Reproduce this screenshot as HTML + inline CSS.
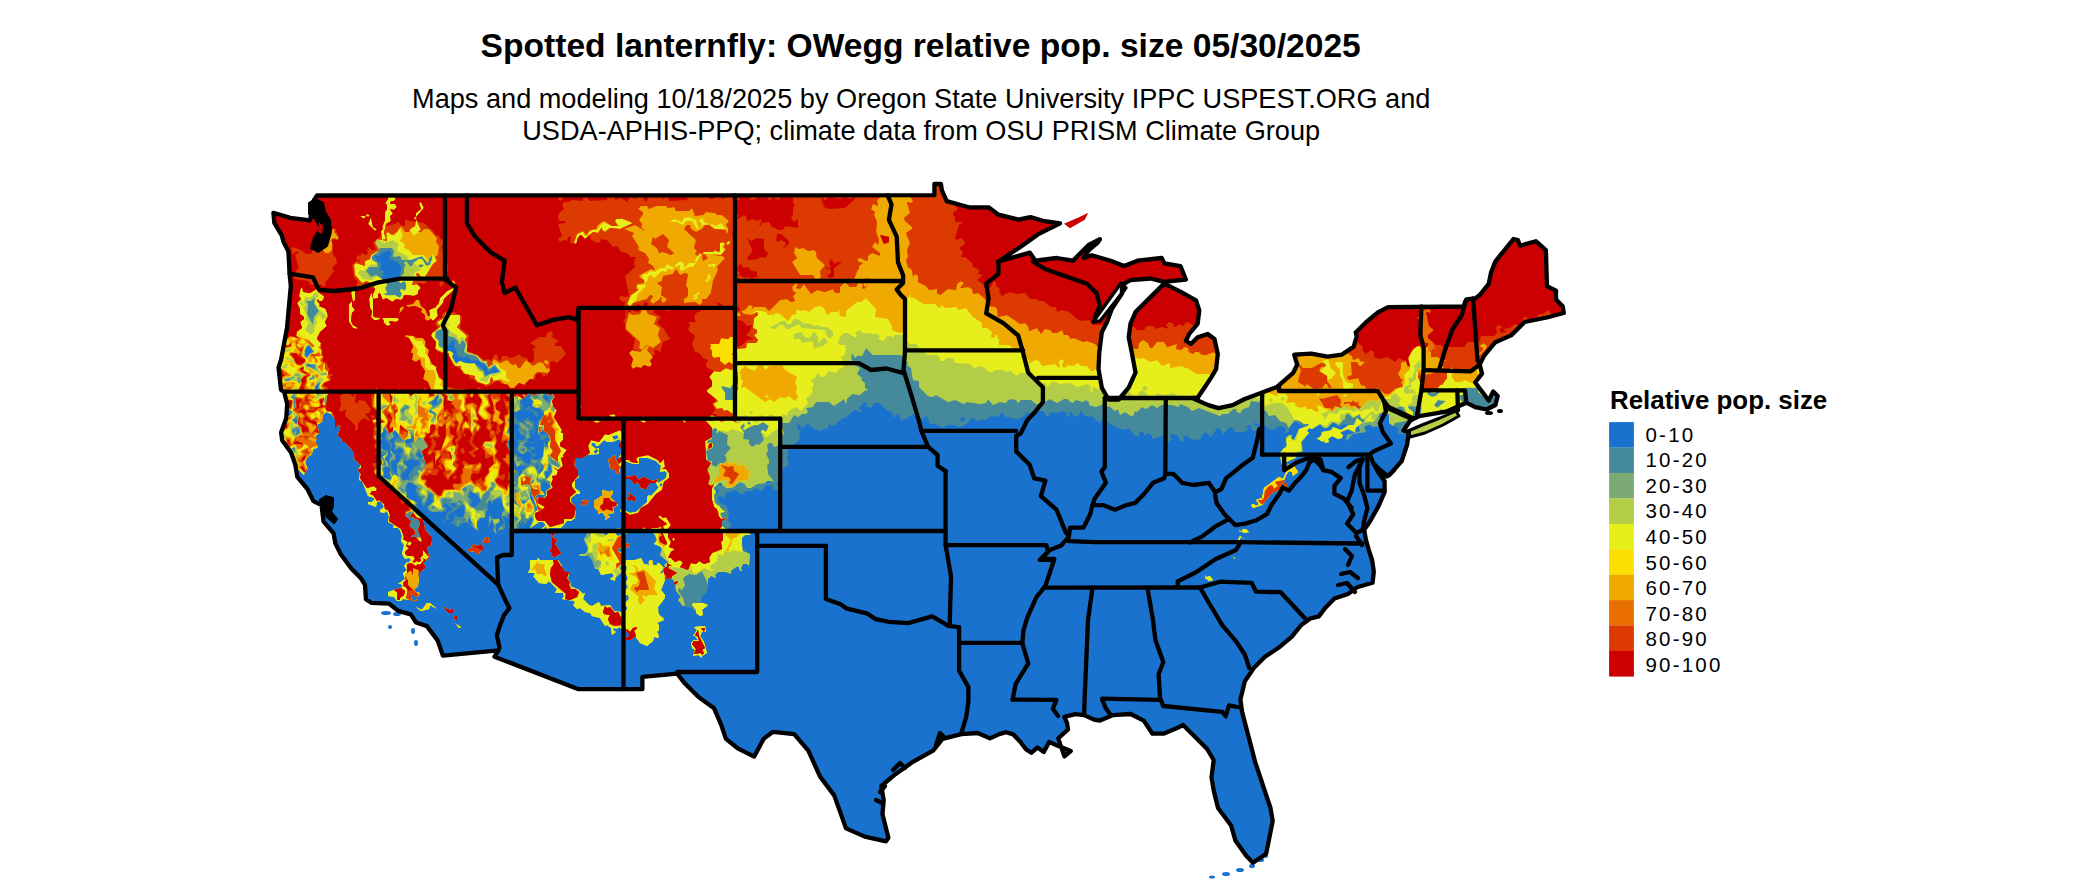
<!DOCTYPE html><html><head><meta charset="utf-8"><style>html,body{margin:0;padding:0;background:#fff;width:2100px;height:892px;overflow:hidden}svg{display:block}text{font-family:"Liberation Sans",sans-serif}</style></head><body>
<svg width="2100" height="892" viewBox="0 0 2100 892">
<rect width="2100" height="892" fill="#fff"/>
<text x="920.7" y="56.6" font-size="33.6" font-weight="bold" text-anchor="middle" fill="#000">Spotted lanternfly: OWegg relative pop. size 05/30/2025</text>
<text x="921.2" y="107.8" font-size="27.15" text-anchor="middle" fill="#000">Maps and modeling 10/18/2025 by Oregon State University IPPC USPEST.ORG and</text>
<text x="921.2" y="139.8" font-size="27.15" text-anchor="middle" fill="#000">USDA-APHIS-PPQ; climate data from OSU PRISM Climate Group</text>
<text x="1610" y="408.6" font-size="25.9" font-weight="bold" fill="#000">Relative pop. size</text>
<rect x="1609.1" y="422.10" width="24.8" height="25.6" fill="#1A72CF"/>
<text x="1645.5" y="441.80" font-size="20.5" letter-spacing="2.2" fill="#000">0-10</text>
<rect x="1609.1" y="447.53" width="24.8" height="25.6" fill="#458A9A"/>
<text x="1645.5" y="467.36" font-size="20.5" letter-spacing="2.2" fill="#000">10-20</text>
<rect x="1609.1" y="472.96" width="24.8" height="25.6" fill="#7BAA74"/>
<text x="1645.5" y="492.92" font-size="20.5" letter-spacing="2.2" fill="#000">20-30</text>
<rect x="1609.1" y="498.39" width="24.8" height="25.6" fill="#B3CD47"/>
<text x="1645.5" y="518.48" font-size="20.5" letter-spacing="2.2" fill="#000">30-40</text>
<rect x="1609.1" y="523.82" width="24.8" height="25.6" fill="#E6EE1C"/>
<text x="1645.5" y="544.04" font-size="20.5" letter-spacing="2.2" fill="#000">40-50</text>
<rect x="1609.1" y="549.25" width="24.8" height="25.6" fill="#FADF00"/>
<text x="1645.5" y="569.60" font-size="20.5" letter-spacing="2.2" fill="#000">50-60</text>
<rect x="1609.1" y="574.68" width="24.8" height="25.6" fill="#F0A900"/>
<text x="1645.5" y="595.16" font-size="20.5" letter-spacing="2.2" fill="#000">60-70</text>
<rect x="1609.1" y="600.11" width="24.8" height="25.6" fill="#E86F00"/>
<text x="1645.5" y="620.72" font-size="20.5" letter-spacing="2.2" fill="#000">70-80</text>
<rect x="1609.1" y="625.54" width="24.8" height="25.6" fill="#DC3A00"/>
<text x="1645.5" y="646.28" font-size="20.5" letter-spacing="2.2" fill="#000">80-90</text>
<rect x="1609.1" y="650.97" width="24.8" height="25.6" fill="#CC0000"/>
<text x="1645.5" y="671.84" font-size="20.5" letter-spacing="2.2" fill="#000">90-100</text>
<defs><clipPath id="land"><path d="M273.4,212.8 L290.2,217.8 L310.0,220.3 L312.0,210.0 L314.0,200.0 L317.1,195.5 L934.4,195.2 L934.4,184.0 L941.0,184.0 L941.8,190.0 L946.7,201.1 L968.9,207.3 L988.6,207.3 L998.5,214.7 L1018.2,219.6 L1030.5,217.1 L1042.9,220.8 L1060.1,223.3 L1037.9,234.4 L1020.7,246.7 L1005.9,256.6 L998.5,261.5 L1029.9,252.6 L1035.3,260.7 L1056.8,258.0 L1073.0,260.7 L1078.3,255.3 L1089.1,244.6 L1099.9,239.2 L1097.2,243.2 L1089.1,249.9 L1083.7,258.0 L1091.8,255.3 L1110.6,260.7 L1124.1,266.1 L1137.5,260.7 L1161.7,258.0 L1164.4,263.4 L1180.5,266.1 L1185.9,279.5 L1164.0,281.8 L1150.6,278.5 L1130.4,280.2 L1122.0,285.0 L1122.0,293.6 L1111.9,308.7 L1106.9,322.2 L1101.8,332.3 L1099.3,352.4 L1098.5,369.2 L1101.8,387.7 L1108.6,399.5 L1118.7,399.5 L1128.7,387.7 L1135.5,372.6 L1132.1,354.1 L1128.7,337.3 L1130.4,323.9 L1135.5,312.1 L1145.5,302.0 L1154.0,293.6 L1162.4,285.2 L1167.4,285.2 L1180.8,291.9 L1196.0,300.3 L1199.3,310.4 L1197.6,323.9 L1189.2,334.0 L1185.9,340.7 L1190.9,344.0 L1197.6,337.3 L1207.7,334.0 L1214.5,339.0 L1217.8,354.1 L1216.1,369.2 L1211.1,377.6 L1204.4,387.7 L1197.6,397.8 L1194.3,399.0 L1208.4,405.1 L1218.5,408.1 L1232.6,405.1 L1244.7,399.0 L1260.9,393.0 L1277.0,386.9 L1293.2,372.8 L1297.2,364.7 L1294.2,354.7 L1311.3,353.6 L1327.5,356.7 L1341.6,354.7 L1353.7,346.6 L1356.7,336.5 L1355.7,332.5 L1365.8,322.4 L1377.9,312.3 L1388.0,307.2 L1464.0,306.5 L1466.3,299.5 L1475.2,298.4 L1479.7,295.0 L1488.7,283.8 L1491.0,272.6 L1495.4,261.4 L1513.4,239.0 L1517.9,240.1 L1520.1,245.7 L1535.8,241.2 L1545.9,250.2 L1547.0,286.1 L1556.0,290.6 L1556.0,299.5 L1562.7,306.3 L1563.8,313.0 L1547.0,317.5 L1524.6,322.0 L1511.1,335.4 L1495.4,342.2 L1484.2,355.6 L1479.7,364.6 L1482.0,373.6 L1475.2,382.5 L1482.0,391.5 L1488.7,400.5 L1493.2,391.5 L1497.7,396.0 L1495.4,405.0 L1486.5,409.5 L1475.2,407.2 L1466.3,402.7 L1446.1,411.7 L1419.2,416.2 L1410.2,420.7 L1403.5,430.5 L1408.9,432.3 L1407.1,444.8 L1401.7,461.0 L1389.1,475.3 L1394.0,470.2 L1388.0,476.0 L1380.0,470.0 L1374.0,464.0 L1378.0,472.0 L1384.6,481.2 L1384.6,492.2 L1378.4,506.3 L1370.5,520.5 L1364.2,529.9 L1365.8,539.3 L1368.9,550.3 L1372.1,560.0 L1373.8,571.6 L1372.6,582.8 L1357.0,587.3 L1348.0,594.0 L1334.5,598.5 L1325.6,607.4 L1318.8,616.4 L1309.9,618.7 L1300.9,625.4 L1291.9,636.6 L1278.5,647.8 L1265.0,656.8 L1253.8,668.0 L1244.8,681.4 L1240.4,699.4 L1242.1,711.9 L1255.2,762.1 L1270.5,808.0 L1272.7,821.1 L1266.1,853.9 L1253.0,862.7 L1246.4,856.1 L1235.5,840.8 L1231.1,825.5 L1218.0,808.0 L1213.7,790.5 L1211.5,777.4 L1213.7,760.0 L1207.1,749.0 L1196.2,738.1 L1183.1,725.0 L1176.5,728.3 L1163.4,733.7 L1152.5,733.7 L1143.7,720.6 L1130.6,714.0 L1113.1,715.1 L1100.0,720.6 L1094.0,719.6 L1084.2,715.1 L1075.2,714.2 L1064.4,716.9 L1067.1,723.2 L1068.0,729.5 L1058.2,738.4 L1064.4,756.4 L1070.7,751.0 L1057.3,745.6 L1049.2,742.0 L1043.8,751.9 L1037.5,747.4 L1031.3,752.8 L1025.9,749.2 L1020.5,742.0 L1013.3,734.4 L1006.1,732.2 L999.9,733.9 L990.0,738.4 L977.8,733.0 L961.4,734.2 L942.5,738.9 L933.1,750.7 L911.9,762.4 L895.4,774.2 L881.3,786.0 L883.7,800.1 L882.5,814.2 L888.4,837.8 L886.0,841.3 L864.8,836.6 L846.0,828.4 L834.2,795.4 L820.1,776.6 L808.3,750.7 L794.2,734.2 L773.0,731.8 L763.6,738.9 L754.2,756.6 L737.7,748.3 L725.9,738.9 L721.2,724.8 L714.1,708.3 L698.5,697.1 L685.0,683.6 L677.2,673.6 L642.4,676.9 L642.4,689.2 L578.5,689.2 L494.5,656.7 L498.6,650.3 L443.0,655.7 L437.6,640.4 L426.9,626.1 L416.1,622.5 L410.7,614.4 L398.2,610.9 L389.2,603.7 L371.3,602.8 L365.9,599.2 L365.0,584.8 L360.5,577.7 L351.5,568.7 L340.8,554.3 L335.4,543.6 L333.6,533.4 L323.5,521.3 L321.5,505.1 L313.4,501.1 L307.4,489.0 L297.3,476.9 L295.3,464.8 L291.2,452.7 L282.2,440.5 L281.1,432.5 L286.2,418.3 L287.2,404.2 L284.2,392.1 L281.0,389.7 L278.5,367.5 L281.0,360.0 L287.0,328.0 L290.8,286.0 L289.6,273.7 L288.4,251.5 L283.4,241.7 L281.8,235.5 L274.3,222.8 Z"/></clipPath></defs>
<g clip-path="url(#land)">
<rect x="250" y="170" width="1350" height="720" fill="#1A72CF"/>
<path fill="#458A9A" fill-rule="evenodd" d="M705,626L694,627L697,630L693,636L695,636L698,640L694,640L691,643L692,648L695,650L693,656L698,655L702,658L702,656L707,653L704,642L700,636L702,632L706,632ZM449,620L456,624L459,628L461,627ZM455,616L454,618L457,620L457,616ZM444,607L448,613L453,613L453,609L450,610ZM437,609L430,603L427,603L422,610L416,607L421,611L429,609L430,605ZM1205,575L1205,578L1209,581L1213,580L1210,576L1206,577ZM1230,555L1235,559L1235,557L1234,558ZM467,549L470,552L472,551L475,552L475,554L478,554L483,548L482,545L475,546L474,544L470,549ZM488,537L486,537L482,543L490,543ZM1246,540L1240,536L1237,541L1234,541L1239,541L1241,537ZM549,532L549,534L552,534L552,549L549,550L552,553L552,556L555,557L561,553L555,544L557,540L552,537L555,533ZM1239,531L1245,533L1249,532L1246,529L1243,529L1241,532L1240,530ZM490,514L488,528L492,520L495,525L493,530L496,535L496,525L500,522L499,518L493,519ZM589,500L581,501L581,504L585,506ZM627,492L630,496L626,499L635,501L636,498ZM612,490L610,492L602,490L603,495L594,501L594,507L598,511L598,514L602,512L606,517L605,520L610,517L607,514L614,513L613,508L618,505L610,497L613,493ZM1294,461L1292,464L1287,465L1287,470L1283,479L1279,477L1264,488L1262,498L1256,500L1259,504L1257,506L1253,504L1251,505L1253,508L1262,505L1271,494L1280,489L1281,483L1284,484L1286,490L1287,483L1283,483L1286,475L1289,471L1292,472L1293,476L1298,472L1294,466ZM536,427L533,431L533,437ZM524,411L529,409L530,410L528,412L532,411L536,417L538,416L537,412L530,409L529,406ZM248,152L250,169L248,172L251,174L251,177L246,184L247,189L244,191L246,195L244,200L250,202L247,207L253,217L251,220L253,231L250,233L252,236L252,242L248,249L249,271L247,274L247,278L250,281L248,284L252,287L249,306L252,306L253,308L247,313L245,318L248,320L247,316L249,313L251,314L251,321L254,326L249,335L249,358L252,361L251,366L253,372L250,375L247,375L244,372L246,378L245,382L249,385L251,397L246,399L253,409L251,410L251,415L248,417L244,414L244,418L249,418L253,422L260,419L277,420L277,426L281,430L279,431L283,434L284,438L282,444L286,444L288,446L285,453L289,453L292,456L287,465L292,467L294,470L299,470L304,475L305,471L308,469L305,463L307,457L311,455L314,448L315,449L318,447L316,444L316,436L319,433L317,425L322,422L323,415L326,412L333,415L335,419L335,428L338,425L341,426L338,435L343,440L342,442L345,442L353,451L355,460L361,465L358,470L360,473L359,480L362,481L368,496L374,498L374,500L372,502L368,502L368,504L376,507L377,502L379,501L382,503L384,507L380,510L380,512L384,513L387,511L389,517L388,522L394,525L393,528L398,528L400,530L402,536L401,541L404,545L402,554L405,559L409,558L411,560L408,563L406,561L407,562L404,566L407,570L403,573L405,579L398,584L401,584L403,587L388,592L388,596L394,597L397,601L401,601L403,599L418,601L417,599L415,601L412,600L410,595L413,594L417,597L420,594L417,591L418,592L416,593L414,589L418,586L419,573L426,567L423,563L429,558L427,547L431,545L432,538L425,530L423,519L417,513L417,503L407,497L406,487L409,482L417,487L415,490L418,497L422,499L421,503L424,508L430,493L432,495L431,500L432,499L433,501L427,507L430,512L446,512L446,507L443,507L445,503L453,509L446,514L446,520L443,522L445,523L446,520L449,520L448,515L463,505L465,507L463,517L457,517L455,514L454,519L449,525L453,523L455,526L459,527L462,522L466,522L474,527L481,535L478,531L477,523L480,519L485,518L485,514L488,510L488,502L490,501L493,505L493,501L499,498L501,499L504,508L502,512L502,519L504,523L498,528L498,531L505,529L505,521L502,518L503,515L506,518L511,519L508,526L512,533L517,528L519,531L519,522L524,528L523,525L526,524L531,517L534,521L530,528L539,522L543,522L545,524L545,526L541,529L542,531L546,526L547,530L549,528L561,528L567,521L571,521L575,518L576,507L571,502L571,498L576,494L580,494L580,492L575,488L575,480L579,477L577,473L578,470L574,466L575,458L582,458L585,455L599,454L599,448L596,449L591,445L592,443L595,443L596,446L598,446L604,440L607,442L612,442L620,439L621,441L619,447L621,447L623,451L618,459L618,465L614,455L609,460L608,459L611,469L615,470L616,473L619,474L620,466L624,465L623,463L625,461L633,464L639,464L639,458L648,458L656,461L661,466L660,472L665,471L667,473L666,478L658,483L657,482L659,479L653,481L643,477L639,480L635,475L630,477L623,476L622,478L630,479L635,484L638,482L641,488L646,489L650,483L656,482L659,488L651,496L649,495L647,497L647,502L636,512L630,513L622,509L620,510L624,519L622,524L625,527L624,534L619,536L615,534L621,530L619,528L613,532L609,532L607,536L601,532L594,533L589,530L584,539L588,548L587,552L585,554L580,554L579,556L586,556L587,554L592,560L595,569L598,569L601,575L612,573L614,576L610,579L615,581L615,578L622,572L626,573L628,578L626,584L628,587L624,592L624,595L628,595L629,599L626,602L623,598L622,601L627,607L627,610L623,610L621,612L614,611L610,605L601,606L599,602L592,606L589,605L583,599L585,593L583,594L579,590L570,586L571,584L568,579L569,572L565,572L562,569L562,566L558,560L540,560L538,558L537,560L530,560L530,569L528,573L534,573L535,575L533,576L539,583L546,584L549,581L557,589L555,593L563,593L564,596L562,599L574,601L575,603L573,605L577,609L580,608L585,612L590,613L592,616L600,618L605,626L607,625L611,628L612,635L616,632L613,630L614,628L617,629L619,627L623,630L626,627L626,631L629,634L629,636L625,638L627,640L630,640L635,636L640,643L647,646L653,641L654,637L658,638L659,636L657,632L659,630L659,625L657,623L664,620L663,617L659,616L658,607L665,598L665,595L661,590L665,580L665,575L667,579L671,578L675,582L676,591L681,597L678,600L683,606L692,608L698,615L701,616L703,615L702,610L708,606L707,604L701,603L702,596L706,593L708,587L708,579L711,576L716,578L715,575L718,572L726,572L731,574L731,571L736,567L739,567L740,571L742,571L741,568L743,564L747,564L749,566L750,554L743,551L741,539L745,535L751,535L743,530L740,534L737,530L730,529L731,525L728,520L729,512L726,505L723,505L718,500L718,497L722,496L725,499L725,493L736,490L740,494L744,494L746,496L744,493L745,491L753,491L755,488L762,491L766,485L772,485L773,490L778,490L781,488L776,485L779,481L778,473L789,464L787,459L788,450L800,439L799,435L801,430L798,430L797,426L799,424L802,428L804,428L805,425L808,424L814,429L821,431L823,429L827,429L830,423L831,426L834,426L841,419L845,418L855,410L861,412L862,411L859,408L865,402L867,404L866,406L871,408L875,403L880,403L886,410L892,412L893,417L895,417L898,413L901,420L906,419L913,414L916,415L916,418L924,419L924,417L927,416L930,424L935,424L943,428L946,425L956,425L957,427L960,427L968,423L972,417L976,421L987,419L991,416L998,417L1002,412L1006,417L1018,419L1023,417L1028,412L1034,416L1037,410L1044,412L1047,417L1051,412L1056,413L1062,411L1067,413L1066,417L1069,416L1070,411L1075,417L1078,416L1081,411L1085,416L1094,417L1095,420L1100,423L1103,417L1110,423L1110,425L1112,424L1113,426L1124,430L1129,428L1135,436L1139,436L1140,431L1144,433L1144,436L1149,433L1152,436L1152,439L1167,435L1168,442L1172,439L1170,436L1171,434L1177,435L1181,441L1184,441L1183,438L1186,435L1190,439L1197,440L1200,439L1205,432L1209,435L1209,437L1212,436L1217,428L1219,428L1223,434L1230,427L1233,428L1235,432L1244,432L1248,430L1247,426L1250,425L1252,427L1251,430L1255,431L1258,428L1257,426L1262,422L1268,429L1275,430L1275,428L1280,426L1284,427L1286,430L1285,434L1289,431L1289,426L1296,422L1304,427L1299,429L1294,440L1291,438L1292,435L1289,435L1286,438L1287,445L1279,454L1282,464L1286,461L1302,456L1298,456L1297,454L1299,452L1304,452L1302,444L1303,440L1309,433L1307,430L1320,424L1324,428L1329,427L1329,425L1333,422L1339,427L1344,424L1349,425L1346,428L1341,430L1333,427L1332,430L1322,432L1321,436L1317,439L1316,438L1323,442L1324,440L1325,443L1329,442L1328,439L1332,436L1338,439L1342,438L1343,435L1340,433L1349,429L1355,433L1347,435L1346,441L1353,434L1366,432L1364,427L1367,425L1371,425L1372,427L1380,426L1383,420L1378,416L1381,413L1387,413L1389,415L1389,423L1393,426L1392,427L1394,426L1399,429L1397,432L1398,434L1407,434L1406,426L1409,422L1413,425L1410,429L1413,429L1412,426L1418,423L1435,423L1438,418L1447,418L1449,415L1456,420L1465,416L1466,413L1471,410L1478,413L1477,411L1479,409L1481,409L1483,413L1498,412L1505,408L1506,412L1514,411L1516,414L1520,414L1522,412L1538,413L1541,410L1547,411L1552,409L1553,413L1557,414L1561,409L1566,408L1570,412L1585,410L1592,414L1594,413L1595,409L1600,410L1601,404L1598,402L1598,399L1604,394L1601,390L1601,377L1599,375L1602,369L1602,352L1600,350L1600,346L1603,344L1602,340L1604,336L1602,334L1598,334L1598,313L1602,310L1600,305L1603,302L1603,299L1596,292L1599,289L1603,292L1605,289L1603,287L1602,278L1599,274L1600,267L1598,263L1598,259L1602,257L1601,247L1596,251L1595,248L1596,243L1602,237L1601,229L1597,224L1599,218L1603,217L1604,215L1601,211L1601,207L1604,203L1602,196L1599,195L1601,192L1604,194L1601,190L1602,183L1597,183L1596,181L1601,179L1605,172L1599,164L1604,157L1601,155L1597,159L1595,158L1599,148L1595,147L1587,148L1585,153L1580,153L1577,149L1570,152L1565,146L1558,149L1553,148L1549,152L1544,152L1537,149L1531,153L1529,152L1529,148L1522,152L1516,151L1512,147L1513,150L1507,154L1506,149L1509,146L1507,145L1506,148L1496,148L1491,153L1488,153L1481,147L1474,150L1466,148L1464,150L1465,153L1462,155L1456,148L1450,149L1449,152L1442,148L1438,148L1438,153L1435,154L1433,149L1418,148L1416,151L1403,148L1400,151L1395,146L1393,148L1388,148L1387,151L1380,156L1376,154L1375,148L1371,150L1366,149L1363,153L1360,153L1352,147L1344,150L1337,150L1337,146L1334,146L1331,150L1323,147L1321,151L1310,150L1307,153L1302,153L1295,147L1288,147L1288,150L1285,153L1279,148L1277,151L1270,151L1267,148L1263,148L1260,152L1252,152L1248,150L1241,152L1239,148L1235,147L1230,151L1222,149L1218,153L1215,150L1210,151L1199,145L1200,151L1198,153L1188,152L1186,149L1190,145L1183,149L1170,146L1163,147L1160,150L1145,150L1142,152L1139,152L1131,147L1126,151L1118,149L1115,152L1113,148L1109,147L1105,153L1102,151L1091,151L1087,148L1084,150L1079,149L1075,152L1067,153L1065,149L1068,145L1060,149L1054,148L1051,152L1041,151L1038,153L1034,153L1031,149L1024,149L1022,147L1019,153L1016,153L1013,149L1005,149L1000,151L997,148L991,151L975,152L972,150L967,153L962,150L948,152L939,149L935,153L927,148L924,151L918,151L911,148L905,153L901,150L896,151L894,146L891,145L888,147L891,151L890,154L888,154L884,148L879,152L876,149L871,148L867,153L863,148L857,150L856,147L854,147L851,152L846,152L843,146L835,150L833,148L827,148L827,150L822,154L817,150L813,151L813,147L810,149L804,148L800,153L796,153L792,150L790,152L781,153L774,151L772,148L762,148L752,151L757,155L756,157L752,157L745,148L738,147L737,153L733,153L728,150L723,152L718,149L719,152L717,154L709,146L707,146L704,149L705,153L702,154L702,148L699,147L695,149L692,148L689,152L682,151L679,148L668,151L663,144L660,144L653,151L649,150L648,148L634,149L630,146L627,152L618,152L617,147L614,147L612,149L600,150L593,154L586,153L584,155L578,151L584,148L588,150L590,147L586,144L578,147L571,145L570,147L566,148L567,150L565,153L562,152L561,147L551,151L535,153L534,151L537,148L533,144L530,150L524,148L521,153L518,152L518,149L513,153L508,150L500,152L499,149L495,149L488,155L485,152L486,147L478,150L472,146L463,148L462,153L459,151L457,152L454,148L442,151L433,151L430,149L420,151L415,148L406,152L401,148L396,148L393,150L384,150L375,154L372,152L371,147L367,147L361,150L361,155L346,149L341,149L338,154L327,155L325,150L320,148L310,148L308,152L299,152L297,150L292,152L283,147L276,146L273,148L268,147L266,150L261,150L259,153L252,147L253,151ZM663,567L665,571L661,574L660,572L662,571ZM623,563L627,567L626,573L625,570L619,569ZM626,534L635,531L639,532L644,528L647,533L649,533L650,530L655,535L657,540L654,544L660,546L662,549L660,555L668,562L664,565L666,567L664,568L659,563L657,563L657,565L653,565L652,560L649,561L649,565L644,564L641,558L635,560L625,560L625,555L617,550L619,548L624,549L630,546L630,543L626,544L623,541L626,538ZM521,522L523,521L524,524L523,525ZM468,520L470,519L472,523L470,524ZM408,518L410,517L412,519L410,520ZM508,516L510,515L513,519L512,520ZM535,508L537,507L538,510L536,511ZM450,504L454,503L457,506L454,507ZM522,502L524,500L526,501L524,503ZM514,501L515,500L518,504L516,505ZM546,495L545,497L538,497L538,499L536,499L537,495ZM530,492L536,501L535,504L531,500L529,494ZM470,491L476,494L481,501L474,508L470,505L473,501L469,497ZM718,489L719,491L717,494L715,491ZM392,491L395,489L396,490L395,492ZM390,486L391,485L393,488L391,489ZM717,485L719,483L723,484L722,486ZM659,485L661,483L663,484L661,487ZM765,483L767,481L771,482L767,484ZM544,481L550,486L546,491L546,495L541,491L540,486L542,484L543,485L542,483ZM546,471L550,473L547,479L545,475ZM384,467L390,468L390,479L384,478ZM549,464L552,471L550,473L548,468ZM542,464L543,471L540,474L538,471L541,469ZM536,464L539,466L537,470L535,467ZM511,466L514,462L517,468L518,466L529,466L522,470L522,474L520,476L518,475L519,472ZM419,460L419,465L414,467L408,476L410,479L403,480L401,475L408,468L404,462L412,459L416,461ZM380,457L381,454L384,455L381,458ZM419,452L422,456L421,459L416,455ZM593,452L596,449L599,450L596,454ZM548,437L549,440L546,446L544,439ZM413,436L414,441L406,444L405,441L407,439L411,439ZM612,436L617,435L619,438L614,440ZM539,432L542,432L542,430L546,431L548,436L547,437L546,434L541,435ZM395,430L399,436L394,441L395,447L393,450L397,450L399,448L403,450L400,455L401,457L399,462L396,464L398,469L396,475L392,469L391,462L396,460L396,455L400,450L397,454L393,453L391,451L392,444L390,442L390,440L395,436L393,432ZM386,429L387,433L385,434L385,439L390,444L390,453L392,455L389,458L389,465L385,459L388,456L388,450L383,450L381,448L382,445L379,444L379,441L383,438L378,438L378,436L381,435ZM298,428L300,430L298,435ZM1359,426L1360,431L1356,433L1355,428ZM511,423L513,426L517,423L520,427L518,429L520,434L525,437L524,440L517,440L519,445L516,449L520,454L524,454L528,451L533,456L530,461L530,465L524,462L521,457L518,457L514,449L517,453L515,455L510,450L513,445L510,446L507,443L513,437L516,438L515,439L515,434L511,434L510,430L508,429ZM1254,424L1256,422L1258,425L1256,426ZM294,420L296,419L297,422L296,423ZM960,419L962,417L966,419L962,422ZM289,410L291,414L287,416L286,413ZM543,396L546,395L549,398L548,402L544,399ZM437,395L439,396L436,403L439,404L434,405L431,402ZM529,394L532,395L529,397L533,401L531,407L540,409L544,415L542,416L541,420L538,420L538,433L541,436L539,440L542,439L544,441L543,457L537,460L532,459L537,453L532,454L530,451L536,448L531,446L529,450L524,445L527,442L534,443L537,441L530,443L527,440L531,437L530,432L534,428L534,422L528,420L530,416L524,420L524,424L515,418L517,414L514,417L512,415L514,412L522,410L523,406L520,402ZM318,384L319,386L316,390L315,387ZM306,366L308,364L312,366ZM309,345L313,352L307,358L305,351ZM445,349L453,340L455,342L454,345L458,357L464,358L467,356L472,361L477,360L486,366L488,372L491,371L494,366L500,372L486,375L484,370L475,363L469,364L459,361L456,364L452,357L453,353ZM374,256L375,255L378,257L382,253L389,250L392,254L389,258L397,262L402,267L399,278L383,280L382,278L384,271L380,270L381,263L377,261ZM1595,216L1597,214L1599,217L1596,218ZM1150,155L1155,153L1157,156L1152,157ZM606,153L609,150L612,151L610,154Z"/>
<path fill="#7BAA74" fill-rule="evenodd" d="M705,626L694,627L697,630L693,636L695,636L698,640L694,640L691,643L692,648L695,650L693,656L698,655L702,658L702,656L707,653L704,642L700,636L702,632L706,632ZM449,620L456,624L459,628L461,627ZM455,616L454,618L457,620L457,616ZM444,607L448,613L453,613L453,609L450,610ZM693,603L692,605L696,610L696,613L700,616L703,615L702,610L708,605L703,603ZM437,609L430,603L427,603L422,610L416,607L421,611L429,609L430,605ZM1205,575L1205,578L1209,581L1213,580L1210,576L1206,577ZM1230,555L1235,559L1235,557L1234,558ZM467,549L470,552L472,551L475,552L475,554L478,554L483,548L482,545L475,546L474,544L470,549ZM488,537L486,537L482,543L490,543ZM1246,540L1240,536L1237,541L1234,541L1239,541L1241,537ZM549,532L549,534L552,534L552,549L549,550L552,553L552,556L555,557L561,553L555,544L557,540L552,537L555,533ZM1239,531L1245,533L1249,532L1246,529L1243,529L1241,532L1240,530ZM504,524L498,530L503,529L502,526ZM489,515L489,525L491,520L494,521L493,523L495,527L493,530L497,534L495,528L496,524L500,522L499,519L491,519ZM589,500L581,501L581,504L585,506ZM627,492L630,496L626,499L635,501L636,498ZM612,490L610,492L602,490L603,495L594,501L594,507L598,511L598,514L602,512L606,517L605,520L610,517L607,514L614,513L613,508L618,505L610,497L613,493ZM1294,461L1292,464L1287,465L1287,470L1283,479L1279,477L1264,488L1262,498L1256,500L1259,504L1257,506L1253,504L1251,505L1253,508L1262,505L1271,494L1280,489L1281,483L1284,484L1286,490L1287,483L1283,483L1286,475L1289,471L1292,472L1293,476L1298,472L1294,466ZM531,460L534,463L538,461ZM391,450L390,452L393,456L390,459L390,463L392,459L394,460L395,456ZM526,441L520,443L518,448L520,453L523,454L527,451L527,448L522,445ZM520,450L522,447L526,449L524,452ZM521,422L519,424L522,429L521,434L523,433L522,430L524,429L527,431L526,438L529,438L528,430L533,426L530,422L525,421L527,424L532,426L529,429ZM1498,402L1505,402L1504,400L1502,401L1499,396ZM248,152L250,169L248,172L251,174L251,177L246,184L247,189L244,191L246,195L244,200L250,202L247,207L253,217L251,220L253,231L250,233L252,236L252,242L248,249L249,271L247,274L247,278L250,281L248,284L252,287L249,306L252,306L253,308L247,313L245,318L248,320L247,316L249,313L251,314L251,321L254,326L249,335L249,358L252,361L251,366L253,372L250,375L247,375L244,372L246,378L245,382L249,385L251,397L246,399L253,409L251,410L251,415L248,417L244,414L244,418L249,418L253,422L260,419L277,420L277,426L281,429L279,431L283,434L284,438L282,443L288,446L286,453L289,453L292,456L287,465L292,467L294,470L299,470L304,475L305,471L308,469L305,463L307,457L311,455L314,448L315,449L318,447L316,444L316,436L319,433L317,425L322,422L323,415L326,412L333,415L335,419L335,428L338,425L341,426L338,435L343,440L342,442L345,442L353,451L355,460L361,465L358,470L360,473L359,480L362,481L368,496L374,498L374,500L372,502L368,502L368,504L376,507L377,502L379,501L382,503L384,507L380,510L380,512L384,513L387,511L389,517L388,522L394,525L393,528L398,528L400,530L402,536L401,541L404,545L402,554L405,559L409,558L411,560L408,563L406,561L407,562L404,566L407,570L403,573L405,579L398,584L401,584L403,587L388,592L388,596L394,597L397,601L401,601L403,599L418,601L417,599L415,601L412,600L410,595L413,594L417,597L420,594L417,591L418,592L416,593L414,589L418,586L419,573L426,567L423,563L429,558L427,547L431,545L432,538L425,530L423,519L417,514L417,508L415,506L417,503L406,497L407,493L405,490L407,482L411,482L421,489L418,490L420,496L425,496L422,500L423,503L426,501L429,491L434,495L434,502L428,507L428,509L433,512L442,511L444,509L446,510L442,507L442,498L452,500L450,503L457,502L458,505L461,504L457,502L460,500L465,506L466,510L464,517L467,520L464,523L459,520L457,522L458,527L459,521L463,523L467,522L469,517L474,524L472,526L469,524L478,531L476,526L477,521L480,518L485,518L486,504L490,499L493,503L492,501L501,496L505,511L502,513L502,518L504,520L502,516L505,516L508,513L514,520L512,524L514,526L512,533L516,530L517,523L520,520L521,521L521,514L524,515L526,519L530,518L531,516L534,521L530,528L539,522L543,522L545,524L545,526L541,529L542,531L546,526L547,530L549,528L561,528L567,521L571,521L575,518L576,507L571,502L571,498L576,494L580,494L580,492L575,488L575,480L579,477L577,473L578,470L574,466L575,458L582,458L585,455L599,454L599,448L596,449L591,445L592,443L595,443L596,446L598,446L604,440L607,442L612,442L620,439L621,441L619,447L621,447L623,451L618,459L618,465L614,455L609,460L608,459L611,469L615,470L616,473L619,474L620,466L624,465L623,463L625,461L633,464L639,464L639,458L648,458L656,461L661,466L660,472L665,471L667,473L666,478L658,483L657,482L659,479L653,481L643,477L639,480L635,475L630,477L623,476L622,478L630,479L635,484L638,482L641,488L646,489L650,483L656,482L659,488L651,496L649,495L647,497L647,502L636,512L630,513L622,509L620,510L624,519L622,524L625,527L624,534L619,536L615,534L621,530L619,528L613,532L609,532L607,536L601,532L594,533L589,530L584,539L588,548L587,552L585,554L580,554L579,556L586,556L587,554L592,560L595,569L598,569L601,575L612,573L614,576L610,579L615,581L615,578L622,572L626,573L628,578L626,584L628,587L624,592L624,595L628,595L629,599L626,602L623,598L622,601L627,607L627,610L623,610L621,612L614,611L610,605L601,606L599,602L592,606L589,605L583,599L585,593L583,594L579,590L570,586L571,584L568,579L569,572L565,572L562,569L562,566L558,560L540,560L538,558L537,560L530,560L530,569L528,573L534,573L535,575L533,576L539,583L546,584L549,581L557,589L555,593L563,593L564,596L562,599L574,601L575,603L573,605L577,609L580,608L585,612L590,613L592,616L600,618L605,626L607,625L611,628L612,635L616,632L613,630L614,628L617,629L619,627L623,630L626,627L626,631L629,634L629,636L625,638L627,640L630,640L635,636L640,643L647,646L653,641L654,637L658,638L659,636L657,632L659,630L659,625L657,623L664,620L663,617L659,616L658,607L665,598L665,595L661,590L665,580L665,575L667,579L671,578L675,582L676,591L681,597L678,600L683,606L685,606L683,598L678,591L679,588L682,590L681,591L685,585L683,579L684,577L689,574L696,575L702,571L708,584L708,579L711,576L716,578L715,575L718,572L726,572L731,574L731,571L736,567L739,567L740,571L742,571L741,568L743,564L747,564L749,566L750,554L743,551L741,539L745,535L751,535L743,530L740,534L737,530L727,530L722,526L722,521L727,517L723,519L720,515L721,512L725,512L720,508L720,506L715,504L714,495L716,492L713,488L719,483L722,483L722,486L723,485L726,488L732,488L740,482L745,484L747,488L751,488L757,484L765,483L767,481L773,481L775,483L768,474L767,465L769,464L769,460L766,454L768,451L767,445L769,443L772,443L774,447L779,445L780,437L784,434L781,423L789,423L794,415L798,417L802,414L806,414L808,412L806,408L813,407L816,402L829,402L834,406L844,399L846,404L847,399L852,394L860,395L864,391L868,390L865,388L865,383L861,380L862,378L857,374L860,368L854,365L851,358L852,353L855,358L857,356L862,356L866,348L873,355L901,355L908,363L907,365L911,368L913,380L919,381L919,387L928,396L932,397L936,395L948,402L955,400L964,404L967,402L981,404L986,403L988,399L993,405L1000,402L1006,403L1008,400L1012,399L1016,400L1018,403L1021,400L1031,400L1036,404L1041,404L1050,399L1057,403L1064,399L1067,399L1072,403L1076,400L1083,402L1086,400L1089,402L1089,405L1096,407L1103,404L1105,407L1104,408L1109,406L1115,411L1118,409L1120,415L1125,412L1131,416L1133,416L1135,411L1137,412L1142,407L1146,409L1152,405L1157,408L1161,405L1172,405L1179,407L1180,404L1188,407L1192,411L1199,408L1220,416L1222,414L1228,414L1233,409L1236,409L1237,412L1240,413L1243,409L1249,407L1251,401L1259,402L1263,407L1263,410L1266,411L1269,416L1275,415L1280,421L1286,423L1289,428L1294,420L1301,421L1304,424L1309,424L1308,426L1299,429L1294,440L1291,438L1292,435L1289,435L1286,438L1287,445L1279,454L1282,464L1296,458L1296,455L1302,451L1301,442L1309,433L1307,431L1309,428L1312,429L1320,424L1324,428L1327,428L1333,422L1339,425L1344,419L1345,420L1345,416L1348,413L1353,418L1360,414L1361,418L1366,421L1363,423L1357,418L1354,425L1349,425L1341,430L1333,427L1330,431L1322,432L1321,436L1317,439L1316,438L1323,442L1324,440L1325,443L1329,442L1328,439L1332,436L1338,439L1342,438L1343,435L1340,433L1347,429L1355,433L1347,435L1346,441L1353,434L1366,432L1364,427L1367,425L1371,425L1372,427L1380,426L1383,420L1378,416L1381,413L1387,413L1389,415L1389,423L1393,426L1395,423L1406,421L1413,417L1413,412L1408,408L1409,406L1420,407L1422,409L1420,417L1432,413L1436,415L1446,415L1450,413L1459,417L1462,416L1470,404L1469,401L1466,404L1466,406L1469,407L1465,409L1462,407L1462,402L1459,396L1463,394L1465,396L1467,395L1463,394L1461,390L1462,388L1475,388L1479,385L1480,389L1478,392L1483,395L1485,399L1488,399L1492,394L1500,393L1504,397L1514,395L1523,398L1534,394L1543,399L1548,397L1555,399L1559,391L1562,396L1566,398L1573,396L1576,399L1579,395L1587,394L1591,391L1594,392L1596,396L1599,394L1604,394L1601,390L1601,377L1599,375L1602,369L1602,352L1600,350L1600,346L1603,344L1602,340L1604,336L1602,334L1598,334L1598,313L1602,310L1600,305L1603,302L1603,299L1596,292L1599,289L1603,292L1605,289L1603,287L1602,278L1599,274L1600,267L1598,263L1598,259L1602,257L1601,247L1596,251L1595,248L1596,243L1602,237L1601,229L1597,224L1599,218L1603,217L1604,215L1601,211L1601,207L1604,203L1602,196L1599,195L1601,192L1604,194L1601,190L1602,183L1597,183L1596,181L1601,179L1605,172L1599,164L1604,157L1601,155L1597,159L1595,158L1599,148L1595,147L1587,148L1585,153L1580,153L1577,149L1570,152L1565,146L1558,149L1553,148L1549,152L1544,152L1537,149L1531,153L1529,152L1529,148L1522,152L1516,151L1512,147L1513,150L1507,154L1506,149L1509,146L1507,145L1506,148L1496,148L1491,153L1488,153L1481,147L1474,150L1466,148L1464,150L1465,153L1462,155L1456,148L1450,149L1449,152L1442,148L1438,148L1438,153L1435,154L1433,149L1418,148L1416,151L1403,148L1400,151L1395,146L1393,148L1388,148L1387,151L1380,156L1376,154L1375,148L1371,150L1366,149L1363,153L1360,153L1352,147L1344,150L1337,150L1337,146L1334,146L1331,150L1323,147L1321,151L1310,150L1307,153L1302,153L1295,147L1288,147L1288,150L1285,153L1279,148L1277,151L1270,151L1267,148L1263,148L1260,152L1252,152L1248,150L1241,152L1239,148L1235,147L1230,151L1222,149L1218,153L1215,150L1210,151L1199,145L1200,151L1198,153L1188,152L1186,149L1190,145L1183,149L1170,146L1163,147L1160,150L1145,150L1142,152L1139,152L1131,147L1126,151L1118,149L1115,152L1113,148L1109,147L1105,153L1102,151L1091,151L1087,148L1084,150L1079,149L1075,152L1067,153L1065,149L1068,145L1060,149L1054,148L1051,152L1041,151L1038,153L1034,153L1031,149L1024,149L1022,147L1019,153L1016,153L1013,149L1005,149L1000,151L997,148L991,151L975,152L972,150L967,153L962,150L948,152L939,149L935,153L927,148L924,151L918,151L911,148L905,153L901,150L896,151L894,146L891,145L888,147L891,151L890,154L888,154L884,148L879,152L876,149L871,148L867,153L863,148L857,150L856,147L854,147L851,152L846,152L843,146L835,150L833,148L827,148L827,150L822,154L817,150L813,151L813,147L810,149L804,148L800,153L796,153L792,150L790,152L781,153L774,151L772,148L762,148L752,151L757,155L756,157L752,157L745,148L738,147L737,153L733,153L728,150L723,152L718,149L719,152L717,154L709,146L707,146L704,149L705,153L702,154L702,148L699,147L695,149L692,148L689,152L682,151L679,148L668,151L663,144L660,144L653,151L649,150L648,148L634,149L630,146L627,152L618,152L617,147L614,147L612,149L600,150L593,154L586,153L584,155L578,151L584,148L588,150L590,147L586,144L578,147L571,145L570,147L566,148L567,150L565,153L562,152L561,147L551,151L535,153L534,151L537,148L533,144L530,150L524,148L521,153L518,152L518,149L513,153L508,150L500,152L499,149L495,149L488,155L485,152L486,147L478,150L472,146L463,148L462,153L459,151L457,152L454,148L442,151L433,151L430,149L420,151L415,148L406,152L401,148L396,148L393,150L384,150L375,154L372,152L371,147L367,147L361,150L361,155L346,149L341,149L338,154L327,155L325,150L320,148L310,148L308,152L299,152L297,150L292,152L283,147L276,146L273,148L268,147L266,150L261,150L259,153L252,147L253,151ZM663,567L665,571L661,574L660,572L662,571ZM623,563L627,567L626,573L625,570L619,569ZM626,534L635,531L639,532L644,528L647,533L649,533L650,530L655,535L657,540L654,544L660,546L662,549L660,555L668,562L664,565L666,567L664,568L659,563L657,563L657,565L653,565L652,560L649,561L649,565L644,564L641,558L635,560L625,560L625,555L617,550L619,548L624,549L630,546L630,543L626,544L623,541L626,538ZM513,517L517,517L519,520L515,521ZM409,511L414,512L410,515L411,517L419,520L420,524L418,530L421,535L420,539L417,537L411,537L412,535L417,534L415,534L414,530L409,526L411,521L405,516L405,514ZM431,507L433,506L435,508L432,509ZM520,501L527,501L523,504ZM514,501L515,500L518,504L516,505ZM535,497L539,494L546,495L545,497L538,497L537,500ZM530,490L538,508L535,512L534,505L530,499ZM470,489L473,493L478,494L481,501L483,495L488,490L490,491L489,497L486,501L486,507L483,510L477,510L468,504L469,500L467,495ZM392,491L395,489L396,490L395,492ZM462,490L464,487L468,489L465,492ZM399,488L400,487L406,491L403,492ZM493,486L493,489L490,491L489,489ZM390,486L391,485L393,488L391,489ZM659,485L661,483L663,484L661,487ZM492,483L493,482L495,485L493,486ZM533,480L534,481L532,484L531,481ZM537,475L539,480L544,479L550,481L551,488L546,491L546,495L541,491L541,483L536,480ZM423,467L424,470L422,471L421,470ZM550,462L552,472L546,480L544,471L548,471L547,467ZM384,460L387,463L385,466L383,465ZM549,457L550,456L555,460L559,466L558,467L551,463ZM412,453L416,459L419,459L422,462L420,467L422,469L417,471L419,475L414,476L412,481L406,480L403,482L400,476L401,471L398,466L400,465L404,468L404,470L407,467L403,464L403,458L405,455L407,457L405,460L411,458L410,454ZM381,450L387,452L385,456L382,456L384,459L383,461L380,458ZM593,452L596,449L599,450L596,454ZM419,448L423,454L423,459L426,462L426,466L424,468L424,464L415,455ZM291,448L294,447L296,449L294,451ZM377,445L379,444L382,447L381,448ZM416,438L419,437L420,440L418,441ZM612,436L617,435L619,438L614,440ZM411,432L414,436L414,442L411,444L413,447L412,448L405,445L405,441L407,439L411,439ZM715,428L717,429L717,433L719,431L728,435L727,444L731,448L725,455L727,460L725,463L720,463L716,467L712,465L712,461L708,461L706,451L713,447L713,443L708,443L707,441L712,439L711,431ZM298,427L300,433L296,436L296,430L293,435L292,430ZM1359,426L1360,431L1356,433L1355,428ZM384,426L391,434L387,436L389,442L389,440L394,437L392,432L395,430L404,440L403,442L394,442L396,447L395,449L399,447L404,449L404,456L397,464L397,473L400,476L392,476L390,471L389,472L392,478L389,480L383,477L384,473L382,470L383,467L388,466L388,463L384,459L388,453L381,448L382,445L380,445L378,441L379,439L380,440L383,438L381,437L379,439L378,436L383,431ZM744,423L745,426L742,430L740,427ZM763,422L769,426L766,432L763,430L761,431L764,440L759,445L757,444L752,447L749,444L749,440L743,439L744,433L742,430ZM747,423L749,421L751,424L749,425ZM507,419L509,418L512,420L509,421ZM297,416L298,423L296,424L292,420ZM1439,410L1442,409L1443,411L1441,412ZM430,409L436,414L435,418L434,415L429,412ZM288,409L292,412L289,416L285,414ZM1397,407L1403,407L1406,413L1401,417L1399,413L1402,413L1403,411L1400,411L1399,413ZM407,405L409,407L404,410L403,414L401,410ZM1434,405L1438,400L1446,401L1437,408ZM293,395L296,399L295,408L293,406L294,400L291,397ZM532,397L536,394L539,397L536,399ZM437,394L439,396L437,402L440,398L442,399L442,402L433,408L429,402L434,400ZM531,393L533,395L530,397L533,401L532,406L540,408L544,411L544,416L542,416L543,418L539,422L538,433L541,436L539,432L542,432L542,430L546,431L549,434L548,436L550,440L548,442L548,447L544,447L544,454L540,463L544,465L543,471L539,475L535,466L532,466L532,464L530,465L532,466L527,467L519,476L519,483L513,489L517,490L518,492L516,493L512,491L514,492L512,497L509,486L511,484L515,484L516,481L515,482L510,479L510,474L512,472L516,472L510,466L514,459L517,467L522,463L525,465L521,461L517,462L517,455L515,457L514,454L508,449L507,443L511,435L515,435L511,434L509,431L507,434L506,430L510,422L513,420L513,417L512,420L510,415L513,409L514,412L520,410L520,400ZM546,391L549,395L553,395L555,397L552,398L549,404L542,397ZM535,391L538,390L540,392L537,395ZM1441,391L1436,396L1432,397L1427,394L1429,391L1432,393L1435,393L1439,389ZM734,383L738,387L735,390L737,393L735,400L725,400L725,393L721,387L723,386L730,388ZM319,382L320,384L318,388L320,389L320,392L317,395L314,388ZM286,380L289,378L290,379L289,381ZM309,379L310,377L313,378L311,380ZM299,377L300,383L298,382ZM313,374L315,376L314,379L312,377ZM306,365L308,363L312,365L315,364L316,366L313,370ZM309,345L314,352L307,358L305,356L305,349ZM436,331L445,328L449,331L448,336L454,337L458,341L459,345L463,340L466,344L464,351L465,353L476,356L481,362L485,363L489,369L495,365L500,372L490,374L485,377L483,371L480,370L474,363L469,364L459,361L456,364L452,357L453,353L446,350L446,346L444,345L443,348L439,346L439,341L435,337ZM315,297L314,303L319,311L314,317L313,325L307,314L308,304L306,301L311,301ZM418,265L422,264L424,266L420,268ZM380,248L392,248L394,251L393,257L400,256L402,259L401,260L411,260L422,256L428,263L429,258L432,255L432,262L430,265L426,266L423,260L419,259L413,263L412,266L410,266L406,261L404,263L406,265L404,268L404,273L398,279L395,279L401,283L404,281L406,283L406,289L404,291L402,289L400,290L402,294L401,297L398,298L395,295L384,295L384,293L387,293L385,288L387,285L386,283L393,278L384,281L376,275L371,277L366,271L369,267L378,267L377,263L372,260L372,256L377,253ZM1595,216L1597,214L1599,217L1596,218ZM1150,155L1155,153L1157,156L1152,157ZM606,153L609,150L612,151L610,154Z"/>
<path fill="#B3CD47" fill-rule="evenodd" d="M705,626L694,627L697,630L693,636L695,636L698,640L694,640L691,643L692,648L695,650L693,656L698,655L702,658L702,656L707,653L704,642L700,636L702,632L706,632ZM449,620L456,624L459,628L461,627ZM455,616L454,618L457,620L457,616ZM444,607L448,613L453,613L453,609L450,610ZM693,603L692,605L696,610L696,613L700,616L703,615L702,610L708,605L703,603ZM437,609L430,603L427,603L422,610L416,607L421,611L429,609L430,605ZM1205,575L1205,578L1209,581L1213,580L1210,576L1206,577ZM1230,555L1235,559L1235,557L1234,558ZM467,549L470,552L472,551L475,552L475,554L478,554L483,548L482,545L475,546L474,544L470,549ZM488,537L486,537L482,543L490,543ZM1246,540L1240,536L1237,541L1234,541L1239,541L1241,537ZM549,532L549,534L552,534L552,549L549,550L552,553L552,556L555,557L561,553L555,544L557,540L552,537L555,533ZM1239,531L1245,533L1249,532L1246,529L1243,529L1241,532L1240,530ZM499,519L494,520L493,522L495,524L499,521ZM464,516L467,519L466,522L468,519ZM589,500L581,501L581,504L585,506ZM627,492L630,496L626,499L635,501L636,498ZM612,490L610,492L602,490L603,495L594,501L594,507L598,511L598,514L602,512L606,517L605,520L610,517L607,514L614,513L613,508L618,505L610,497L613,493ZM1294,461L1292,464L1287,465L1287,470L1283,479L1279,477L1264,488L1262,498L1256,500L1259,504L1257,506L1253,504L1251,505L1253,508L1262,505L1271,494L1280,489L1281,483L1284,484L1286,490L1287,483L1283,483L1286,475L1289,471L1292,472L1293,476L1298,472L1294,466ZM402,460L402,462L398,464L404,465L406,468L407,467L403,464ZM517,457L517,466L520,465L518,464L520,461L524,464L521,461L517,462ZM412,443L412,446L415,449L414,454L417,449L412,445ZM397,443L396,445L402,446L405,453L409,456L411,448L406,448L405,442L403,444ZM530,397L534,402L533,406L536,408L543,405L541,400L535,400ZM1498,402L1505,402L1504,400L1502,401L1499,396ZM248,152L250,169L248,172L251,174L251,177L246,184L247,189L244,191L246,195L244,200L250,202L247,207L253,217L251,220L253,231L250,233L252,236L252,242L248,249L249,271L247,274L247,278L250,281L248,284L252,287L249,306L252,306L253,308L247,313L245,318L248,320L247,316L249,313L251,314L251,321L254,326L249,335L249,358L252,361L251,366L253,372L250,375L247,375L244,372L246,378L245,382L249,385L251,397L246,399L253,409L251,410L251,415L248,417L244,414L244,418L249,418L253,422L260,419L277,420L277,425L282,429L279,431L283,434L283,437L285,437L282,443L288,446L286,452L292,456L287,465L292,467L294,470L299,470L304,475L305,471L308,469L305,463L307,457L311,455L314,448L315,449L318,447L316,444L316,436L319,433L317,425L322,422L323,415L326,412L333,415L335,419L335,428L338,425L341,426L338,435L343,440L342,442L345,442L353,451L355,460L361,465L358,470L360,473L359,480L362,481L368,496L374,498L374,500L372,502L368,502L368,504L376,507L377,502L379,501L382,503L384,507L380,510L380,512L384,513L387,511L389,517L388,522L394,525L393,528L398,528L400,530L402,536L401,541L404,545L402,554L405,559L409,558L411,560L408,563L406,561L407,562L404,566L407,570L403,573L405,579L398,584L401,584L403,587L388,592L388,596L394,597L397,601L401,601L403,599L418,601L417,599L415,601L412,600L410,595L413,594L417,597L420,594L417,591L418,592L416,593L414,589L418,586L419,573L426,567L423,563L429,558L427,547L431,545L432,538L425,530L423,519L416,514L417,509L412,505L416,503L413,500L409,500L406,497L406,493L403,494L398,489L401,484L399,475L399,478L396,475L392,476L390,471L391,476L393,477L391,481L382,477L382,468L388,465L384,459L388,453L382,449L387,452L387,454L383,457L387,465L384,467L382,466L383,461L379,456L379,450L376,446L377,439L375,436L380,435L384,426L389,433L395,430L404,440L411,438L409,435L410,431L407,430L407,428L414,431L414,442L418,439L416,438L417,437L424,438L428,447L421,451L423,453L426,466L422,472L418,470L420,475L414,482L415,484L419,484L423,487L420,493L426,496L426,499L423,501L427,497L427,489L434,494L434,502L429,507L434,505L439,510L445,509L442,508L440,499L446,497L454,498L454,492L460,493L463,496L466,512L470,512L469,514L471,516L471,521L478,531L476,526L477,521L480,517L485,517L484,513L482,511L478,511L481,512L477,513L474,508L471,508L468,503L463,500L464,493L462,489L465,486L472,485L474,487L473,492L479,492L481,499L483,494L492,486L491,483L493,481L496,485L493,491L491,491L491,495L495,496L492,500L501,495L503,506L506,511L505,512L508,511L512,517L515,515L519,518L516,525L516,530L513,532L516,530L516,525L521,519L520,512L523,508L525,509L523,511L526,514L526,518L528,519L530,514L534,518L530,528L539,522L543,522L545,524L545,526L541,529L542,531L546,526L547,530L549,528L561,528L567,521L571,521L575,518L576,507L571,502L571,498L576,494L580,494L580,492L575,488L575,480L579,477L577,473L578,470L574,466L575,458L582,458L585,455L599,454L599,448L596,449L591,445L592,443L595,443L596,446L598,446L604,440L607,442L612,442L620,439L621,441L619,447L621,447L623,451L618,459L618,465L614,455L609,460L608,459L611,469L615,470L616,473L619,474L620,466L624,465L623,463L625,461L633,464L639,464L639,458L648,458L656,461L661,466L660,472L665,471L667,473L666,478L658,483L657,482L659,479L653,481L643,477L639,480L635,475L630,477L623,476L622,478L630,479L635,484L638,482L641,488L646,489L650,483L656,482L659,488L651,496L649,495L647,497L647,502L636,512L630,513L622,509L620,510L624,519L622,524L625,527L624,534L619,536L615,534L621,530L619,528L613,532L609,532L607,536L602,533L599,535L599,532L594,533L590,530L592,533L588,538L584,539L588,548L587,552L585,554L580,554L579,556L586,556L587,554L589,557L587,553L592,553L595,561L599,560L601,562L601,564L597,568L595,567L595,569L598,569L601,575L612,573L614,576L610,579L615,581L615,578L622,572L626,573L628,578L626,584L628,587L624,592L624,595L628,595L629,599L626,602L623,598L622,601L627,607L627,610L623,610L621,612L614,611L610,605L601,606L599,602L592,606L589,605L583,599L585,593L583,594L579,590L570,586L571,584L568,579L569,572L565,572L562,569L562,566L558,560L540,560L538,558L537,560L530,560L530,569L528,573L534,573L535,575L533,576L539,583L546,584L549,581L557,589L555,593L563,593L564,596L562,599L574,601L575,603L573,605L577,609L580,608L585,612L590,613L592,616L600,618L605,626L607,625L611,628L612,635L616,632L613,630L614,628L617,629L619,627L623,630L626,627L626,631L629,634L629,636L625,638L627,640L630,640L635,636L640,643L647,646L653,641L654,637L658,638L659,636L657,632L659,630L659,625L657,623L664,620L663,617L659,616L658,607L665,598L665,595L661,590L665,580L665,575L667,579L671,578L675,582L676,591L681,597L678,600L683,606L685,606L683,598L678,591L679,588L682,590L681,591L685,585L683,579L684,577L689,574L696,575L702,571L708,584L708,579L711,576L716,578L715,575L718,572L726,572L731,574L731,571L736,567L739,567L740,571L742,571L741,568L743,564L747,564L749,566L750,554L743,551L741,539L745,535L751,535L743,530L740,534L737,530L727,530L722,526L722,521L727,517L723,519L720,515L721,512L725,512L720,508L720,506L715,504L714,495L716,492L713,488L719,483L722,483L722,486L723,485L726,488L732,488L740,482L745,484L747,488L751,488L757,484L765,483L767,481L773,481L775,483L768,474L767,465L769,464L769,460L766,454L768,451L767,445L769,443L772,443L774,447L779,445L780,437L784,434L781,423L789,423L794,415L798,417L802,414L806,414L808,412L806,408L813,407L816,402L829,402L834,406L844,399L846,404L847,399L852,394L860,395L864,391L868,390L865,388L865,383L861,380L862,378L857,374L860,368L854,365L851,358L852,353L855,358L857,356L862,356L866,348L873,355L901,355L908,363L907,365L911,368L913,380L919,381L919,387L928,396L932,397L936,395L948,402L955,400L964,404L967,402L981,404L986,403L988,399L993,405L1000,402L1006,403L1008,400L1012,399L1016,400L1018,403L1021,400L1031,400L1036,404L1041,404L1050,399L1057,403L1064,399L1067,399L1072,403L1076,400L1083,402L1086,400L1089,402L1089,405L1096,407L1103,404L1105,407L1104,408L1109,406L1115,411L1118,409L1120,415L1125,412L1131,416L1133,416L1135,411L1137,412L1142,407L1146,409L1152,405L1157,408L1161,405L1172,405L1179,407L1180,404L1188,407L1192,411L1199,408L1220,416L1222,414L1228,414L1233,409L1236,409L1237,412L1240,413L1243,409L1249,407L1251,401L1259,402L1263,407L1263,410L1266,411L1269,416L1275,415L1280,421L1286,423L1289,428L1294,420L1301,421L1304,424L1309,424L1308,426L1299,429L1294,440L1291,438L1292,435L1289,435L1286,438L1287,445L1279,454L1282,464L1296,458L1296,455L1302,451L1301,442L1309,433L1307,431L1309,428L1312,429L1320,424L1324,428L1327,428L1333,422L1339,425L1344,419L1345,420L1345,416L1348,413L1353,418L1360,414L1361,418L1366,421L1363,423L1357,418L1354,425L1349,425L1341,430L1333,427L1330,431L1322,432L1321,436L1317,439L1316,438L1323,442L1324,440L1325,443L1329,442L1328,439L1332,436L1338,439L1342,438L1343,435L1340,433L1347,429L1355,432L1356,427L1362,423L1374,421L1381,413L1387,413L1389,415L1389,423L1393,426L1395,423L1406,421L1413,417L1413,412L1408,408L1409,406L1420,407L1422,409L1420,417L1432,413L1436,415L1446,415L1450,413L1459,417L1462,416L1470,404L1469,401L1466,404L1466,406L1469,407L1465,409L1462,407L1462,402L1459,396L1463,394L1465,396L1467,395L1463,394L1461,390L1462,388L1475,388L1479,385L1480,389L1478,392L1483,395L1485,399L1488,399L1492,394L1500,393L1504,397L1514,395L1523,398L1534,394L1543,399L1548,397L1555,399L1559,391L1562,396L1566,398L1573,396L1576,399L1579,395L1587,394L1591,391L1594,392L1596,396L1599,394L1604,394L1601,390L1601,377L1599,375L1602,369L1602,352L1600,350L1600,346L1603,344L1602,340L1604,336L1602,334L1598,334L1598,313L1602,310L1600,305L1603,302L1603,299L1596,292L1599,289L1603,292L1605,289L1603,287L1602,278L1599,274L1600,267L1598,263L1598,259L1602,257L1601,247L1596,251L1595,248L1596,243L1602,237L1601,229L1597,224L1599,218L1603,217L1604,215L1601,211L1601,207L1604,203L1602,196L1599,195L1601,192L1604,194L1601,190L1602,183L1597,183L1596,181L1601,179L1605,172L1599,164L1604,157L1601,155L1597,159L1595,158L1599,148L1595,147L1587,148L1585,153L1580,153L1577,149L1570,152L1565,146L1558,149L1553,148L1549,152L1544,152L1537,149L1531,153L1529,152L1529,148L1522,152L1516,151L1512,147L1513,150L1507,154L1506,149L1509,146L1507,145L1506,148L1496,148L1491,153L1488,153L1481,147L1474,150L1466,148L1464,150L1465,153L1462,155L1456,148L1450,149L1449,152L1442,148L1438,148L1438,153L1435,154L1433,149L1418,148L1416,151L1403,148L1400,151L1395,146L1393,148L1388,148L1387,151L1380,156L1376,154L1375,148L1371,150L1366,149L1363,153L1360,153L1352,147L1344,150L1337,150L1337,146L1334,146L1331,150L1323,147L1321,151L1310,150L1307,153L1302,153L1295,147L1288,147L1288,150L1285,153L1279,148L1277,151L1270,151L1267,148L1263,148L1260,152L1252,152L1248,150L1241,152L1239,148L1235,147L1230,151L1222,149L1218,153L1215,150L1210,151L1199,145L1200,151L1198,153L1188,152L1186,149L1190,145L1183,149L1170,146L1163,147L1160,150L1145,150L1142,152L1139,152L1131,147L1126,151L1118,149L1115,152L1113,148L1109,147L1105,153L1102,151L1091,151L1087,148L1084,150L1079,149L1075,152L1067,153L1065,149L1068,145L1060,149L1054,148L1051,152L1041,151L1038,153L1034,153L1031,149L1024,149L1022,147L1019,153L1016,153L1013,149L1005,149L1000,151L997,148L991,151L975,152L972,150L967,153L962,150L948,152L939,149L935,153L927,148L924,151L918,151L911,148L905,153L901,150L896,151L894,146L891,145L888,147L891,151L890,154L888,154L884,148L879,152L876,149L871,148L867,153L863,148L857,150L856,147L854,147L851,152L846,152L843,146L835,150L833,148L827,148L827,150L822,154L817,150L813,151L813,147L810,149L804,148L800,153L796,153L792,150L790,152L781,153L774,151L772,148L762,148L752,151L757,155L756,157L752,157L745,148L738,147L737,153L733,153L728,150L723,152L718,149L719,152L717,154L709,146L707,146L704,149L705,153L702,154L702,148L699,147L695,149L692,148L689,152L682,151L679,148L668,151L663,144L660,144L653,151L649,150L648,148L634,149L630,146L627,152L618,152L617,147L614,147L612,149L600,150L593,154L586,153L584,155L578,151L584,148L588,150L590,147L586,144L578,147L571,145L570,147L566,148L567,150L565,153L562,152L561,147L551,151L535,153L534,151L537,148L533,144L530,150L524,148L521,153L518,152L518,149L513,153L508,150L500,152L499,149L495,149L488,155L485,152L486,147L478,150L472,146L463,148L462,153L459,151L457,152L454,148L442,151L433,151L430,149L420,151L415,148L406,152L401,148L396,148L393,150L384,150L375,154L372,152L371,147L367,147L361,150L361,155L346,149L341,149L338,154L327,155L325,150L320,148L310,148L308,152L299,152L297,150L292,152L283,147L276,146L273,148L268,147L266,150L261,150L259,153L252,147L253,151ZM663,567L665,571L661,574L660,572L662,571ZM623,563L627,567L626,573L625,570L619,569ZM626,534L635,531L639,532L644,528L647,533L649,533L650,530L655,535L657,540L654,544L660,546L662,549L660,555L668,562L664,565L666,567L664,568L659,563L657,563L657,565L653,565L652,560L649,561L649,565L644,564L641,558L635,560L625,560L625,555L617,550L619,548L624,549L630,546L630,543L626,544L623,541L626,538ZM532,513L533,512L535,515L533,516ZM409,511L414,512L410,515L411,517L419,520L420,524L418,530L421,535L420,539L417,537L411,537L412,535L417,534L415,534L414,530L409,526L411,521L405,516L405,514ZM413,511L414,508L416,510L414,512ZM517,505L519,504L521,507L520,508ZM506,504L508,502L511,503L508,506ZM525,490L530,499L525,504L522,504L520,499L527,499L527,497L524,496L522,498L520,493ZM392,491L395,489L396,490L395,492ZM390,486L391,485L393,488L391,489ZM525,484L529,484L531,486L531,492L536,501L538,510L534,513L534,507L530,500L530,495L528,493L529,491L527,490L529,487L525,486ZM659,485L661,483L663,484L661,487ZM534,479L535,481L532,484L530,482ZM523,473L526,470L527,474L532,475L533,478L528,478ZM549,454L550,455L548,458L547,455ZM593,452L596,449L599,450L596,454ZM291,448L295,447L296,452L294,453ZM612,436L617,435L619,438L614,440ZM715,428L717,429L717,433L719,431L728,435L727,444L731,448L725,455L727,460L725,463L720,463L716,467L712,465L712,461L708,461L706,451L713,447L713,443L708,443L707,441L712,439L711,431ZM298,426L300,428L300,433L297,436L294,436L291,429ZM744,423L745,426L742,430L740,427ZM763,422L769,426L766,432L763,430L761,431L764,440L759,445L757,444L752,447L749,444L749,440L743,439L744,433L742,430ZM747,423L749,421L751,424L749,425ZM409,419L411,420L410,424L408,422ZM297,415L299,417L298,424L296,425L292,420ZM1439,410L1442,409L1443,411L1441,412ZM288,408L293,412L289,417L285,414ZM1397,407L1403,407L1406,413L1401,417L1399,413L1402,413L1403,411L1400,411L1399,413ZM379,408L384,405L388,406L381,410ZM552,404L555,410L554,413L551,410ZM405,404L410,407L408,410L405,410L404,414L409,419L403,421L400,419L402,416L400,410ZM1434,405L1438,400L1446,401L1437,408ZM394,397L396,399L394,403ZM518,396L519,397L517,400L515,398ZM449,397L452,396L453,398L452,399ZM326,395L327,402L325,404L323,402ZM438,394L439,397L437,402L440,398L442,399L442,402L438,407L431,410L437,414L436,419L432,422L431,420L434,415L428,412L432,405L427,403L433,400ZM296,394L296,407L294,409L293,399L290,398L293,394ZM480,392L484,391L486,393L490,393L485,395ZM546,391L549,395L553,395L555,398L551,401L551,407L544,412L544,416L539,423L538,433L540,435L538,432L542,432L540,428L543,424L545,427L544,431L549,434L551,440L548,443L548,448L546,449L544,447L544,454L541,461L544,465L544,469L538,478L545,478L543,473L548,468L548,458L550,456L552,459L558,462L559,461L561,467L558,468L551,464L553,465L552,473L546,480L550,481L551,488L546,491L547,494L545,497L538,497L537,500L535,497L539,494L544,495L544,493L540,490L540,483L536,480L537,472L535,468L532,466L528,467L518,478L518,487L521,490L516,494L516,502L518,504L516,505L514,503L514,497L506,497L509,495L509,486L515,483L510,479L510,474L515,471L510,467L512,464L512,460L510,458L512,453L509,451L506,444L510,437L510,434L506,433L509,426L507,419L511,419L510,413L513,409L510,400L512,399L517,406L514,411L516,412L520,409L516,402L517,400L523,399L529,393L534,396L536,394L536,390L542,392L540,393L542,397L543,392ZM1441,391L1436,396L1432,397L1427,394L1429,391L1432,393L1435,393L1439,389ZM734,383L738,387L735,390L737,393L735,400L725,400L725,393L721,387L723,386L730,388ZM320,382L321,384L319,387L323,393L317,396L317,392L314,388L317,383ZM295,377L288,382L283,380L291,376ZM300,375L301,383L299,384L297,378ZM313,374L315,379L310,380L309,378L312,377ZM294,376L296,373L300,374L299,376ZM327,373L326,375L321,375L322,373ZM306,364L314,363L318,370L314,371L312,368L307,367ZM310,345L314,352L311,353L307,359L303,354L305,353L304,350L306,346ZM436,331L445,328L449,331L448,336L454,337L458,341L459,345L463,340L466,344L464,351L465,353L476,356L481,362L485,363L489,369L495,365L500,372L490,374L485,377L483,371L480,370L474,363L469,364L459,361L456,364L452,357L453,353L446,350L446,346L444,345L443,348L439,346L439,341L435,337ZM315,297L314,303L319,311L314,317L313,325L307,314L308,304L306,301L311,301ZM418,265L422,264L424,266L420,268ZM380,248L392,248L394,251L393,257L400,256L402,259L401,260L411,260L422,256L428,263L429,258L432,255L432,262L430,265L426,266L423,260L419,259L413,263L412,266L410,266L406,261L404,263L406,265L404,268L404,273L398,279L395,279L401,283L404,281L406,283L406,289L404,291L402,289L400,290L402,294L401,297L398,298L395,295L384,295L384,293L387,293L385,288L387,285L386,283L393,278L384,281L376,275L371,277L366,271L369,267L378,267L377,263L372,260L372,256L377,253ZM1595,216L1597,214L1599,217L1596,218ZM1150,155L1155,153L1157,156L1152,157ZM606,153L609,150L612,151L610,154Z"/>
<path fill="#E6EE1C" fill-rule="evenodd" d="M705,626L694,627L697,630L693,636L695,636L698,640L694,640L691,643L692,648L695,650L693,656L698,655L702,658L702,656L707,653L704,642L700,636L702,632L706,632ZM449,620L456,624L459,628L461,627ZM455,616L454,618L457,620L457,616ZM444,607L448,613L453,613L453,609L450,610ZM693,603L692,605L696,610L696,613L700,616L703,615L702,610L708,605L703,603ZM437,609L430,603L427,603L422,610L416,607L421,611L429,609L430,605ZM677,581L674,583L675,585L678,582ZM1205,575L1205,578L1209,581L1213,580L1210,576L1206,577ZM1230,555L1235,559L1235,557L1234,558ZM467,549L470,552L472,551L475,552L475,554L478,554L483,548L482,545L475,546L474,544L470,549ZM488,537L486,537L482,543L490,543ZM1246,540L1240,536L1237,541L1234,541L1239,541L1241,537ZM549,532L549,534L552,534L552,549L549,550L552,553L552,556L555,557L561,553L555,544L557,540L552,537L555,533ZM1239,531L1245,533L1249,532L1246,529L1243,529L1241,532L1240,530ZM465,502L467,509L469,509L472,513L471,519L474,519L475,527L477,529L476,523L478,517L480,516L479,514L477,515L474,509L470,508ZM476,514L478,517L477,519L474,516ZM589,500L581,501L581,504L585,506ZM528,493L530,499L525,504L526,509L524,512L526,513L526,518L528,518L530,514L531,515L534,509ZM627,492L630,496L626,499L635,501L636,498ZM519,492L516,494L516,502L521,506L517,514L520,519L521,518L519,515L524,506L518,498ZM612,490L610,492L602,490L603,495L594,501L594,507L598,511L598,514L602,512L606,517L605,520L610,517L607,514L614,513L613,508L618,505L610,497L613,493ZM424,489L421,493L425,494L427,497ZM1294,461L1292,464L1287,465L1287,470L1283,479L1279,477L1264,488L1262,498L1256,500L1259,504L1257,506L1253,504L1251,505L1253,508L1262,505L1271,494L1280,489L1281,483L1284,484L1286,490L1287,483L1283,483L1286,475L1289,471L1292,472L1293,476L1298,472L1294,466ZM713,481L716,482L726,479L728,482L727,486L733,487L738,481L748,480L749,470L747,470L744,465L738,466L736,462L730,464L726,461L724,464L719,464L719,476ZM384,450L388,453L383,457L388,464L386,466L388,463L384,458L388,453ZM404,445L408,455L411,449L408,447L406,448ZM1375,420L1371,419L1372,415L1370,415L1363,423L1357,418L1354,425L1349,425L1341,430L1333,427L1332,430L1322,432L1321,436L1317,439L1316,438L1323,442L1324,440L1325,443L1329,442L1328,439L1332,436L1338,439L1342,438L1343,435L1340,433L1342,431L1349,429L1355,432L1355,428L1362,423L1368,421L1372,422ZM531,397L534,401L533,405L539,408L536,404L541,404L542,402L537,399L534,400ZM248,152L250,169L248,172L251,174L251,177L246,184L247,189L244,191L246,195L244,200L250,202L247,207L253,217L251,220L253,231L250,233L252,236L252,242L248,249L249,271L247,274L247,278L250,281L248,284L252,287L249,306L252,306L253,308L247,313L245,318L248,320L247,316L249,313L251,314L251,321L254,326L249,335L249,358L252,361L251,366L253,372L250,375L247,375L244,372L246,378L245,382L249,385L251,397L246,399L253,409L251,410L251,415L248,417L244,414L244,418L249,418L253,422L260,419L277,420L277,425L282,429L279,431L286,435L286,439L283,440L282,443L288,446L286,452L292,456L287,465L292,467L294,470L299,470L304,475L305,471L308,469L305,463L307,457L311,455L314,448L315,449L318,447L316,444L316,436L319,433L317,425L322,422L323,415L326,412L333,415L335,419L335,428L338,425L341,426L338,435L343,440L342,442L345,442L353,451L355,460L361,465L358,470L360,473L359,480L362,481L368,496L374,498L374,500L372,502L368,502L368,504L376,507L377,502L379,501L382,503L384,507L380,510L380,512L384,513L387,511L389,517L388,522L394,525L393,528L398,528L400,530L402,536L401,541L404,545L402,554L405,559L409,558L411,560L408,563L406,561L407,562L404,566L407,570L403,573L405,579L398,584L401,584L403,587L388,592L388,596L394,597L397,601L401,601L403,599L418,601L417,599L415,601L412,600L410,595L413,594L417,597L420,594L417,591L418,592L416,593L414,589L418,586L419,573L426,567L423,563L429,558L427,547L431,545L432,538L425,530L423,519L415,514L416,511L410,516L419,520L420,524L418,530L421,538L411,537L412,535L417,534L415,534L414,530L409,526L411,521L405,516L405,514L412,511L412,507L416,509L412,505L415,502L408,500L405,495L399,492L396,486L397,484L395,483L399,482L396,475L393,475L390,483L386,480L386,483L383,481L384,479L382,477L383,472L381,467L383,462L378,455L378,449L376,446L377,440L375,436L377,434L380,435L383,431L383,427L385,426L389,433L395,430L404,440L411,438L409,431L406,430L406,428L414,430L414,442L418,439L416,438L417,437L424,438L428,445L426,449L422,450L426,466L423,472L420,473L418,483L425,486L436,495L434,498L435,502L432,504L438,508L442,508L439,499L441,497L445,497L446,493L449,491L452,493L449,496L452,498L453,491L460,492L462,494L461,489L465,485L472,484L475,487L473,492L475,493L479,491L481,498L482,494L488,490L491,482L493,481L497,486L493,490L501,490L503,495L503,505L512,516L518,507L513,503L514,499L511,505L507,507L505,504L508,500L507,501L504,499L509,492L509,486L514,482L510,479L510,474L515,472L510,467L512,464L512,460L510,458L512,453L509,451L506,444L509,439L509,436L506,433L509,426L507,419L511,419L510,413L513,409L510,398L518,396L518,399L523,399L529,393L534,396L536,394L536,390L542,392L546,391L549,395L553,395L555,398L551,401L551,407L544,412L544,416L539,426L539,431L542,432L540,428L543,424L544,431L549,434L551,440L548,443L549,449L546,451L544,449L543,460L541,462L544,465L544,469L538,476L539,479L540,476L543,477L541,479L545,477L543,472L546,469L548,458L550,456L552,459L558,462L559,461L561,467L558,468L553,465L552,466L553,471L550,477L546,480L550,481L551,488L546,491L547,494L545,497L538,497L537,500L535,496L538,494L544,495L544,493L540,490L540,483L537,483L535,487L533,485L536,481L537,474L535,469L531,467L528,469L529,474L533,473L536,475L536,479L532,485L530,482L531,478L528,478L523,474L519,477L519,487L522,491L528,489L528,487L521,487L521,485L529,484L531,486L531,492L538,510L534,513L534,521L530,528L539,522L543,522L545,524L545,526L541,529L542,531L546,526L547,530L549,528L561,528L567,521L571,521L575,518L576,507L571,502L571,498L576,494L580,494L580,492L575,488L575,480L579,477L577,473L578,470L574,466L575,458L582,458L585,455L599,454L599,448L596,449L591,445L592,443L595,443L596,446L598,446L604,440L607,442L612,442L620,439L621,441L619,447L621,447L623,451L618,459L619,464L618,465L616,463L614,455L609,460L608,459L610,468L615,470L617,474L619,474L620,466L624,465L623,463L625,461L633,464L639,464L639,458L648,458L656,461L661,466L660,472L665,471L667,473L666,478L659,483L657,482L659,479L653,481L643,477L639,480L635,475L630,477L623,476L622,478L630,479L635,484L638,482L641,488L646,489L650,483L656,482L657,486L659,487L651,496L649,495L647,497L647,502L636,512L630,513L622,509L620,510L624,519L622,524L625,527L624,531L625,533L635,531L639,532L644,528L646,532L649,533L650,530L655,535L657,540L654,544L661,547L666,555L666,558L671,563L667,563L667,567L664,568L659,563L657,563L657,565L653,565L652,560L649,561L649,565L644,564L641,558L635,560L625,560L625,555L617,550L619,548L624,549L630,546L630,543L626,544L623,541L626,538L626,535L617,536L615,534L617,532L617,528L615,531L610,532L604,537L599,537L591,531L591,542L589,543L587,540L586,541L588,543L589,552L591,553L593,551L592,546L595,543L599,545L596,550L598,553L597,559L601,561L601,567L599,569L601,575L612,573L614,576L610,579L615,581L616,574L613,571L614,569L620,570L619,567L623,563L627,567L626,573L624,570L625,571L623,573L625,572L628,578L626,582L628,587L624,592L624,595L628,595L629,599L626,602L624,598L622,599L623,604L627,607L627,610L623,610L621,612L614,611L610,605L601,606L599,602L592,606L589,605L583,599L585,593L583,594L579,590L570,586L571,584L568,579L569,572L565,572L562,569L562,566L558,560L540,560L538,558L537,560L530,560L530,569L528,573L534,573L535,575L533,576L539,583L546,584L549,581L557,589L555,593L563,593L564,596L562,599L574,601L575,603L573,605L577,609L580,608L585,612L590,613L592,616L600,618L605,626L607,625L611,628L612,635L616,632L613,630L614,628L617,629L619,627L623,630L626,627L626,631L629,634L629,636L625,638L627,640L630,640L635,636L640,643L647,646L653,641L654,637L658,638L659,636L657,632L659,630L659,625L657,623L664,620L658,613L658,607L665,598L665,595L661,590L665,580L664,576L665,575L667,579L670,579L677,573L668,567L683,568L688,571L692,566L692,571L694,573L697,573L704,568L712,571L714,569L711,569L710,566L717,561L718,554L723,556L725,551L731,552L732,550L742,552L742,537L745,535L751,535L743,530L740,534L737,530L727,530L722,526L722,521L727,517L725,519L722,518L720,513L725,512L714,502L714,495L716,492L713,488L718,484L713,484L711,486L708,484L710,477L707,469L711,463L706,460L705,450L707,448L711,449L713,446L711,442L708,444L706,443L709,438L712,438L712,428L716,428L718,430L716,432L717,433L719,430L728,432L732,429L744,433L742,430L743,429L745,430L752,425L758,425L763,422L769,426L766,432L763,430L761,431L761,433L763,433L766,437L777,429L780,432L783,432L783,430L778,426L780,420L770,418L762,421L760,418L757,423L750,420L743,420L738,424L733,417L736,414L738,417L745,415L756,420L760,415L766,417L772,414L775,417L780,418L783,414L787,416L788,412L796,407L801,411L808,403L806,398L810,396L813,391L812,389L814,384L811,380L815,378L818,373L821,377L824,377L829,371L836,373L839,369L843,368L844,362L841,357L845,355L846,349L845,345L840,345L838,343L840,337L844,333L848,333L856,338L857,336L855,333L860,330L862,333L877,334L880,336L878,339L884,341L887,336L891,336L893,338L895,335L904,335L909,344L916,344L919,347L919,350L924,350L927,355L937,355L940,358L940,361L944,361L946,358L953,358L955,363L970,364L974,368L982,366L989,372L993,372L995,370L1003,370L1006,372L1011,371L1016,376L1021,373L1026,373L1034,378L1038,384L1046,383L1047,387L1053,381L1060,384L1070,383L1077,387L1088,384L1091,387L1090,391L1092,392L1093,387L1102,390L1109,386L1111,392L1114,394L1128,390L1134,397L1138,396L1139,392L1143,390L1150,398L1154,398L1157,393L1164,395L1174,393L1177,396L1181,395L1185,398L1189,398L1192,395L1199,396L1202,393L1214,395L1217,392L1220,392L1233,399L1234,393L1241,392L1248,395L1252,394L1253,397L1260,399L1265,394L1266,395L1263,399L1264,406L1274,403L1282,403L1287,407L1294,419L1292,423L1294,420L1298,420L1304,424L1309,424L1308,426L1299,429L1296,440L1292,441L1290,436L1286,439L1287,448L1284,448L1280,453L1283,457L1281,462L1282,464L1296,457L1297,451L1302,451L1301,442L1309,433L1307,431L1309,428L1312,429L1320,424L1327,426L1330,421L1340,422L1340,416L1342,413L1344,415L1345,413L1349,412L1353,417L1360,414L1361,418L1363,419L1372,411L1376,414L1383,411L1381,410L1382,407L1388,411L1391,409L1387,404L1381,403L1378,412L1375,411L1373,406L1370,409L1363,410L1361,412L1357,410L1353,412L1351,411L1355,406L1360,409L1367,401L1375,400L1377,402L1377,406L1378,400L1381,399L1385,402L1381,399L1391,399L1391,395L1396,393L1401,399L1399,403L1401,406L1405,407L1408,417L1413,415L1413,412L1408,408L1408,405L1412,402L1412,397L1415,394L1419,395L1418,400L1422,406L1420,417L1432,413L1436,415L1446,415L1450,413L1459,417L1463,415L1470,404L1469,401L1466,404L1466,406L1469,407L1465,409L1463,408L1462,402L1459,398L1460,395L1467,395L1464,395L1461,390L1462,388L1464,389L1467,387L1475,388L1479,385L1480,389L1478,392L1485,398L1487,392L1486,391L1485,393L1484,390L1487,387L1491,388L1492,391L1500,391L1505,389L1509,393L1516,392L1518,394L1522,389L1528,389L1531,391L1534,391L1537,387L1541,390L1554,389L1558,385L1564,388L1564,392L1570,391L1572,393L1575,393L1582,387L1586,388L1584,392L1588,388L1592,388L1597,391L1601,390L1601,377L1599,373L1602,369L1602,352L1600,350L1600,346L1603,344L1602,340L1604,336L1602,334L1598,334L1598,313L1602,310L1600,305L1603,302L1603,299L1596,292L1599,289L1603,292L1605,289L1603,287L1602,278L1599,274L1600,267L1598,263L1598,259L1602,257L1601,247L1596,251L1595,248L1596,243L1602,237L1601,229L1597,224L1599,218L1603,217L1604,215L1601,211L1601,207L1604,203L1602,196L1599,195L1601,192L1604,194L1604,192L1601,190L1602,183L1597,183L1596,181L1601,179L1605,172L1599,164L1604,157L1601,155L1597,159L1595,158L1599,148L1595,147L1587,148L1585,153L1580,153L1577,149L1570,152L1565,146L1558,149L1553,148L1549,152L1544,152L1537,149L1531,153L1529,152L1529,148L1522,152L1516,151L1512,147L1513,150L1507,154L1506,149L1509,146L1507,145L1506,148L1496,148L1491,153L1488,153L1481,147L1474,150L1466,148L1464,150L1465,153L1462,155L1456,148L1450,149L1449,152L1442,148L1438,148L1438,153L1435,154L1433,149L1418,148L1416,151L1403,148L1400,151L1395,146L1393,148L1388,148L1387,151L1380,156L1376,154L1375,148L1371,150L1366,149L1363,153L1360,153L1352,147L1344,150L1337,150L1337,146L1334,146L1331,150L1323,147L1321,151L1310,150L1307,153L1302,153L1295,147L1288,147L1288,150L1285,153L1279,148L1277,151L1270,151L1267,148L1263,148L1260,152L1252,152L1248,150L1241,152L1239,148L1235,147L1230,151L1222,149L1218,153L1215,150L1210,151L1199,145L1200,151L1198,153L1188,152L1186,149L1190,145L1183,149L1170,146L1163,147L1160,150L1145,150L1142,152L1139,152L1131,147L1126,151L1118,149L1115,152L1113,148L1109,147L1105,153L1102,151L1091,151L1087,148L1084,150L1079,149L1075,152L1067,153L1065,149L1068,145L1060,149L1054,148L1051,152L1041,151L1038,153L1034,153L1031,149L1024,149L1022,147L1019,153L1016,153L1013,149L1005,149L1000,151L997,148L991,151L975,152L972,150L967,153L962,150L948,152L939,149L935,153L927,148L924,151L918,151L911,148L905,153L901,150L896,151L894,146L891,145L888,147L891,151L890,154L888,154L884,148L879,152L876,149L871,148L867,153L863,148L857,150L856,147L854,147L851,152L846,152L843,146L835,150L833,148L827,148L827,150L822,154L817,150L813,151L813,147L810,149L804,148L800,153L796,153L792,150L790,152L781,153L774,151L772,148L762,148L752,151L757,155L756,157L752,157L745,148L738,147L737,153L733,153L728,150L723,152L718,149L719,152L717,154L709,146L707,146L704,149L705,153L702,154L702,148L699,147L695,149L692,148L689,152L682,151L679,148L668,151L663,144L660,144L653,151L649,150L648,148L634,149L630,146L627,152L618,152L617,147L614,147L612,149L600,150L593,154L586,153L584,155L578,151L584,148L588,150L590,147L586,144L578,147L571,145L570,147L566,148L567,150L565,153L562,152L561,147L551,151L535,153L534,151L537,148L533,144L530,150L524,148L521,153L518,152L518,149L513,153L508,150L500,152L499,149L495,149L488,155L485,152L486,147L478,150L472,146L463,148L462,153L459,151L457,152L454,148L442,151L433,151L430,149L420,151L415,148L406,152L401,148L396,148L393,150L384,150L375,154L372,152L371,147L367,147L361,150L361,155L346,149L341,149L338,154L327,155L325,150L320,148L310,148L308,152L299,152L297,150L292,152L283,147L276,146L273,148L268,147L266,150L261,150L259,153L252,147L253,151ZM663,567L665,571L661,574L660,572L662,571ZM605,562L608,561L609,565L607,566ZM614,539L613,542L607,541L608,539ZM510,510L512,509L514,511L512,513ZM512,507L515,506L517,508L514,510ZM392,491L395,489L396,490L395,492ZM390,486L391,485L393,488L391,489ZM659,485L661,483L663,484L661,487ZM295,455L297,457L296,462L291,465L290,462ZM549,454L550,455L548,458L547,455ZM453,454L455,456L454,460L452,456ZM593,452L596,449L599,450L596,454ZM452,447L454,449L453,452L450,450ZM290,448L295,447L299,454L296,455ZM484,445L486,443L491,443L494,448L492,449ZM612,436L617,435L619,438L614,440ZM381,424L383,428L379,435L377,429ZM744,423L745,426L742,430L740,427ZM471,423L472,422L475,425L473,427ZM292,422L294,426L298,426L301,429L301,433L295,437L291,434L290,424ZM747,423L749,421L751,424L749,425ZM711,421L713,419L715,420L713,422ZM474,413L475,416L471,423L471,414ZM749,413L751,411L753,412L752,414ZM1439,410L1442,409L1443,411L1441,412ZM1352,410L1340,410L1337,414L1329,413L1324,421L1324,417L1321,414L1328,411L1334,411L1337,407L1349,407ZM287,407L299,416L297,426L291,420L295,417L293,414L289,417L285,415L284,411ZM552,404L555,410L554,413L550,410ZM404,404L411,406L408,412L413,416L413,424L411,426L407,422L398,420L400,417L400,409ZM379,409L381,404L389,405L381,411ZM1434,405L1438,400L1446,401L1437,408ZM427,400L428,401L425,402L425,405L423,406L422,402ZM1271,398L1273,400L1271,403L1269,400ZM398,398L399,401L397,404L396,400ZM1281,400L1282,397L1285,398L1283,401ZM408,397L410,396L414,399L412,400ZM395,395L396,401L394,403L393,396ZM522,395L524,394L526,396L524,397ZM439,394L444,398L440,407L432,410L437,413L435,423L432,424L430,421L434,415L428,412L432,406L427,403L432,400L436,394ZM415,394L418,396L418,412L416,415L414,414L416,411L414,406L416,399L414,396ZM327,392L327,402L325,404L323,402ZM452,391L453,393L451,395L454,397L454,400L451,402L447,394ZM295,391L295,394L297,393L298,396L295,397L296,407L293,410L293,399L290,398ZM480,391L490,391L491,393L489,395L485,395ZM1441,391L1436,396L1432,397L1427,394L1429,391L1432,393L1435,393L1439,389ZM1142,389L1144,386L1148,387L1146,391ZM294,387L296,386L298,389L295,390ZM734,383L738,387L735,390L737,393L735,400L725,400L725,393L721,387L723,386L730,388ZM1100,383L1102,382L1104,385L1101,386ZM321,377L324,379L319,386L325,392L322,394L325,394L315,400L314,399L317,396L314,388L316,381L318,380L317,378ZM313,373L315,375L315,379L309,381L308,379L312,377ZM303,374L300,384L295,381L285,382L283,380L285,377L288,378L293,376L295,373ZM288,364L286,369L280,367L284,366L286,363ZM278,364L281,363L282,365L280,366ZM304,364L306,362L310,364L317,364L317,368L321,372L320,373L324,373L325,371L328,375L320,376L316,371L309,367L307,371ZM1420,360L1421,367L1416,373L1416,379L1411,383L1411,387L1408,388L1410,390L1413,389L1416,393L1406,394L1404,392L1404,387L1409,385L1409,380L1407,378L1412,378L1415,370L1414,366ZM285,359L288,356L289,359L292,358L294,360L295,364L293,365L291,361ZM281,349L286,350L290,348L291,350L288,352L283,352ZM307,344L310,345L315,352L310,354L306,359L303,354ZM794,334L801,332L805,337L809,338L812,335L811,334L815,332L818,337L818,343L823,338L825,338L828,342L823,346L817,347L816,349L813,346L813,341L802,343L800,339L794,339ZM435,332L439,329L447,327L451,332L457,335L459,341L461,337L463,337L467,344L466,346L468,353L475,354L481,360L487,361L488,367L494,363L502,372L494,376L490,375L487,382L481,381L480,379L483,377L483,373L478,371L475,364L464,363L461,361L456,364L452,357L453,353L450,351L445,352L438,346L438,341L435,338ZM445,324L448,323L450,325L448,326ZM769,328L782,321L785,321L787,324L791,324L794,319L797,319L805,324L807,323L815,326L818,325L820,327L827,327L833,332L833,335L831,338L828,338L825,330L802,328L799,324L789,329L786,329L783,325L779,325L776,329ZM299,302L302,301L304,305L302,306ZM316,292L319,296L316,298L315,304L319,310L326,315L326,318L322,320L321,316L318,316L316,319L317,322L314,329L315,331L311,335L305,330L309,322L306,320L307,316L303,307L306,306L304,303L305,297L310,298ZM418,265L422,264L424,266L420,268ZM377,239L384,243L393,240L399,244L397,248L398,252L406,255L409,260L422,256L428,263L429,258L432,255L433,256L430,265L426,266L422,259L419,259L414,263L421,270L415,272L412,279L406,279L404,277L400,278L399,280L395,279L401,283L404,281L406,283L406,289L404,291L402,289L400,290L402,294L400,298L395,295L389,296L383,294L387,293L385,288L387,285L386,283L393,278L385,281L377,276L372,280L363,279L358,273L360,270L364,271L371,264L376,265L377,263L372,260L372,256L379,250L375,243ZM1595,216L1597,214L1599,217L1596,218ZM1150,155L1155,153L1157,156L1152,157ZM606,153L609,150L612,151L610,154Z"/>
<path fill="#FADF00" fill-rule="evenodd" d="M698,630L695,635L698,637L699,641L694,641L692,644L696,649L694,654L701,653L702,655L704,653L702,650L705,648L699,636ZM701,628L704,632L705,628ZM637,627L633,628L630,632L627,629L626,631L629,634L629,636L625,638L627,640L630,640L636,636L634,630L636,630ZM449,620L456,624L459,628L461,627ZM455,616L454,618L457,620L457,616ZM444,607L448,613L453,613L453,609L450,610ZM605,606L603,612L604,614L610,615L608,619L610,624L615,626L621,625L623,628L623,621L618,612L615,613L610,607L607,608ZM437,609L430,603L427,603L422,610L416,607L421,611L429,609L430,605ZM624,592L624,595L628,595L629,598L628,594L625,596ZM401,588L394,590L397,592L397,600L400,600L400,598L404,595L405,591ZM677,581L674,583L675,585L678,582ZM630,564L635,567L636,571L634,573L628,573L636,577L638,581L636,584L633,584L630,589L639,597L638,600L640,605L646,599L645,600L642,597L644,595L646,597L649,595L658,595L654,589L656,581L644,569L639,571L636,566ZM657,563L664,568L664,573L667,579L672,578L672,576L677,573L668,568L669,566L672,566L667,563L667,567L664,568ZM536,561L537,562L531,571L535,569L537,574L543,574L544,576L547,575L544,568L545,564L540,564ZM653,561L650,560L648,563L650,564L649,565L644,564L648,566L652,564ZM553,560L554,564L551,568L550,574L552,582L566,594L565,599L570,600L577,597L579,592L575,589L571,589L569,585L570,583L567,578L569,572L565,572L557,560ZM467,549L470,552L472,551L475,552L475,554L478,554L483,548L482,545L475,546L474,544L470,549ZM488,537L486,537L482,543L490,543ZM611,533L608,537L605,537L611,538L613,536L616,538L615,541L610,541L608,544L603,538L607,543L603,546L601,543L596,542L599,545L597,550L600,554L599,558L603,562L602,563L604,560L604,555L611,561L616,559L610,551L612,550L620,562L616,564L617,570L617,568L621,564L622,565L625,557L623,553L620,553L617,550L619,548L624,549L630,546L630,543L626,544L623,541L626,538L626,535L616,537ZM549,532L549,534L552,534L552,549L549,550L552,553L552,556L555,557L561,553L555,544L557,540L552,537L555,533ZM741,531L740,534L738,531L734,532L733,531L735,530L727,530L725,534L731,540L726,551L730,551L728,549L731,545L732,539L737,537ZM474,519L476,528L477,521ZM439,504L438,506L440,508L441,505ZM513,502L509,508L510,512L509,510L513,509L511,508L512,505L517,507L513,504ZM589,500L581,501L581,504L585,506ZM530,500L526,504L527,508L525,512L528,511L531,514L533,507ZM627,492L630,496L626,499L635,501L636,498ZM519,492L516,494L516,502L521,506L518,513L518,517L520,518L519,513L524,506L522,506L518,499ZM612,490L610,492L602,490L603,495L594,501L594,507L598,511L598,514L602,512L606,517L605,520L610,517L607,514L614,513L613,508L618,505L610,497L613,493ZM622,478L630,479L635,484L638,482L641,488L646,489L650,483L655,483L659,479L653,481L643,477L639,480L635,475L630,477L623,476ZM1294,461L1292,464L1287,465L1287,470L1283,479L1279,477L1264,488L1262,498L1256,500L1259,504L1257,506L1253,504L1251,505L1253,508L1262,505L1271,494L1280,489L1281,483L1284,484L1286,490L1287,483L1283,483L1286,475L1289,471L1292,472L1293,476L1298,472L1294,466ZM713,481L716,482L726,479L728,482L727,486L733,487L738,481L748,480L749,470L747,470L744,465L738,466L736,462L730,464L726,461L724,464L719,464L719,476ZM384,456L384,459L388,464L384,459ZM405,448L409,450L408,454L410,449ZM712,443L709,444L708,449L712,447ZM539,427L539,431L542,432L540,429L541,427ZM539,400L533,404L537,408L535,405L540,401ZM401,397L400,399L403,402L412,404L404,397ZM740,371L741,379L743,381L741,388L745,387L765,402L770,399L774,402L780,397L786,398L789,396L795,401L798,397L796,393L797,386L795,384L798,374L797,377L785,370L782,365L769,366L766,370L763,367L763,363L760,362L755,371L747,368L746,365ZM765,396L767,395L769,397L766,398ZM248,152L250,169L248,172L251,174L251,177L246,184L247,189L244,191L246,195L244,200L250,202L247,207L253,217L251,220L253,231L250,233L252,236L252,242L248,249L249,271L247,274L247,278L250,281L248,284L252,287L249,306L252,306L253,308L247,313L245,318L248,320L247,316L249,313L251,314L251,321L254,326L249,335L249,358L252,361L251,366L253,372L250,375L247,375L244,372L246,378L245,382L249,385L251,397L246,399L253,409L251,410L252,413L249,417L245,414L243,416L245,419L249,418L253,422L260,419L275,419L278,421L277,425L282,429L279,431L284,433L284,431L290,428L289,425L292,422L294,426L296,426L293,421L288,422L293,416L291,415L287,417L283,411L287,407L299,416L298,425L301,429L301,433L292,441L290,430L289,437L287,435L286,440L284,442L283,440L282,443L288,446L286,452L292,456L287,465L289,467L296,465L297,470L301,469L304,474L308,469L305,463L307,457L311,455L313,448L318,447L316,444L316,436L319,433L317,424L322,422L325,408L327,412L330,411L332,413L331,414L335,419L335,428L338,425L341,426L338,435L343,440L342,442L345,442L353,451L355,460L361,465L361,468L358,470L361,474L360,478L367,488L374,486L377,489L376,491L372,491L370,494L373,495L377,501L379,500L384,504L385,509L388,510L390,515L389,521L401,529L404,537L403,539L408,542L406,546L409,548L405,552L405,554L408,555L406,556L413,556L415,558L413,562L412,560L414,563L416,561L419,562L421,561L420,558L423,555L423,550L429,557L426,560L423,558L424,560L420,565L418,564L416,566L411,563L406,565L408,572L405,574L406,580L403,583L404,587L405,586L408,589L406,598L412,601L418,601L417,599L415,601L412,600L410,595L413,594L417,597L420,594L417,591L418,592L416,593L414,589L418,586L419,573L426,567L423,563L429,558L427,547L431,545L432,538L425,530L423,519L416,516L415,513L411,514L410,516L419,520L420,524L418,530L422,541L420,542L416,537L411,537L412,535L417,534L415,534L414,530L409,526L411,521L405,516L405,514L412,510L410,503L414,502L408,500L404,495L397,496L392,491L395,489L397,490L394,483L398,481L398,477L393,475L396,477L393,479L391,484L387,484L380,480L383,473L380,467L383,462L377,455L377,440L374,437L377,432L375,429L381,423L386,424L383,425L383,429L385,426L387,431L391,433L394,431L392,430L394,428L404,440L408,437L410,438L408,435L409,431L405,429L406,427L413,429L416,432L414,435L414,442L418,439L416,438L417,437L424,438L428,447L422,451L426,466L420,475L420,482L423,482L424,486L436,495L436,501L434,504L439,498L444,496L443,494L446,491L455,490L462,493L461,489L470,483L472,483L476,488L473,492L476,492L478,488L481,490L481,496L481,494L490,486L490,480L488,477L493,471L497,472L497,475L493,476L493,479L498,487L494,490L501,488L504,495L503,499L509,492L509,485L513,482L510,479L510,474L515,472L510,467L512,464L512,460L510,458L512,453L509,451L506,444L509,439L509,436L506,433L509,426L507,419L511,419L510,413L513,409L510,398L518,396L523,399L529,393L534,396L536,394L536,390L542,392L546,391L549,395L553,394L555,399L552,403L554,408L557,410L553,418L553,413L549,410L551,405L551,407L544,413L545,416L540,422L540,425L543,424L545,427L544,431L549,434L551,440L550,447L553,451L551,454L550,451L546,454L546,461L544,463L543,462L545,465L544,470L548,463L546,454L550,453L551,454L549,457L550,456L558,462L558,456L561,453L557,444L560,437L557,435L559,429L555,426L556,420L562,430L561,433L563,433L563,440L560,443L560,446L567,450L563,455L564,457L561,458L563,466L558,470L553,467L558,471L557,475L552,476L553,479L551,484L553,488L547,491L547,496L545,498L539,497L537,500L535,497L537,494L544,494L540,491L539,483L537,483L535,487L533,483L532,487L530,482L531,478L526,476L521,476L519,478L519,486L523,489L524,488L520,486L525,484L529,484L531,486L531,492L536,501L538,510L540,511L535,513L535,517L538,521L545,521L550,527L564,523L564,519L571,519L574,517L576,507L570,502L570,497L576,492L572,487L572,483L578,476L578,470L574,466L575,458L582,458L590,453L588,446L591,440L599,442L605,434L608,435L620,430L623,433L624,439L619,444L619,447L621,447L623,451L621,453L621,457L618,459L618,465L614,455L609,460L608,459L611,469L615,470L616,473L619,474L619,469L621,467L618,465L622,460L629,460L631,462L638,463L636,459L638,457L648,455L658,460L660,463L664,459L665,467L662,469L666,469L669,473L669,478L664,482L662,490L656,494L648,504L641,508L638,513L630,515L625,512L621,512L624,519L622,524L625,527L625,533L629,531L639,531L644,527L647,531L652,528L659,527L658,541L659,544L663,546L664,551L663,549L667,543L662,532L664,531L663,526L667,524L658,517L660,515L663,518L666,517L671,525L668,529L668,537L671,542L669,547L675,549L671,552L668,558L671,558L675,562L680,560L683,563L680,567L688,570L691,563L696,564L699,561L704,564L710,562L709,558L712,553L722,549L721,542L723,540L723,531L719,530L722,526L722,521L727,517L725,519L721,519L719,517L718,511L714,507L712,500L712,488L714,484L711,486L708,484L710,477L707,469L711,463L706,460L705,441L712,437L712,428L705,420L708,419L711,421L712,419L709,417L712,415L719,417L721,422L729,419L737,423L733,419L736,414L734,409L735,412L733,414L727,410L724,411L722,408L717,409L713,404L718,401L707,392L707,390L712,386L712,381L709,377L714,371L720,372L726,368L731,370L734,368L738,375L736,377L738,387L735,390L737,393L733,407L733,404L736,402L735,396L738,388L738,373L736,371L738,370L737,369L736,371L733,366L738,359L735,352L739,348L746,348L747,343L757,342L758,339L754,335L757,333L757,330L753,328L754,318L758,315L757,312L755,314L753,313L756,310L766,312L768,315L771,315L772,313L773,316L775,313L780,314L788,321L792,315L796,314L797,309L800,311L806,310L809,312L815,307L820,306L824,308L827,315L831,312L838,312L839,309L840,316L844,317L846,316L846,311L857,302L861,302L866,298L876,309L875,317L888,319L892,326L892,330L900,333L907,329L907,313L905,311L905,306L908,304L903,300L909,297L910,294L911,298L914,298L924,304L935,304L939,308L942,305L945,308L956,307L959,310L966,308L973,317L982,323L982,328L987,328L992,332L991,337L994,338L996,334L998,336L997,338L999,339L999,345L1009,345L1015,350L1015,352L1022,347L1024,352L1021,358L1027,358L1029,360L1029,364L1035,360L1039,361L1042,366L1055,364L1059,368L1060,365L1058,362L1062,359L1064,361L1062,365L1064,368L1068,365L1073,366L1078,363L1081,366L1087,366L1091,371L1093,371L1107,360L1109,364L1114,364L1120,361L1124,363L1132,358L1134,363L1133,358L1136,357L1139,359L1143,358L1150,362L1157,360L1162,366L1170,363L1170,368L1183,366L1184,368L1187,368L1197,374L1211,374L1213,381L1218,376L1219,377L1222,372L1226,372L1234,381L1239,380L1241,375L1246,373L1248,375L1246,382L1251,382L1253,378L1267,385L1268,387L1264,389L1269,393L1277,396L1279,392L1285,393L1288,397L1286,403L1293,402L1296,404L1295,406L1301,408L1305,406L1307,409L1312,409L1316,412L1319,411L1317,407L1318,405L1330,411L1334,411L1337,407L1349,407L1352,410L1355,406L1360,409L1367,401L1375,400L1377,402L1377,406L1377,401L1380,399L1381,394L1383,397L1389,396L1398,388L1402,388L1405,382L1404,375L1410,369L1410,363L1408,361L1409,354L1414,348L1420,346L1422,349L1424,348L1426,350L1422,353L1425,356L1422,360L1423,368L1421,370L1419,369L1417,372L1419,372L1418,377L1421,384L1420,388L1425,390L1437,389L1440,385L1442,385L1447,378L1447,372L1452,367L1452,377L1455,382L1462,382L1464,380L1475,384L1478,383L1478,374L1476,369L1480,366L1489,370L1494,370L1500,366L1502,368L1507,366L1515,370L1520,365L1535,365L1542,368L1545,364L1556,366L1561,361L1564,367L1569,367L1571,363L1576,365L1580,363L1582,365L1582,370L1585,370L1589,364L1595,365L1598,362L1601,363L1602,361L1600,346L1603,344L1602,340L1604,336L1602,334L1598,334L1598,313L1602,310L1600,305L1603,302L1603,299L1596,292L1599,289L1603,292L1605,289L1603,287L1602,278L1599,274L1600,267L1598,263L1598,259L1602,257L1601,247L1596,251L1595,248L1596,243L1602,237L1601,229L1597,224L1599,218L1603,217L1604,215L1601,211L1601,207L1604,203L1602,196L1599,195L1601,192L1604,194L1604,192L1601,190L1602,183L1597,183L1596,181L1601,179L1605,172L1599,164L1604,157L1601,155L1597,159L1595,158L1599,148L1595,147L1587,148L1585,153L1580,153L1577,149L1570,152L1565,146L1558,149L1553,148L1549,152L1544,152L1537,149L1531,153L1529,152L1529,148L1522,152L1516,151L1512,147L1513,150L1507,154L1506,149L1509,146L1507,145L1506,148L1496,148L1491,153L1488,153L1481,147L1474,150L1466,148L1464,150L1465,153L1462,155L1456,148L1450,149L1449,152L1442,148L1438,148L1438,153L1435,154L1433,149L1418,148L1416,151L1403,148L1400,151L1395,146L1393,148L1388,148L1387,151L1380,156L1376,154L1375,148L1371,150L1366,149L1363,153L1360,153L1352,147L1344,150L1337,150L1337,146L1334,146L1331,150L1323,147L1321,151L1310,150L1307,153L1302,153L1295,147L1288,147L1288,150L1285,153L1279,148L1277,151L1270,151L1267,148L1263,148L1260,152L1252,152L1248,150L1241,152L1239,148L1235,147L1230,151L1222,149L1218,153L1215,150L1210,151L1199,145L1200,151L1198,153L1188,152L1186,149L1190,145L1183,149L1170,146L1163,147L1160,150L1145,150L1142,152L1139,152L1131,147L1126,151L1118,149L1115,152L1113,148L1109,147L1105,153L1102,151L1091,151L1087,148L1084,150L1079,149L1075,152L1067,153L1065,149L1068,145L1060,149L1054,148L1051,152L1041,151L1038,153L1034,153L1031,149L1024,149L1022,147L1019,153L1016,153L1013,149L1005,149L1000,151L997,148L991,151L975,152L972,150L967,153L962,150L948,152L939,149L935,153L927,148L924,151L918,151L911,148L905,153L901,150L896,151L894,146L891,145L888,147L891,151L890,154L888,154L884,148L879,152L876,149L871,148L867,153L863,148L857,150L856,147L854,147L851,152L846,152L843,146L835,150L833,148L827,148L827,150L822,154L817,150L813,151L813,147L810,149L804,148L800,153L796,153L792,150L790,152L781,153L774,151L772,148L762,148L752,151L757,155L756,157L752,157L745,148L738,147L737,153L733,153L728,150L723,152L718,149L719,152L717,154L709,146L707,146L704,149L705,153L702,154L702,148L699,147L695,149L692,148L689,152L682,151L679,148L668,151L663,144L660,144L653,151L649,150L648,148L634,149L630,146L627,152L618,152L617,147L614,147L612,149L600,150L593,154L586,153L584,155L578,151L584,148L588,150L590,147L586,144L578,147L571,145L570,147L566,148L567,150L565,153L562,152L561,147L551,151L535,153L534,151L537,148L533,144L530,150L524,148L521,153L518,152L518,149L513,153L508,150L500,152L499,149L495,149L488,155L485,152L486,147L478,150L472,146L463,148L462,153L459,151L457,152L454,148L442,151L433,151L430,149L420,151L415,148L406,152L401,148L396,148L393,150L384,150L375,154L372,152L371,147L367,147L361,150L361,155L346,149L341,149L338,154L327,155L325,150L320,148L310,148L308,152L299,152L297,150L292,152L283,147L276,146L273,148L268,147L266,150L261,150L259,153L252,147L253,151ZM409,541L412,543L410,546L407,545ZM674,537L675,540L673,541L672,539ZM537,504L538,503L545,507L543,509L540,508ZM532,487L537,487L538,489L534,490ZM390,486L391,485L393,488L391,489ZM522,481L524,478L526,480L524,482ZM380,469L381,471L379,473L377,471ZM294,454L297,457L297,462L291,466L289,464L293,459ZM450,447L455,448L455,460L452,464L455,468L454,471L448,466L453,459L449,449ZM290,447L294,446L300,451L300,455L295,455L289,450ZM304,445L306,444L308,447L307,448ZM484,444L486,442L493,443L494,449L493,450L490,447L486,447ZM419,421L421,425L420,427L417,426ZM600,421L603,417L606,418L605,420ZM581,418L594,418L601,422L596,423L592,420L583,421ZM683,416L686,422L685,423L681,420ZM638,420L642,417L643,419L642,417L644,416L646,422L644,423ZM311,418L312,415L315,416L313,419ZM610,420L611,417L609,415L614,414L616,416L612,421ZM544,413L546,411L548,412L546,414ZM316,412L318,411L320,414L318,416ZM474,410L476,418L473,418L472,420L475,424L472,431L470,418ZM390,407L392,410L391,412L389,410ZM278,408L280,407L283,409L279,410ZM576,405L578,403L582,407L579,408ZM389,403L389,406L381,412L386,417L385,421L380,418L378,406L382,403ZM484,399L488,401L488,405L485,406L482,411L485,413L486,418L478,412L485,402L483,400ZM463,399L465,401L464,410L461,408ZM427,399L428,401L425,402L425,407L420,404L423,400ZM381,397L383,400L382,402L380,401ZM1343,396L1345,394L1347,395L1346,397ZM522,395L524,394L526,396L524,397ZM461,393L463,396L460,399L459,395ZM436,393L441,394L444,397L444,400L438,409L432,410L438,413L436,418L437,423L433,425L429,423L430,419L433,417L433,414L431,415L428,413L428,410L432,406L425,403L428,402L430,398L434,397L434,394ZM378,393L379,396L376,399L375,395ZM394,394L397,395L401,392L411,401L412,400L407,397L405,393L406,392L411,397L413,397L412,395L415,392L418,394L419,399L417,405L419,411L417,416L415,417L409,411L411,409L416,411L412,409L409,411L409,413L414,416L414,423L412,426L407,425L405,428L404,425L407,423L395,422L395,414L399,411L399,407L402,405L398,408L396,406L396,402L392,405L391,404ZM1315,392L1319,391L1320,393L1318,396ZM1372,393L1376,390L1380,391L1374,394ZM480,391L490,391L491,393L489,395L485,395ZM452,390L453,393L451,395L454,397L454,400L451,402L448,399L447,393ZM292,388L299,396L295,397L296,407L293,410L291,409L293,400L290,398L291,395L287,395L289,392L292,393ZM294,387L297,386L298,389L296,391ZM307,384L308,383L310,386L308,387ZM320,376L325,377L328,380L324,381L321,386L320,385L320,387L328,393L327,402L325,405L323,404L325,394L316,401L313,400L317,396L313,393L313,388L316,385L315,381ZM313,373L315,375L315,379L309,382L308,378ZM279,363L282,362L283,366L284,363L287,363L292,368L296,368L295,372L303,373L304,375L301,379L301,383L299,385L298,383L291,381L283,382L282,381L286,376L289,377L294,375L293,376L290,374L293,372L292,373L291,370L289,373L287,371L288,368L286,370L282,369L278,365ZM1336,362L1343,362L1343,374L1346,382L1353,384L1353,387L1350,389L1352,390L1349,392L1346,392L1343,388L1343,381L1340,376L1340,370L1335,364ZM303,364L306,361L310,364L312,362L316,364L318,363L319,365L317,368L321,371L321,373L325,370L328,375L322,377L319,376L310,368L308,369L309,371L306,372ZM1328,359L1331,368L1336,373L1331,379L1328,380L1327,376L1322,374L1320,371L1326,366L1323,361ZM282,346L284,349L288,349L290,347L293,349L288,354L289,358L294,360L296,364L295,366L291,361L283,360L286,358L286,353L281,352ZM300,342L302,339L305,341L303,343ZM412,336L416,341L422,341L426,350L425,353L430,359L430,365L433,365L436,368L439,378L442,381L440,385L446,390L445,392L435,390L434,387L436,377L434,370L428,370L425,367L425,358L420,357L417,354L418,350L408,337ZM296,333L297,332L301,337L297,337ZM382,318L398,318L399,320L396,322L390,321L389,322L391,325L387,326L383,322L384,321ZM445,313L448,315L455,314L461,316L460,323L457,327L467,336L465,340L467,343L467,352L477,355L483,361L487,361L488,367L494,363L498,364L500,368L506,371L506,378L510,380L509,382L501,379L493,381L492,377L488,385L478,382L475,379L475,376L465,374L461,369L461,366L455,366L449,356L449,353L447,354L441,352L435,348L436,342L431,336L432,333L440,327L440,324L439,326L437,322L444,318ZM352,301L352,306L355,310L352,313L351,321L353,325L358,328L357,329L353,328L349,322L349,304ZM696,294L698,298L694,300L693,299L696,297L693,296ZM371,293L373,295L373,315L374,317L381,318L378,320L374,320L371,317L372,311L370,308L369,299ZM696,294L698,292L700,293L698,295ZM353,288L355,290L355,300L353,302L351,293ZM301,287L303,289L302,291L310,293L318,288L318,292L324,296L324,299L322,301L319,301L318,299L317,301L320,304L319,306L325,308L328,314L325,322L327,326L317,337L318,341L321,343L321,346L319,346L316,353L311,354L307,359L302,354L304,352L304,347L309,344L313,350L315,346L308,339L297,332L302,328L300,322L304,319L304,317L300,314L300,309L297,303L301,299L299,296ZM645,283L646,286L638,294L636,300L630,307L627,302L631,295L639,290L637,285L644,285ZM453,280L456,288L444,299L443,303L437,310L437,318L432,321L429,315L429,310L436,307L436,305L440,302L440,298L447,291L453,288ZM708,278L709,281L706,282L705,281ZM709,273L711,278L710,280L707,277ZM708,265L710,264L713,266L709,267ZM674,268L672,270L668,268L666,272L662,271L654,278L651,275L649,276L646,283L642,277L643,274L647,274L650,271L655,272L660,268L665,268L667,264ZM711,264L716,264L714,268ZM674,266L680,261L684,263L684,268L689,263L696,263L693,267L689,267L682,271L680,270L680,265L676,267ZM703,255L700,256L696,263L695,261L698,254ZM725,244L722,246L725,251L721,255L702,254L704,252L713,252L715,250L718,252L720,251L720,243L723,242ZM726,244L728,241L731,242L728,245ZM588,236L585,239L581,235L577,239L578,242L576,244L574,243L577,234L583,232L585,236ZM400,229L403,235L400,241L405,244L404,248L409,250L413,255L424,255L429,262L428,258L433,254L437,261L433,264L425,277L422,278L418,273L416,274L418,279L414,279L412,285L418,284L421,288L418,291L418,294L414,296L406,295L403,296L404,297L401,300L396,299L392,302L386,298L383,300L379,293L378,298L374,299L372,296L375,290L373,285L367,281L362,283L355,275L354,265L356,263L365,266L365,261L370,259L371,255L379,250L375,243L376,240L379,239L387,241L387,232L394,236ZM726,229L716,229L710,225L712,224L716,226L721,223ZM633,223L620,229L609,228L605,232L601,228L602,227L598,233L593,232L590,235L588,234L592,230L597,230L603,222L612,226L618,226L615,221L616,219L623,219ZM416,219L421,230L414,236L410,230L412,227L415,227ZM698,221L702,218L705,223L711,224L703,225L702,227L701,222ZM701,228L697,229L692,221L686,221L683,225L677,222L670,222L674,219L682,222L684,218L689,217L696,220L698,227ZM371,217L373,227L377,229L375,231L368,224ZM414,219L415,216L417,218L415,220ZM360,216L366,216L364,219ZM1595,216L1597,214L1599,217L1596,218ZM365,215L368,214L370,216L368,217ZM421,202L424,208L416,217L416,213L421,209L419,203ZM388,194L396,198L394,201L391,201L390,204L395,204L397,207L394,210L390,209L393,214L390,216L391,221L386,224L384,233L386,239L382,240L381,231L385,220L385,212L387,209L387,205L385,203L388,199ZM1150,155L1155,153L1157,156L1152,157ZM606,153L609,150L612,151L610,154Z"/>
<path fill="#F0A900" fill-rule="evenodd" d="M698,630L695,635L698,637L699,641L694,641L692,644L696,649L694,654L701,653L702,655L704,653L702,650L705,648L699,636ZM701,628L704,632L705,628ZM637,627L633,628L630,632L627,629L626,631L629,634L629,636L625,638L627,640L630,640L636,636L634,630L636,630ZM455,616L454,618L457,620L457,616ZM444,607L448,613L453,613L453,609L450,610ZM605,606L603,612L604,614L610,615L608,619L610,624L615,626L621,625L623,628L623,621L618,612L615,613L610,607L607,608ZM401,588L394,590L397,592L397,600L400,600L400,598L404,595L405,591ZM677,581L674,583L675,585L678,582ZM630,564L635,567L636,571L634,573L628,573L636,577L638,581L636,584L633,584L630,589L639,597L638,600L640,605L646,599L645,600L642,597L644,595L646,597L649,595L658,595L654,589L656,581L644,569L639,571L636,566ZM657,563L664,568L664,573L667,579L672,578L672,576L677,573L668,568L669,566L672,566L667,563L667,567L664,568ZM536,561L537,562L531,571L535,569L537,574L543,574L544,576L547,575L544,568L545,564L540,564ZM553,560L554,564L551,568L550,574L552,582L566,594L565,599L570,600L577,597L579,592L575,589L571,589L569,585L570,583L567,578L569,572L565,572L557,560ZM467,549L470,552L472,551L475,552L475,554L478,554L483,548L482,545L475,546L474,544L470,549ZM596,542L599,545L597,550L600,554L600,558L600,556L604,553L608,557L612,556L609,546L603,546L601,543ZM488,537L486,537L482,543L490,543ZM626,535L618,537L612,548L620,562L616,564L617,570L617,568L621,564L622,565L625,557L623,553L620,553L617,550L619,548L624,549L630,546L630,543L626,544L623,541L626,538ZM549,532L549,534L552,534L552,549L549,550L552,553L552,556L555,557L561,553L555,544L557,540L552,537L555,533ZM741,531L740,534L738,531L734,532L733,531L735,530L727,530L725,534L731,540L726,551L730,551L728,549L731,545L732,539L737,537ZM530,502L527,504L526,512L531,512L533,509ZM589,500L581,501L581,504L585,506ZM627,492L630,496L626,499L635,501L636,498ZM519,492L516,494L516,502L522,508L518,514L520,517L519,513L524,506L521,506L521,502L518,499ZM612,490L610,492L602,490L603,495L594,501L594,507L598,511L598,514L599,512L603,512L606,517L605,520L610,517L607,514L614,513L613,508L618,505L610,497L613,493ZM1285,480L1275,482L1278,486L1274,489L1272,485L1269,486L1265,491L1264,498L1262,500L1258,500L1260,503L1263,504L1271,494L1280,489L1281,483L1284,484L1286,490L1287,483L1283,483ZM622,478L630,479L635,484L638,482L641,488L646,489L650,483L655,483L659,479L653,481L643,477L639,480L635,475L630,477L623,476ZM288,466L292,467L295,464L293,466L290,466L289,464ZM544,463L544,469L547,464ZM713,481L716,482L726,479L728,482L727,486L733,487L738,481L748,480L749,470L747,470L744,465L738,466L736,462L730,464L726,461L724,464L719,464L719,476ZM712,443L709,444L708,449L712,447ZM539,427L539,431L542,432L540,429L541,427ZM400,424L399,434L402,439L405,440L408,437L410,438L408,435L409,431ZM535,402L534,405L538,408L534,404ZM740,371L741,379L743,381L741,388L745,387L765,402L770,399L774,402L780,397L786,398L789,396L795,401L798,397L796,393L797,386L795,384L798,374L797,377L785,370L782,365L769,366L766,370L763,367L763,363L760,362L755,371L747,368L746,365ZM765,396L767,395L769,397L766,398ZM285,353L286,354L284,353L282,358L286,357L283,357L283,354ZM248,152L250,169L248,172L251,174L251,177L246,184L247,189L244,191L246,195L244,200L250,202L247,207L253,217L251,220L253,231L250,233L252,236L252,242L248,249L249,271L247,274L247,278L250,281L248,284L252,287L249,306L252,306L253,308L247,313L245,318L248,320L247,316L249,313L251,314L251,321L254,326L249,335L249,358L252,361L251,366L253,372L250,375L247,375L244,372L246,378L245,382L249,385L251,397L246,399L253,409L251,410L252,413L249,417L245,414L243,416L245,419L249,418L253,422L260,419L278,420L277,425L282,429L280,431L282,432L289,428L289,425L292,422L294,423L288,422L293,416L291,415L287,418L280,410L277,409L278,407L285,410L286,407L290,410L292,408L291,406L293,401L288,398L290,396L287,397L285,394L288,393L288,390L294,388L295,384L297,384L294,382L283,383L282,381L284,377L289,377L291,375L277,365L280,362L289,362L292,367L295,367L290,361L282,362L278,358L278,354L281,352L281,347L283,345L286,349L290,346L292,347L292,343L294,343L296,348L293,352L290,352L289,355L294,359L294,362L297,365L302,367L297,369L297,372L304,374L297,392L298,394L305,396L303,398L295,397L296,407L293,411L299,416L298,425L301,429L301,433L297,437L296,436L292,442L291,432L291,438L286,436L286,441L282,443L288,446L286,452L292,456L292,459L292,455L294,454L291,451L288,451L291,446L295,445L297,450L302,448L305,444L309,447L301,451L300,453L302,453L302,455L296,455L297,462L299,463L297,464L297,467L305,473L308,468L305,466L304,462L313,452L311,449L313,447L318,447L316,444L316,436L319,433L317,423L321,423L323,420L323,409L325,407L327,412L332,412L331,414L335,419L335,428L338,425L341,426L338,435L343,440L342,442L345,442L353,451L355,460L361,465L361,468L358,470L361,474L360,478L367,488L374,486L377,489L376,491L372,491L370,494L373,495L377,501L379,500L384,504L385,509L388,510L390,515L389,521L401,529L404,537L403,539L408,542L406,546L409,548L405,552L405,554L408,555L406,556L413,556L415,558L413,562L412,560L414,563L416,561L419,562L421,561L420,558L423,555L423,550L429,557L426,560L423,558L424,560L420,565L418,564L416,566L411,563L406,565L408,572L405,574L406,580L403,583L404,587L405,586L408,589L406,598L412,601L418,601L417,599L415,601L412,600L410,595L413,594L417,597L420,594L417,591L418,592L416,593L414,589L418,586L419,573L426,567L423,563L429,558L427,547L431,545L432,538L425,530L423,519L415,516L415,513L411,514L410,516L419,520L420,524L418,530L422,541L420,542L416,537L411,537L412,535L417,534L415,534L414,530L409,526L411,521L405,516L407,512L411,511L409,504L410,501L404,496L397,496L392,491L395,488L394,483L398,480L395,480L392,485L385,484L379,480L382,475L375,471L382,464L382,461L377,455L377,440L374,437L377,432L375,429L382,422L385,422L380,418L379,412L374,406L375,392L377,393L379,390L384,399L390,404L382,411L388,422L385,426L383,426L386,427L389,433L394,431L392,430L395,426L397,430L395,414L398,411L398,408L395,403L393,405L391,404L393,400L391,393L393,391L396,394L399,389L399,392L404,394L406,391L411,397L413,393L423,391L425,389L429,393L428,398L434,397L435,393L441,394L444,397L442,409L439,411L437,416L437,423L435,425L432,424L429,430L427,425L430,418L433,416L428,414L428,410L431,406L427,405L425,403L426,402L425,404L430,406L428,409L420,406L419,403L422,399L420,395L418,402L418,417L415,419L413,426L407,426L407,428L412,428L414,431L417,427L418,428L416,426L417,420L421,417L422,418L420,420L422,425L420,434L418,434L418,430L415,433L414,442L418,439L416,438L423,437L428,445L428,447L422,451L426,466L420,477L421,481L424,482L424,485L437,495L436,502L436,500L441,497L445,491L455,489L461,492L461,488L470,482L472,482L475,487L478,487L481,490L481,493L488,489L488,486L485,483L486,478L491,471L489,469L492,466L494,469L498,469L498,475L494,480L495,483L504,490L503,492L505,495L507,494L508,487L512,483L510,474L515,472L510,467L512,464L512,460L510,458L512,453L509,451L506,444L509,436L505,433L505,427L507,426L508,428L509,426L507,419L511,419L510,413L513,409L510,398L518,396L523,399L529,393L534,396L536,394L536,390L542,392L546,391L549,395L553,394L555,399L552,403L557,411L553,418L552,412L550,411L547,415L545,414L540,422L540,425L544,425L544,431L549,434L551,440L550,447L553,451L549,457L550,456L558,462L558,456L561,451L557,446L555,435L559,429L554,426L556,420L558,422L558,425L562,430L561,433L563,433L563,440L560,443L560,446L567,450L563,455L564,457L561,458L563,466L558,470L553,467L558,471L557,475L552,476L553,479L551,484L553,488L547,491L547,496L545,498L539,497L537,500L535,497L537,494L544,494L540,491L539,484L535,487L533,484L532,487L530,482L531,478L526,476L522,478L520,477L522,482L521,485L529,484L531,486L531,492L536,501L538,510L540,511L535,513L536,519L538,521L545,521L550,527L564,523L564,519L571,519L574,517L576,507L570,502L570,497L576,492L572,487L572,483L578,476L578,470L574,466L575,458L582,458L590,453L588,446L591,440L599,442L605,434L608,435L620,430L623,433L624,439L619,444L619,447L621,447L623,451L621,453L621,457L618,459L618,465L614,455L609,460L608,459L611,469L615,470L616,473L619,474L619,469L621,467L618,465L622,460L629,460L631,462L638,463L636,459L638,457L648,455L658,460L660,463L664,459L665,467L662,469L666,469L669,473L669,478L664,482L662,490L656,494L648,504L641,508L638,513L630,515L625,512L621,512L624,519L622,524L625,527L624,531L625,533L629,531L639,531L644,527L648,531L652,528L659,527L658,541L659,544L663,546L664,551L663,549L667,543L662,532L664,531L663,526L667,524L658,517L660,515L663,518L666,517L671,525L668,529L668,537L671,542L669,547L675,549L671,552L668,558L671,558L675,562L680,560L683,563L680,567L688,570L691,563L696,564L699,561L704,564L710,562L709,558L712,553L722,549L721,542L723,540L723,531L719,530L722,526L722,521L727,518L721,519L719,517L718,511L714,507L712,500L712,488L714,484L711,486L708,484L710,477L707,469L711,463L706,460L705,441L712,437L712,428L705,420L708,419L711,421L712,419L709,417L712,415L719,417L721,422L729,419L737,423L733,419L736,414L734,409L735,412L733,414L727,410L724,411L722,408L717,409L713,404L718,401L707,392L707,390L712,386L712,381L709,377L714,371L720,372L726,368L731,370L734,368L738,375L736,377L738,387L735,390L737,393L733,407L733,404L736,402L735,396L738,388L738,373L736,371L738,370L737,369L736,371L733,365L737,361L736,363L732,364L729,362L725,365L720,361L720,357L714,358L712,356L712,351L710,348L711,345L709,344L719,344L721,338L728,339L730,337L735,337L735,350L732,355L735,355L738,359L735,354L737,349L746,348L747,343L756,343L758,340L754,335L757,333L757,330L753,328L754,318L758,315L757,312L755,314L753,313L756,310L766,312L768,315L771,315L772,313L773,316L775,313L780,314L788,321L792,315L796,314L797,309L800,311L806,310L809,312L815,307L820,306L824,308L827,315L831,312L838,312L839,309L840,316L844,317L846,316L846,311L857,302L861,302L866,298L876,309L875,317L888,319L892,326L892,330L900,333L907,329L907,313L905,311L905,306L908,304L903,300L909,297L910,294L911,298L914,298L924,304L935,304L939,308L942,305L945,308L956,307L959,310L966,308L973,317L982,323L982,328L987,328L992,332L991,337L994,338L996,334L998,336L997,338L999,339L999,345L1009,345L1015,350L1015,352L1022,347L1024,352L1021,358L1027,358L1029,360L1029,364L1035,360L1039,361L1042,366L1055,364L1059,368L1060,365L1058,362L1062,359L1064,361L1062,365L1064,368L1068,365L1073,366L1078,363L1081,366L1087,366L1091,371L1093,371L1107,360L1109,364L1114,364L1120,361L1124,363L1132,358L1134,363L1133,358L1136,357L1139,359L1143,358L1150,362L1157,360L1162,366L1170,363L1170,368L1183,366L1184,368L1187,368L1197,374L1211,374L1213,381L1218,376L1219,377L1222,372L1226,372L1234,381L1239,380L1241,375L1246,373L1248,375L1246,382L1251,382L1253,378L1267,385L1268,387L1264,389L1269,393L1277,396L1279,392L1285,393L1288,397L1286,403L1293,402L1296,404L1295,406L1301,408L1305,406L1307,409L1312,409L1316,412L1319,411L1317,407L1318,405L1330,411L1334,411L1337,407L1349,407L1352,410L1355,406L1360,409L1367,401L1375,400L1377,402L1377,406L1377,401L1380,399L1381,394L1383,397L1389,396L1398,388L1402,388L1405,382L1404,375L1410,369L1410,363L1408,361L1409,354L1414,348L1420,346L1422,349L1424,348L1426,350L1422,353L1425,356L1422,360L1423,368L1421,370L1419,369L1417,372L1419,372L1418,377L1421,384L1420,388L1425,390L1437,389L1440,385L1442,385L1447,378L1447,372L1452,367L1452,377L1455,382L1462,382L1464,380L1475,384L1478,383L1478,374L1476,369L1480,366L1489,370L1494,370L1500,366L1502,368L1507,366L1515,370L1520,365L1535,365L1542,368L1545,364L1556,366L1561,361L1564,367L1569,367L1571,363L1576,365L1580,363L1582,365L1582,370L1585,370L1589,364L1595,365L1598,362L1601,363L1602,361L1600,346L1603,344L1602,340L1604,336L1602,334L1598,334L1598,313L1602,310L1600,305L1603,302L1603,299L1596,292L1599,289L1603,292L1605,289L1603,287L1602,278L1599,274L1600,267L1598,263L1598,259L1602,257L1601,247L1596,251L1595,248L1596,243L1602,237L1601,229L1597,224L1599,218L1603,217L1604,215L1601,211L1601,207L1604,203L1602,196L1599,195L1601,192L1604,194L1604,192L1601,190L1602,183L1597,183L1596,181L1601,179L1605,172L1599,164L1604,157L1601,155L1597,159L1595,158L1599,148L1595,147L1587,148L1585,153L1580,153L1577,149L1570,152L1565,146L1558,149L1553,148L1549,152L1544,152L1537,149L1531,153L1529,152L1529,148L1522,152L1516,151L1512,147L1513,150L1507,154L1506,149L1509,146L1507,145L1506,148L1496,148L1491,153L1488,153L1481,147L1474,150L1466,148L1464,150L1465,153L1462,155L1456,148L1450,149L1449,152L1442,148L1438,148L1438,153L1435,154L1433,149L1418,148L1416,151L1403,148L1400,151L1395,146L1393,148L1388,148L1387,151L1380,156L1376,154L1375,148L1371,150L1366,149L1363,153L1360,153L1352,147L1344,150L1337,150L1337,146L1334,146L1331,150L1323,147L1321,151L1310,150L1307,153L1302,153L1295,147L1288,147L1288,150L1285,153L1279,148L1277,151L1270,151L1267,148L1263,148L1260,152L1252,152L1248,150L1241,152L1239,148L1235,147L1230,151L1222,149L1218,153L1215,150L1210,151L1199,145L1200,151L1198,153L1188,152L1186,149L1190,145L1183,149L1170,146L1163,147L1160,150L1145,150L1142,152L1139,152L1131,147L1126,151L1118,149L1115,152L1113,148L1109,147L1105,153L1102,151L1091,151L1087,148L1084,150L1079,149L1075,152L1067,153L1065,149L1068,145L1060,149L1054,148L1051,152L1041,151L1038,153L1034,153L1031,149L1024,149L1022,147L1019,153L1016,153L1013,149L1005,149L1000,151L997,148L991,151L975,152L972,150L967,153L962,150L948,152L939,149L935,153L927,148L924,151L918,151L911,148L905,153L901,150L896,151L894,146L891,145L888,147L891,151L890,154L888,154L884,148L879,152L876,149L871,148L867,153L863,148L857,150L856,147L854,147L851,152L846,152L843,146L835,150L833,148L827,148L827,150L822,154L817,150L813,151L813,147L810,149L804,148L800,153L796,153L792,150L790,152L781,153L774,151L772,148L762,148L752,151L757,155L756,157L752,157L745,148L738,147L737,153L733,153L728,150L723,152L718,149L719,152L717,154L709,146L707,146L704,149L705,153L702,154L702,148L699,147L695,149L692,148L689,152L682,151L679,148L668,151L663,144L660,144L653,151L649,150L648,148L634,149L630,146L627,152L618,152L617,147L614,147L612,149L600,150L593,154L586,153L584,155L578,151L584,148L588,150L590,147L586,144L578,147L571,145L570,147L566,148L567,150L565,153L562,152L561,147L551,151L535,153L534,151L537,148L533,144L530,150L524,148L521,153L518,152L518,149L513,153L508,150L500,152L499,149L495,149L488,155L485,152L486,147L478,150L472,146L463,148L462,153L459,151L457,152L454,148L442,151L433,151L430,149L420,151L415,148L406,152L401,148L396,148L393,150L384,150L375,154L372,152L371,147L367,147L361,150L361,155L346,149L341,149L338,154L327,155L325,150L320,148L310,148L308,152L299,152L297,150L292,152L283,147L276,146L273,148L268,147L266,150L261,150L259,153L252,147L253,151ZM409,541L412,543L410,546L407,545ZM674,537L675,540L673,541L672,539ZM537,504L538,503L545,507L543,509L540,508ZM532,487L539,488L534,490ZM390,486L391,485L393,488L391,489ZM522,478L525,477L526,480L523,482ZM499,464L496,467L492,466L497,463ZM455,446L455,460L452,465L456,469L453,472L451,469L446,467L445,461L452,460L451,452L446,450L449,447ZM485,442L496,442L494,446L496,452L494,454L490,448L486,448L483,445ZM447,436L449,440L447,445L444,447L443,445ZM419,435L424,434L425,436L421,438ZM421,430L427,428L429,432L428,433L426,431L424,433ZM479,426L480,427L478,430L477,427ZM465,422L469,427L464,428ZM372,420L376,419L377,422L374,423ZM600,421L603,417L606,418L605,420ZM581,418L594,418L601,422L596,423L592,420L583,421ZM683,416L686,422L685,423L681,420ZM638,420L642,417L643,419L642,417L644,416L646,422L644,423ZM610,420L611,417L609,415L614,414L616,416L612,421ZM314,413L316,417L312,420L310,415ZM317,411L320,412L320,419L316,416L317,414L315,413ZM471,407L475,410L476,418L478,419L472,420L476,425L472,432L470,429ZM390,405L392,410L391,412L388,411ZM304,406L307,405L309,408L307,410ZM576,405L578,403L582,407L579,408ZM310,403L318,403L319,404L317,405L319,404L320,406L315,407ZM1343,396L1345,394L1347,395L1346,397ZM522,395L524,394L526,396L524,397ZM471,397L472,394L474,396L472,398ZM481,393L488,400L488,405L484,407L484,410L488,416L486,419L478,413L478,410L483,403L480,396ZM461,393L465,400L465,410L462,412L460,407L462,400L458,398ZM1315,392L1319,391L1320,393L1318,396ZM1372,393L1376,390L1380,391L1374,394ZM479,392L484,390L490,391L491,393L489,395L485,395L483,393L480,394ZM453,389L455,392L452,396L455,398L451,402L448,400L447,393L449,390L450,392ZM279,387L280,384L282,386L280,388ZM325,363L325,369L323,367ZM1336,362L1343,362L1343,374L1346,382L1353,384L1353,387L1350,389L1352,390L1349,392L1346,392L1343,388L1343,381L1340,376L1340,370L1335,364ZM1328,359L1331,368L1336,373L1331,379L1328,380L1327,376L1322,374L1320,371L1326,366L1323,361ZM297,345L299,344L301,346L299,347ZM299,343L302,339L306,341L304,344ZM281,339L283,338L285,340L289,340L290,343L287,345L283,343ZM291,339L293,337L297,339L294,341ZM412,336L416,341L422,341L426,350L425,353L430,359L430,365L433,365L436,368L439,378L442,381L440,385L446,390L445,393L435,390L434,387L436,377L434,370L428,370L425,367L425,358L420,357L417,354L418,350L408,337ZM382,318L398,318L399,320L396,322L390,321L389,322L391,325L387,326L383,322L384,321ZM445,313L448,315L455,314L461,316L460,323L457,327L467,336L465,340L467,343L467,352L477,355L483,361L487,361L488,367L494,363L498,364L500,368L506,371L506,378L510,380L509,382L501,379L493,381L492,377L488,385L478,382L475,379L475,376L465,374L461,369L461,366L455,366L449,356L449,353L447,354L441,352L435,348L436,342L431,336L432,333L440,327L440,324L439,326L437,322L444,318ZM352,301L352,306L355,310L352,313L351,321L353,325L358,328L357,329L353,328L349,322L349,304ZM696,294L698,298L694,300L693,299L696,297L693,296ZM371,293L373,295L373,315L374,317L381,318L378,320L374,320L371,317L372,311L370,308L369,299ZM696,294L698,292L700,293L698,295ZM353,288L355,290L355,300L353,302L351,293ZM301,287L303,289L302,291L310,293L318,288L318,292L324,296L324,299L322,301L319,301L318,299L317,301L320,304L319,306L325,308L328,314L325,322L327,326L317,337L318,341L321,343L319,348L322,350L322,354L320,354L319,350L317,353L311,354L308,358L309,363L312,362L312,358L315,359L314,363L317,363L318,361L315,357L322,356L323,357L320,359L321,364L317,368L320,369L322,373L324,368L328,371L328,375L326,377L321,377L326,377L329,380L324,382L321,386L328,393L327,402L324,406L322,404L324,397L320,398L316,402L312,400L316,397L312,394L312,388L315,385L314,381L311,383L310,382L311,389L306,385L308,383L307,378L311,376L311,373L315,373L316,379L319,376L310,368L308,369L310,372L306,372L304,370L304,366L302,366L302,364L306,361L302,355L305,344L307,343L312,347L315,346L309,340L296,336L297,331L302,328L300,322L304,319L304,317L300,314L300,309L297,303L301,299L299,296ZM645,283L646,286L638,294L636,300L630,307L627,302L631,295L639,290L637,285L644,285ZM453,280L456,288L444,299L443,303L437,310L437,318L432,321L429,315L429,310L436,307L436,305L440,302L440,298L447,291L453,288ZM708,278L709,281L706,282L705,281ZM709,273L711,278L710,280L707,277ZM708,265L710,264L713,266L709,267ZM674,268L672,270L668,268L666,272L662,271L654,278L651,275L649,276L646,283L642,277L643,274L647,274L650,271L655,272L660,268L665,268L667,264ZM711,264L716,264L714,268ZM674,266L680,261L684,263L684,268L689,263L696,263L693,267L689,267L682,271L680,270L680,265L676,267ZM703,255L700,256L696,263L695,261L698,254ZM725,244L722,246L725,251L721,255L702,254L704,252L713,252L715,250L718,252L720,251L720,243L723,242ZM726,244L728,241L731,242L728,245ZM588,236L585,239L581,235L577,239L578,242L576,244L574,243L577,234L583,232L585,236ZM400,229L403,235L400,241L405,244L404,248L409,250L413,255L424,255L429,262L428,258L433,254L437,261L433,264L425,277L422,278L418,273L416,274L418,279L414,279L412,285L418,284L421,288L418,291L418,294L414,296L406,295L403,296L404,297L401,300L396,299L392,302L386,298L383,300L379,293L378,298L374,299L372,296L375,290L373,285L367,281L362,283L355,275L354,265L356,263L365,266L365,261L370,259L371,255L379,250L375,243L376,240L379,239L387,241L387,232L394,236ZM726,229L716,229L710,225L712,224L716,226L721,223ZM633,223L620,229L609,228L605,232L601,228L602,227L598,233L593,232L590,235L588,234L592,230L597,230L603,222L612,226L618,226L615,221L616,219L623,219ZM416,219L421,230L414,236L410,230L412,227L415,227ZM698,221L702,218L705,223L711,224L703,225L702,227L701,222ZM701,228L697,229L692,221L686,221L683,225L677,222L670,222L674,219L682,222L684,218L689,217L696,220L698,227ZM371,217L373,227L377,229L375,231L368,224ZM414,219L415,216L417,218L415,220ZM360,216L366,216L364,219ZM1595,216L1597,214L1599,217L1596,218ZM365,215L368,214L370,216L368,217ZM421,202L424,208L416,217L416,213L421,209L419,203ZM388,194L396,198L394,201L391,201L390,204L395,204L397,207L394,210L390,209L393,214L390,216L391,221L386,224L384,233L386,239L382,240L381,231L385,220L385,212L387,209L387,205L385,203L388,199ZM1150,155L1155,153L1157,156L1152,157ZM606,153L609,150L612,151L610,154Z"/>
<path fill="#E86F00" fill-rule="evenodd" d="M698,630L695,635L698,637L699,641L694,641L692,644L696,649L694,654L701,653L702,655L704,653L702,650L705,648L699,636ZM701,628L704,632L705,628ZM637,627L633,628L630,632L627,629L626,631L629,634L629,636L625,638L627,640L630,640L636,636L634,630L636,630ZM455,616L454,618L457,620L457,616ZM444,607L448,613L453,613L453,609L450,610ZM605,606L603,612L604,614L610,615L608,619L610,624L615,626L621,625L623,628L623,621L618,612L615,613L610,607L607,608ZM401,588L394,590L397,592L397,600L400,600L400,598L404,595L405,591ZM677,581L674,583L675,585L678,582ZM405,576L406,580L403,583L404,587L405,586L408,589L406,598L412,601L418,601L417,599L415,601L411,599L411,594L416,597L419,595L408,585L408,581ZM644,571L636,573L640,581L639,586L634,588L637,592L639,590L649,590ZM657,563L664,568L664,573L667,579L672,578L672,576L677,573L668,568L669,566L672,566L667,563L667,567L664,568ZM553,560L554,564L551,568L550,574L552,582L566,594L565,599L570,600L577,597L579,592L575,589L571,589L569,585L570,583L567,578L569,572L565,572L557,560ZM609,546L607,550L606,548L604,553L600,551L600,554L605,553L608,557L610,556ZM467,549L470,552L472,551L475,552L475,554L478,554L483,548L482,545L475,546L474,544L470,549ZM488,537L486,537L482,543L490,543ZM626,535L618,537L612,548L620,562L616,564L617,570L617,568L621,564L622,565L625,557L623,553L620,553L617,550L619,548L624,549L630,546L630,543L626,544L623,541L626,538ZM549,532L549,534L552,534L552,549L549,550L552,553L552,556L555,557L561,553L555,544L557,540L552,537L555,533ZM527,504L528,509L531,507L533,508L529,503ZM589,500L581,501L581,504L585,506ZM604,498L603,504L600,506L601,509L604,511L606,509L613,511L612,507L616,506L617,503L611,501L609,498ZM627,492L630,496L626,499L635,501L636,498ZM1285,480L1275,482L1278,486L1274,489L1272,485L1269,486L1265,491L1264,498L1262,500L1258,500L1260,503L1263,504L1271,494L1280,489L1281,483L1284,484L1286,490L1287,483L1283,483ZM622,478L630,479L635,484L638,482L641,488L646,489L650,483L655,483L659,479L653,481L643,477L639,480L635,475L630,477L623,476ZM721,465L726,470L723,476L729,477L731,480L729,483L732,484L739,474L734,471L733,466L728,467ZM288,449L286,452L290,453L291,452L289,452ZM712,443L709,444L708,449L712,447ZM418,430L415,434L416,436L419,436L417,434ZM539,427L539,431L542,432L540,429L541,427ZM400,425L399,434L404,440L408,435L408,431ZM416,423L412,428L414,428ZM511,416L507,419L507,421L508,418L511,419ZM550,412L547,416L545,415L543,417L540,425L544,425L544,431L549,434L551,440L550,447L553,451L549,457L550,456L558,462L558,456L561,451L555,440L555,430L552,427L554,421ZM420,401L418,403L418,414L420,417L424,417L420,421L423,424L421,429L422,434L421,429L427,425L424,421L429,420L427,416L429,409L425,414L425,409L418,405ZM1344,402L1344,404L1349,403L1351,406L1355,406L1359,409L1361,407L1358,405L1359,401L1357,403L1353,401L1354,398L1352,402ZM1342,408L1340,405L1341,400L1337,395L1322,399L1319,398L1325,408L1330,408L1332,410L1335,406ZM314,382L312,383L311,387L314,385ZM294,383L289,382L283,384L282,387L285,387L287,390L291,389ZM286,387L286,384L290,382L294,385L289,388ZM316,374L315,376L317,379L316,378L319,376ZM304,366L298,370L307,375L303,376L301,379L302,383L298,390L299,393L301,391L305,393L306,392L304,390L309,389L306,387L306,379L311,375L304,371ZM1325,364L1321,363L1312,368L1303,368L1299,364L1296,366L1299,366L1301,370L1298,382L1305,386L1304,388L1307,384L1314,389L1322,388L1325,384L1327,384L1329,388L1332,388L1327,381L1327,376L1319,371L1321,367L1326,366ZM304,339L312,347L314,346L308,340ZM880,235L884,244L889,242L889,237ZM651,244L657,248L659,253L663,252L671,255L674,253L667,247L669,240L663,234L655,239L653,237ZM243,416L245,419L249,418L253,422L260,419L275,419L279,421L277,425L282,429L282,431L288,428L289,424L286,423L286,420L291,419L292,416L287,418L280,410L276,408L280,406L285,409L288,406L290,410L293,401L288,400L288,398L283,394L284,393L279,391L281,389L279,388L279,384L285,376L291,376L277,365L280,362L278,354L282,345L286,348L291,347L291,344L295,340L296,347L300,350L300,353L298,354L291,352L289,354L294,359L296,364L300,366L306,361L301,355L304,346L299,348L296,345L301,338L297,337L296,333L302,328L300,322L304,319L304,317L300,314L300,309L297,302L301,299L299,296L301,287L303,289L302,291L310,293L318,288L318,292L324,296L322,301L319,301L318,299L317,301L320,304L319,306L325,308L328,316L325,322L327,326L317,337L318,341L321,343L319,348L322,350L321,355L319,352L316,354L311,354L310,358L312,356L316,360L316,363L318,361L314,357L316,355L323,356L320,360L322,364L318,366L318,368L320,368L322,372L323,365L325,363L325,369L329,373L327,377L330,381L327,383L325,382L321,386L328,393L327,402L324,406L322,404L324,398L319,399L320,406L317,408L312,407L309,402L311,400L313,402L311,400L316,396L313,396L312,398L308,391L303,398L295,397L296,407L293,410L299,416L298,425L303,434L296,437L292,444L290,442L291,439L286,437L287,442L282,443L286,444L288,447L296,444L298,449L301,448L304,443L309,447L301,451L301,453L304,454L297,460L302,464L299,468L301,468L305,473L308,468L305,470L303,461L313,451L310,452L307,450L317,445L317,443L308,439L310,437L317,440L317,438L314,437L314,434L319,433L317,422L319,421L318,418L316,417L312,420L307,413L313,413L318,410L323,416L321,423L323,420L322,415L324,414L324,411L323,412L320,410L325,407L327,412L332,412L331,414L335,419L335,428L338,425L341,426L338,435L343,440L342,442L345,442L353,451L355,460L361,465L361,468L358,470L361,474L360,478L367,488L374,486L377,489L376,491L372,491L370,494L373,495L377,501L379,500L384,504L385,509L388,510L390,515L389,521L401,529L404,537L403,539L408,542L406,546L409,548L405,552L405,554L408,555L406,556L413,556L415,558L413,562L412,560L414,563L416,561L419,562L421,561L420,558L423,555L423,550L429,557L426,560L423,558L424,560L420,565L418,564L416,566L411,563L407,564L407,573L411,570L413,575L413,568L419,570L418,580L419,573L426,567L423,563L429,558L427,547L431,545L432,538L425,530L423,519L417,518L413,513L410,516L419,520L420,524L418,530L422,541L420,542L416,537L411,537L412,535L417,534L415,534L414,530L409,526L411,521L405,516L407,512L411,511L409,505L410,501L403,496L397,496L391,490L390,485L386,485L379,480L380,475L374,473L375,470L382,464L382,461L377,455L377,440L374,437L377,432L375,429L382,422L385,422L380,418L379,412L374,406L374,393L377,393L379,390L383,392L383,397L390,403L390,405L382,412L386,416L388,422L385,426L389,433L393,431L392,430L394,427L391,427L390,425L394,418L394,424L396,427L394,421L396,418L395,414L398,411L395,403L393,405L391,404L393,397L390,394L392,390L396,392L399,389L399,392L404,394L406,391L411,397L413,393L426,389L430,395L428,398L435,396L433,390L432,391L428,385L428,382L423,379L425,371L421,365L420,359L416,362L412,360L413,353L411,353L412,347L413,349L413,346L409,338L405,337L406,335L414,336L416,338L421,337L425,340L425,346L429,350L428,355L432,364L437,367L436,369L439,377L443,380L450,391L457,389L460,392L452,394L455,399L451,402L448,400L448,396L445,393L448,392L444,393L442,391L442,393L436,393L441,394L444,397L444,406L437,417L437,421L439,423L436,425L432,424L430,426L430,432L428,434L426,432L424,433L426,435L424,440L428,447L422,451L426,466L424,468L425,471L421,475L421,479L426,481L424,484L438,497L442,496L442,493L445,490L459,490L465,483L466,484L470,481L475,486L478,486L482,491L486,491L487,487L484,485L486,481L485,478L489,474L489,469L495,463L496,464L496,460L499,465L495,467L499,465L500,467L495,482L499,487L508,491L508,486L511,482L509,480L510,474L515,472L510,467L512,464L512,460L510,458L512,453L509,451L506,444L509,438L503,434L506,425L505,418L513,409L510,401L511,397L508,394L512,391L514,393L513,397L518,396L523,399L529,393L534,396L536,394L536,390L542,392L546,391L549,395L553,394L555,397L552,401L554,408L557,410L554,417L562,430L561,433L563,433L563,440L560,443L560,446L567,450L563,455L564,457L561,458L563,466L558,470L553,467L558,471L557,475L552,476L553,479L551,484L553,488L547,491L547,496L545,498L539,497L537,500L535,496L540,493L539,485L532,487L530,482L531,478L526,476L521,478L521,485L529,484L531,486L531,492L536,501L538,510L540,511L535,513L536,519L538,521L545,521L550,527L564,523L564,519L571,519L574,517L576,507L570,502L570,497L576,492L572,487L572,483L578,476L578,470L574,466L575,458L582,458L590,453L588,446L591,440L599,442L605,434L608,435L620,430L623,433L624,439L619,444L619,447L621,447L623,451L621,453L621,457L618,459L618,465L614,455L609,460L608,459L611,469L615,470L616,473L619,474L619,469L621,467L618,465L622,460L629,460L631,462L638,463L636,459L638,457L648,455L658,460L660,463L664,459L665,467L662,469L666,469L669,473L669,478L664,482L662,490L656,494L648,504L641,508L638,513L630,515L625,512L621,512L624,519L622,524L625,527L624,531L625,533L629,531L639,531L644,527L648,531L652,528L658,528L660,526L662,528L660,531L662,536L659,537L660,542L666,545L667,543L662,532L664,531L663,526L667,524L658,517L660,515L663,518L666,517L671,525L668,529L668,537L671,542L669,547L675,549L671,552L668,558L671,558L675,562L680,560L683,563L680,567L688,570L691,563L696,564L699,561L704,564L710,562L709,558L712,553L722,549L721,542L723,540L723,531L719,530L722,526L722,521L727,518L721,519L719,517L718,511L714,507L712,500L712,488L714,484L711,486L708,484L710,477L707,469L711,463L706,460L705,441L712,437L712,428L705,420L708,419L711,421L712,419L709,417L712,415L719,417L721,422L729,419L737,423L733,419L736,414L734,409L735,412L733,414L727,410L724,411L722,408L717,409L713,404L718,401L707,392L707,390L712,386L712,381L709,377L714,371L720,372L726,368L731,370L734,368L738,375L736,377L738,387L735,390L737,393L733,407L733,404L736,402L735,396L738,388L738,373L733,365L737,361L736,363L732,364L729,362L725,365L720,361L720,357L714,358L712,356L712,351L710,348L711,345L709,344L719,344L721,338L728,339L730,337L735,337L735,350L732,355L735,355L738,359L735,354L737,349L746,348L747,343L756,343L758,340L754,335L757,333L757,330L753,328L754,318L758,315L757,312L752,315L744,314L741,311L745,310L749,305L753,306L751,310L754,307L765,307L769,311L780,300L787,299L791,302L795,301L793,296L796,293L793,291L792,287L796,283L798,285L796,288L800,289L804,284L811,294L817,290L825,292L833,289L835,293L840,293L840,287L845,282L850,287L856,287L858,283L861,283L863,285L862,288L864,289L867,286L866,279L870,279L866,278L862,282L855,282L854,279L858,269L859,270L859,266L863,263L859,262L857,259L861,258L866,261L868,260L868,256L872,253L880,256L880,253L872,247L875,242L878,245L879,240L876,232L877,222L874,215L875,212L871,209L873,204L878,206L877,200L882,196L882,193L878,190L884,186L891,188L889,195L894,195L896,191L902,187L909,190L909,195L913,201L911,203L907,202L910,213L904,218L905,221L912,227L912,229L906,233L910,243L907,250L908,257L906,260L908,267L912,270L913,277L915,274L918,276L918,282L926,286L929,290L937,289L937,293L940,295L948,289L956,290L957,284L961,281L964,283L960,288L968,287L972,289L973,294L978,293L985,299L988,306L995,307L997,309L998,317L1007,315L1020,324L1025,323L1028,326L1029,331L1037,328L1041,334L1045,329L1050,330L1053,333L1057,333L1062,330L1064,335L1068,335L1071,339L1074,338L1083,342L1087,341L1095,344L1100,349L1100,354L1103,350L1108,354L1113,350L1118,352L1123,348L1138,349L1139,343L1143,340L1148,343L1150,348L1152,348L1157,342L1164,342L1167,347L1177,344L1176,349L1181,350L1185,347L1188,348L1189,352L1193,354L1195,352L1199,352L1202,355L1206,355L1214,352L1217,356L1222,356L1229,361L1233,360L1238,364L1243,364L1243,360L1248,358L1250,361L1246,365L1247,368L1256,370L1260,369L1262,371L1266,370L1270,372L1275,371L1278,374L1279,372L1284,372L1286,368L1292,364L1289,361L1291,356L1299,357L1301,352L1307,353L1311,356L1315,354L1321,356L1323,353L1327,353L1329,351L1337,351L1340,354L1347,353L1352,356L1353,360L1359,358L1360,361L1365,362L1361,366L1359,366L1357,362L1351,362L1352,375L1347,377L1349,380L1358,378L1361,385L1365,386L1367,390L1378,388L1385,394L1389,394L1395,389L1403,386L1401,383L1403,379L1401,379L1398,374L1401,368L1400,365L1402,362L1406,361L1408,366L1406,368L1409,366L1410,367L1410,363L1408,361L1409,354L1417,346L1420,346L1422,349L1428,346L1428,351L1431,352L1431,357L1438,357L1441,360L1446,360L1441,364L1444,368L1436,370L1434,373L1421,376L1419,371L1418,377L1421,384L1420,388L1426,390L1437,389L1440,385L1442,385L1447,378L1447,372L1452,367L1454,371L1464,371L1466,369L1475,370L1479,367L1478,363L1480,361L1482,363L1486,363L1486,355L1491,356L1498,349L1500,351L1499,350L1502,346L1509,344L1521,334L1531,334L1536,330L1540,332L1548,330L1552,335L1564,333L1566,330L1577,333L1576,330L1578,328L1580,329L1580,332L1598,332L1598,313L1602,310L1600,305L1603,302L1603,299L1596,292L1599,289L1603,292L1605,289L1603,287L1602,278L1599,274L1600,267L1598,263L1598,259L1602,257L1601,247L1596,251L1595,248L1596,243L1602,237L1601,229L1597,224L1599,218L1603,217L1604,215L1601,211L1601,207L1604,203L1602,196L1599,195L1601,192L1604,194L1604,192L1601,190L1602,183L1597,183L1596,181L1601,179L1605,174L1599,164L1604,157L1601,155L1597,159L1595,158L1599,148L1589,147L1585,153L1580,153L1577,149L1570,152L1565,146L1558,149L1553,148L1549,152L1544,152L1537,149L1531,153L1529,152L1529,148L1522,152L1516,151L1512,147L1513,150L1507,154L1506,149L1509,146L1508,145L1506,148L1496,148L1491,153L1488,153L1481,147L1474,150L1466,148L1463,155L1456,148L1450,149L1449,152L1442,148L1438,148L1438,153L1435,154L1433,149L1418,148L1416,151L1403,148L1400,151L1395,146L1393,148L1388,148L1387,151L1380,156L1376,154L1375,148L1371,150L1366,149L1363,153L1360,153L1352,147L1344,150L1337,150L1337,146L1334,146L1331,150L1323,147L1321,151L1310,150L1307,153L1302,153L1295,147L1288,147L1286,153L1279,148L1277,151L1270,151L1267,148L1263,148L1260,152L1252,152L1248,150L1241,152L1237,147L1230,151L1222,149L1218,153L1215,150L1210,151L1199,145L1200,151L1198,153L1188,152L1186,149L1190,145L1183,149L1170,146L1163,147L1160,150L1145,150L1142,152L1139,152L1131,147L1126,151L1118,149L1115,152L1113,148L1109,147L1105,153L1102,151L1091,151L1087,148L1084,150L1079,149L1075,152L1067,153L1065,151L1066,147L1068,146L1067,145L1060,149L1054,148L1051,152L1041,151L1038,153L1034,153L1031,149L1024,149L1022,147L1019,153L1016,153L1013,149L1005,149L1000,151L997,148L991,151L975,152L972,150L967,153L962,150L948,152L939,149L935,153L927,148L924,151L918,151L911,148L905,153L901,150L896,151L894,146L891,145L888,147L891,151L890,154L888,154L884,148L879,152L876,149L871,148L867,153L863,148L857,150L856,147L854,147L851,152L846,152L843,146L841,146L835,150L833,148L827,148L827,150L822,154L817,150L813,151L813,147L810,149L804,148L800,153L796,153L792,150L790,152L781,153L774,151L772,148L762,148L752,151L757,155L756,157L752,157L745,148L738,147L737,153L733,153L728,150L723,152L718,149L719,152L717,154L709,146L707,146L704,149L705,153L702,154L702,148L699,147L695,149L692,148L689,152L682,151L679,148L668,151L663,144L660,144L653,151L649,150L648,148L634,149L630,146L627,152L618,152L617,147L614,147L612,149L600,150L593,154L586,153L584,155L578,151L584,148L588,150L590,147L586,144L578,147L571,145L570,147L566,148L567,150L565,153L562,152L561,147L551,151L535,153L534,151L537,148L533,144L530,150L524,148L521,153L518,152L518,149L513,153L508,150L500,152L499,149L495,149L488,155L485,152L486,147L478,150L472,146L463,148L462,153L459,151L457,152L454,148L442,151L433,151L430,149L420,151L415,148L406,152L401,148L396,148L393,150L384,150L375,154L372,152L371,147L367,147L361,150L361,155L346,149L341,149L338,154L327,155L325,150L320,148L310,148L308,152L299,152L297,150L292,152L283,147L276,146L273,148L268,147L266,150L261,150L258,153L252,147L253,151L248,152L250,169L248,172L251,174L251,177L246,184L247,189L244,191L246,195L244,200L250,202L247,207L253,217L251,220L253,231L250,233L252,236L252,242L248,249L249,271L247,274L247,278L250,281L248,284L252,287L249,306L252,306L253,308L245,316L248,320L249,313L252,315L251,321L254,326L249,335L249,358L252,361L251,366L253,372L250,375L247,375L244,372L246,378L245,382L249,385L251,397L246,399L253,409L251,410L252,413L249,417L245,414ZM409,541L412,543L410,546L407,545ZM674,537L675,540L673,541L672,539ZM537,504L538,503L545,507L543,509L540,508ZM532,487L539,488L534,490ZM522,478L525,477L526,480L523,482ZM480,464L481,466L478,469L476,466ZM473,465L471,469L464,468L465,466ZM439,451L440,456L436,460L435,457ZM455,446L456,450L454,454L456,459L453,465L456,466L456,469L452,474L451,470L447,470L445,468L444,461L446,459L452,459L450,452L446,449L450,446ZM494,439L496,441L494,446L496,453L494,456L492,454L490,455L483,445L485,442L491,442ZM447,435L452,439L443,449L442,447ZM436,429L437,435L435,434ZM479,425L480,428L477,431L476,427ZM438,424L441,423L443,426L440,427ZM306,423L311,423L313,427L315,425L316,428L311,433ZM465,421L469,425L469,429L465,427L463,429L462,428ZM450,421L451,423L447,429L445,425ZM372,420L376,419L377,422L374,423ZM600,421L603,417L606,418L605,420ZM581,418L594,418L601,422L596,423L592,420L583,421ZM683,416L686,422L685,423L681,420ZM638,420L642,417L643,419L642,417L644,416L646,422L644,423ZM439,419L440,416L442,418L440,420ZM610,420L611,417L609,415L614,414L616,416L612,421ZM460,413L463,418L460,424L456,418L456,415ZM298,414L301,413L304,416L301,418ZM445,412L447,415L446,417L444,416ZM495,407L497,411L500,412L498,417L503,421L502,424L500,424L497,420L494,422L493,421ZM303,406L308,405L309,409L306,410ZM472,404L476,411L476,417L478,418L477,420L473,419L473,422L477,424L472,433L470,431L471,412L466,406ZM391,404L391,409L393,411L392,414L388,411ZM576,405L578,403L582,407L579,408ZM282,404L284,401L286,402L284,405ZM492,399L499,401L495,403L494,408ZM308,397L309,396L312,399L310,400ZM522,395L524,394L526,396L524,397ZM472,393L474,396L471,398L470,395ZM461,392L465,394L464,406L466,410L463,412L460,408L462,401L457,399L458,394ZM481,390L495,391L489,395L485,395L483,393L490,405L484,409L490,415L489,419L484,419L478,413L478,410L483,403L479,395ZM543,361L547,360L549,363L547,365ZM648,345L649,347L647,350L653,357L650,361L652,363L651,366L647,367L644,365L641,368L636,367L633,369L631,366L633,359L629,353L632,350L640,352ZM1484,343L1487,346L1486,349L1479,356L1478,354L1483,350L1483,348L1479,346ZM1421,344L1425,343L1426,345L1422,346ZM298,339L291,342L288,346L285,344L280,345L282,338L286,340L291,336ZM382,318L398,318L399,320L396,322L390,321L389,322L391,325L387,326L383,322L384,321ZM431,336L432,333L440,327L440,324L439,326L437,322L444,318L445,313L448,315L460,315L460,323L457,327L467,336L465,340L467,343L467,352L477,355L483,361L487,361L488,367L493,364L492,362L494,359L500,363L507,360L512,365L516,364L518,368L520,368L526,360L533,366L539,362L543,363L547,369L549,368L550,370L548,373L538,372L535,374L533,379L530,379L524,385L519,383L514,388L510,388L507,384L504,384L500,380L493,381L492,377L490,379L490,383L486,385L478,382L475,379L475,376L465,374L461,369L461,366L455,366L449,356L449,353L447,354L437,350L435,348L436,342ZM736,314L739,312L741,316L737,316ZM646,310L648,314L657,317L654,324L660,328L658,335L661,342L653,348L647,345L642,350L639,348L640,342L626,329L626,324L629,313L633,315L640,314L642,310ZM403,306L404,308L399,314L400,308ZM352,301L352,306L355,310L352,313L351,321L353,325L358,328L357,329L353,328L349,322L349,304ZM371,293L373,295L373,315L374,317L381,318L378,320L374,320L371,317L372,311L370,308L369,299ZM353,288L355,290L355,300L353,302L351,293ZM863,283L866,282L867,286L864,287ZM455,282L456,288L444,299L443,303L437,310L438,316L433,321L431,319L427,321L425,319L425,315L421,312L422,309L415,306L408,307L406,305L413,304L416,300L419,300L421,306L425,309L428,316L430,316L429,310L436,307L437,304L438,305L440,298L447,291L453,288L452,281L453,280ZM795,247L799,249L803,248L808,251L814,250L816,252L817,258L825,265L820,271L821,277L818,280L815,279L813,275L800,275L792,262L797,258L794,253ZM725,244L724,247L722,246L726,249L721,255L702,254L704,252L713,252L715,250L718,252L720,251L720,243L723,242ZM726,244L728,241L731,242L728,245ZM334,228L334,232L339,238L337,240L335,238L331,240L333,245L332,250L329,253L325,253L321,247L323,242L317,242L315,239L317,236L320,236L322,231L325,231L326,233ZM633,223L620,229L610,228L605,232L602,230L602,227L598,233L593,232L585,239L581,235L577,239L578,242L576,244L574,243L577,234L583,231L586,235L590,230L596,229L598,225L604,221L612,226L618,226L615,221L616,219L623,219ZM416,219L421,230L418,232L421,232L424,229L429,229L437,238L436,242L439,246L438,255L435,257L437,261L433,264L425,277L422,278L418,273L416,274L418,279L414,279L412,285L418,284L421,288L418,291L418,294L414,296L406,295L403,296L404,297L401,300L396,299L392,302L386,298L383,300L379,293L378,298L374,299L372,296L375,290L373,285L367,281L362,283L355,275L354,265L356,263L365,266L365,261L370,259L371,255L379,250L375,243L377,239L387,241L386,233L388,232L392,235L397,232L400,227L402,227L405,232L409,232L410,229L415,226ZM371,217L373,227L377,229L375,231L368,224ZM414,219L415,216L417,218L415,220ZM360,216L366,216L364,219ZM1595,216L1597,214L1599,217L1596,218ZM365,215L368,214L370,216L368,217ZM641,206L647,206L649,209L656,206L666,206L668,208L674,207L676,211L689,211L692,208L695,216L703,215L706,212L715,213L717,215L722,215L729,221L726,225L728,228L728,232L726,234L726,230L714,229L709,225L705,225L702,229L696,232L691,229L690,225L687,225L684,229L696,240L694,248L697,251L695,254L698,256L699,253L702,254L703,261L708,258L705,255L706,254L722,256L725,258L717,267L718,270L713,281L711,293L706,299L702,299L702,303L700,305L695,302L684,303L684,299L688,296L688,289L686,285L688,274L685,273L680,275L676,269L673,274L663,276L662,281L657,283L662,287L661,295L667,299L664,303L661,301L662,298L660,297L660,299L653,304L650,301L653,296L650,295L647,299L633,303L630,307L627,304L631,295L638,290L636,288L637,284L644,283L644,280L639,277L640,275L651,269L655,270L653,266L648,263L649,259L645,253L638,250L639,247L632,236L634,233L624,229L635,225L645,231L641,227L642,224L639,220L643,214L643,212L638,209ZM421,202L424,208L416,217L416,213L421,209L419,203ZM388,194L396,198L394,201L391,201L390,204L395,204L397,207L394,210L390,209L393,214L390,216L391,221L386,224L384,233L386,239L382,240L381,231L385,220L385,212L387,209L387,205L385,203L388,199ZM1150,155L1155,153L1157,156L1152,157ZM606,153L609,150L612,151L610,154Z"/>
<path fill="#DC3A00" fill-rule="evenodd" d="M698,630L695,635L698,637L699,641L694,641L692,644L696,649L694,654L701,653L702,655L704,653L702,650L705,648L699,636ZM701,628L704,632L705,628ZM637,627L633,628L630,632L627,629L626,631L629,634L629,636L625,638L627,640L630,640L636,636L634,630L636,630ZM455,616L454,618L457,620L457,616ZM444,607L448,613L453,613L453,609L450,610ZM605,606L603,612L604,614L610,615L608,619L610,624L615,626L621,625L623,628L623,621L618,612L615,613L610,607L607,608ZM401,588L394,590L397,592L397,600L400,600L400,598L404,595L405,591ZM677,581L674,583L675,585L678,582ZM405,576L406,580L403,583L404,587L405,586L408,589L406,598L412,601L418,601L417,599L415,601L411,599L411,594L416,597L419,595L408,585L408,581ZM644,571L636,573L640,581L639,586L634,588L637,592L639,590L649,590ZM657,563L664,568L664,573L667,579L672,578L672,576L677,573L668,568L669,566L672,566L667,563L667,567L664,568ZM553,560L554,564L551,568L550,574L552,582L566,594L565,599L570,600L577,597L579,592L575,589L571,589L569,585L570,583L567,578L569,572L565,572L557,560ZM467,549L470,552L472,551L475,552L475,554L478,554L483,548L482,545L475,546L474,544L470,549ZM488,537L486,537L482,543L490,543ZM626,535L618,537L612,548L620,562L616,564L617,570L617,568L621,564L622,565L625,557L623,553L620,553L617,550L619,548L624,549L630,546L630,543L626,544L623,541L626,538ZM549,532L549,534L552,534L552,549L549,550L552,553L552,556L555,557L561,553L555,544L557,540L552,537L555,533ZM589,500L581,501L581,504L585,506ZM604,498L603,504L600,506L601,509L604,511L606,509L613,511L612,507L616,506L617,503L611,501L609,498ZM627,492L630,496L626,499L635,501L636,498ZM1285,480L1275,482L1278,486L1274,489L1272,485L1269,486L1265,491L1264,498L1262,500L1258,500L1260,503L1263,504L1271,494L1280,489L1281,483L1284,484L1286,490L1287,483L1283,483ZM622,478L630,479L635,484L638,482L641,488L646,489L650,483L655,483L659,479L653,481L643,477L639,480L635,475L630,477L623,476ZM721,465L726,470L723,476L729,477L731,480L729,483L732,484L739,474L734,471L733,466L728,467ZM304,464L299,468L301,468L305,473L308,468L305,470ZM308,449L302,451L306,454L300,461L297,461L302,462L305,459L306,454L309,454ZM712,443L709,444L708,449L712,447ZM287,439L286,443L289,447L291,446L290,440ZM296,437L293,445L296,443L301,444L302,446L299,449L303,446L303,443L296,441ZM539,427L539,431L542,432L540,429L541,427ZM400,425L400,433L403,435L405,431L407,435L404,437L406,437L408,431ZM549,413L550,415L547,418L545,415L543,417L540,425L544,425L544,431L549,434L551,440L550,447L553,451L549,457L550,456L558,462L558,456L561,451L555,440L555,430L551,426L554,422L551,417L551,413ZM550,419L551,421L548,423L547,422ZM394,404L391,408L394,411L395,420L395,414L398,410L394,409L396,407ZM1344,402L1344,404L1349,403L1351,406L1355,406L1359,409L1361,407L1358,405L1359,401L1357,403L1353,401L1354,398L1352,402ZM1342,408L1340,405L1341,400L1337,395L1322,399L1319,398L1325,408L1330,408L1332,410L1335,406ZM293,386L287,388L289,389ZM304,367L300,368L300,371L307,375L301,379L302,383L298,391L303,391L305,388L307,389L305,387L307,381L306,378L310,374L303,370ZM1325,364L1321,363L1312,368L1303,368L1299,364L1296,366L1299,366L1301,370L1298,382L1305,386L1304,388L1307,384L1314,389L1322,388L1325,384L1327,384L1329,388L1332,388L1327,381L1327,376L1319,371L1321,367L1326,366ZM318,353L317,355L312,354L310,356L313,356L316,360L315,362L317,360L314,356L320,356ZM291,343L288,346L285,345L287,347L291,346ZM296,342L296,346L301,353L299,355L296,353L291,353L290,355L293,357L296,364L302,365L305,362L305,359L301,356L303,347L300,349L296,345L298,342ZM307,340L313,347L314,346ZM880,235L884,244L889,242L889,237ZM651,244L657,248L659,253L663,252L671,255L674,253L667,247L669,240L663,234L655,239L653,237ZM243,416L245,419L249,418L253,422L260,419L275,419L279,421L277,425L282,430L287,428L288,425L286,425L286,417L276,408L280,405L284,409L287,406L291,409L293,401L288,400L286,401L286,404L283,405L282,402L286,398L283,395L284,393L279,391L279,384L283,376L287,374L284,370L286,373L284,375L282,370L277,366L280,362L278,354L281,347L281,339L283,338L286,340L290,336L300,338L296,336L297,331L302,328L300,322L304,319L304,317L300,314L300,309L297,303L301,299L299,296L301,287L303,289L303,292L310,293L318,288L318,292L324,296L324,299L322,301L319,301L318,299L317,301L320,304L319,306L326,309L328,316L325,322L327,326L320,332L317,339L321,343L321,346L319,347L322,350L322,355L324,357L321,361L325,362L325,369L328,371L328,375L330,376L328,377L331,380L324,383L321,387L330,393L327,396L327,402L324,406L322,404L324,398L320,399L319,401L321,405L319,407L309,407L310,409L307,411L303,408L303,406L305,404L310,405L309,401L312,401L308,398L309,394L305,397L304,402L302,399L295,397L296,407L293,410L298,413L302,413L305,416L303,418L303,425L300,422L301,419L299,416L298,424L302,428L302,432L309,433L309,428L305,423L307,421L314,425L315,424L317,427L310,436L299,436L300,439L302,436L306,440L315,432L319,433L315,420L317,419L318,421L317,418L311,420L306,415L307,412L314,412L319,408L324,407L326,410L332,412L335,419L335,428L338,425L341,426L338,435L343,440L342,442L345,442L353,451L355,460L361,465L361,468L358,470L361,474L360,478L367,488L374,486L377,489L376,491L372,491L370,494L373,495L377,501L379,500L384,504L385,509L388,510L390,515L389,521L401,529L404,537L403,539L408,542L406,546L409,548L405,552L405,554L408,555L406,556L413,556L415,558L413,562L412,560L414,563L416,561L419,562L421,561L420,558L423,555L423,550L429,557L426,560L423,558L424,560L420,565L418,564L416,566L411,563L407,564L407,573L411,570L413,575L413,568L419,570L418,580L419,573L426,567L423,563L429,558L427,547L431,545L432,538L425,530L423,519L417,518L413,513L410,516L419,520L420,524L418,530L422,541L420,542L416,537L411,537L412,535L417,534L415,534L414,530L409,526L411,521L405,516L406,512L411,510L409,501L404,497L397,496L391,490L390,485L386,485L381,482L374,473L375,470L382,464L382,461L377,455L377,448L375,447L377,442L374,437L377,434L375,429L382,422L385,422L380,418L379,412L372,406L375,392L377,393L379,390L381,392L387,390L389,391L391,403L383,412L388,421L386,429L387,427L388,432L391,433L393,431L393,427L390,429L389,426L392,418L391,414L386,410L392,402L392,397L390,395L391,390L395,392L399,389L406,391L411,396L419,390L423,391L427,389L430,395L428,398L430,396L434,396L428,382L423,379L425,371L421,365L420,359L416,362L412,360L413,353L411,353L412,347L413,349L413,346L409,338L405,337L406,335L414,336L416,338L421,337L425,340L425,346L429,350L428,355L432,364L437,367L436,369L439,377L443,380L450,391L453,389L463,389L464,390L461,392L468,394L465,398L465,405L473,403L477,406L475,407L475,410L479,420L473,421L480,426L478,431L476,430L476,427L474,428L473,435L470,432L471,424L470,414L467,412L468,409L462,413L463,419L458,433L457,428L459,423L456,419L452,422L455,425L454,426L449,425L450,435L454,436L451,444L457,446L454,453L456,455L456,459L453,463L453,465L457,468L448,479L446,475L450,473L451,470L447,471L445,469L441,459L447,458L451,460L452,457L450,452L446,451L445,448L442,452L441,449L446,435L446,421L449,416L451,417L450,419L453,418L454,413L459,412L459,410L456,409L452,403L453,401L451,402L447,399L447,395L436,393L439,393L444,397L443,405L445,408L443,412L442,410L444,414L438,415L437,420L440,415L444,415L445,410L449,414L446,414L447,416L444,418L446,422L442,427L439,426L437,430L435,425L432,424L430,426L430,433L425,433L426,436L424,440L428,447L422,451L426,465L432,462L434,464L433,467L430,469L428,468L421,477L422,480L426,480L425,485L428,488L430,488L438,496L441,496L444,490L455,489L453,486L454,484L462,484L462,475L465,463L468,465L474,465L470,480L472,480L475,485L476,483L480,484L483,490L486,490L486,487L483,484L485,477L489,472L489,468L494,464L493,460L495,458L501,464L499,469L499,477L495,479L495,481L499,486L507,490L510,483L509,473L514,471L510,467L512,463L510,465L505,461L506,460L503,460L508,454L512,461L510,458L512,453L509,451L506,444L509,439L502,440L505,416L508,414L509,410L511,412L513,409L510,398L507,395L512,391L514,393L513,397L518,396L523,399L529,393L534,396L536,394L536,390L542,392L546,391L549,395L553,394L555,397L552,401L554,408L557,410L554,417L562,430L561,433L563,433L563,440L560,443L560,446L567,450L563,455L564,457L561,458L563,466L558,470L553,467L558,471L557,475L552,476L553,479L551,484L553,488L547,491L547,496L545,498L539,497L537,500L535,496L539,494L540,491L532,488L530,482L531,478L526,476L521,478L521,485L529,484L531,486L531,492L536,501L538,510L540,511L535,513L536,519L538,521L545,521L550,527L564,523L564,519L571,519L574,517L576,507L570,502L570,497L576,492L572,487L572,483L578,476L578,470L574,466L575,458L582,458L590,453L588,446L591,440L599,442L605,434L608,435L620,430L623,433L624,439L619,444L619,447L621,447L623,451L621,453L621,457L618,459L618,465L614,455L609,460L608,459L611,469L615,470L616,473L619,474L619,469L621,467L618,465L622,460L629,460L631,462L638,463L636,459L638,457L648,455L658,460L660,463L664,459L665,467L662,469L666,469L669,473L669,478L664,482L662,490L656,494L648,504L641,508L638,513L630,515L625,512L621,512L624,519L622,524L625,527L624,531L625,533L629,531L639,531L644,527L648,531L652,528L658,528L660,526L662,528L660,531L662,536L659,537L660,542L666,545L667,543L662,532L664,531L663,526L667,524L658,517L660,515L663,518L666,517L671,525L668,529L668,537L671,542L669,547L675,549L671,552L668,558L671,558L675,562L680,560L683,563L680,567L688,570L691,563L696,564L699,561L704,564L710,562L709,558L712,553L722,549L721,542L723,540L723,531L719,530L722,526L722,521L727,518L721,519L719,517L718,511L714,507L712,500L712,488L714,484L711,486L708,484L710,477L707,469L711,463L706,460L705,441L712,437L712,428L705,420L708,419L711,421L712,419L709,417L712,415L719,417L721,422L729,419L737,423L733,419L736,414L734,409L735,412L733,414L727,410L724,411L722,408L717,409L713,404L718,401L707,392L707,390L712,386L712,381L709,377L714,371L720,372L726,368L731,370L734,368L738,375L736,377L738,387L735,390L737,393L733,407L733,404L736,402L735,396L738,388L738,373L733,365L737,361L736,363L732,364L729,362L725,365L720,361L720,357L714,358L712,356L712,351L710,348L711,345L709,344L719,344L721,338L728,339L730,337L735,337L735,350L732,355L735,355L738,359L735,354L737,349L746,348L747,343L756,343L758,340L754,335L757,333L757,330L753,328L754,318L758,315L757,312L752,315L744,314L741,311L745,310L749,305L753,306L751,310L754,307L765,307L769,311L780,300L787,299L791,302L795,301L793,296L796,293L793,291L792,287L796,283L798,285L796,288L800,289L804,284L811,294L817,290L825,292L833,289L835,293L840,293L840,287L845,282L850,287L856,287L858,283L861,283L863,285L862,288L864,289L867,286L866,279L870,279L866,278L862,282L855,282L854,279L858,269L859,270L859,266L863,263L859,262L857,259L861,258L866,261L868,260L868,256L872,253L880,256L880,253L872,247L875,242L878,245L879,240L876,232L877,222L874,215L875,212L871,209L873,204L878,206L877,200L882,196L882,193L878,190L884,186L891,188L889,195L894,195L896,191L902,187L909,190L909,195L913,201L911,203L907,202L910,213L904,218L905,221L912,227L912,229L906,233L910,243L907,250L908,257L906,260L908,267L912,270L913,277L915,274L918,276L918,282L926,286L929,290L937,289L937,293L940,295L948,289L956,290L957,284L961,281L964,283L960,288L968,287L972,289L973,294L978,293L985,299L988,306L995,307L997,309L998,317L1007,315L1020,324L1025,323L1028,326L1029,331L1037,328L1041,334L1045,329L1050,330L1053,333L1057,333L1062,330L1064,335L1068,335L1071,339L1074,338L1083,342L1087,341L1095,344L1100,349L1100,354L1103,350L1108,354L1113,350L1118,352L1123,348L1138,349L1139,343L1143,340L1148,343L1150,348L1152,348L1157,342L1164,342L1167,347L1177,344L1176,349L1181,350L1185,347L1188,348L1189,352L1193,354L1195,352L1199,352L1202,355L1206,355L1214,352L1217,356L1222,356L1229,361L1233,360L1238,364L1243,364L1243,360L1248,358L1250,361L1246,365L1247,368L1256,370L1260,369L1262,371L1266,370L1270,372L1275,371L1278,374L1279,372L1284,372L1286,368L1292,364L1289,361L1291,356L1299,357L1301,352L1307,353L1311,356L1315,354L1321,356L1323,353L1327,353L1329,351L1337,351L1340,354L1347,353L1352,356L1353,360L1359,358L1360,361L1365,362L1361,366L1359,366L1357,362L1351,362L1352,375L1347,377L1349,380L1358,378L1361,385L1365,386L1367,390L1378,388L1385,394L1389,394L1395,389L1403,386L1401,383L1403,379L1401,379L1398,374L1401,368L1401,363L1406,361L1408,366L1406,368L1409,366L1410,367L1408,358L1413,349L1417,346L1420,346L1422,349L1428,346L1428,343L1423,343L1419,340L1419,338L1423,335L1421,328L1422,321L1417,318L1421,314L1418,309L1420,306L1424,310L1429,309L1431,311L1430,313L1426,312L1429,326L1433,329L1433,331L1428,335L1428,338L1433,342L1435,347L1431,351L1431,357L1438,357L1441,360L1446,360L1441,364L1444,368L1436,370L1434,373L1421,376L1419,371L1418,377L1421,384L1420,388L1425,390L1437,389L1440,385L1442,385L1447,378L1447,372L1452,367L1454,371L1464,371L1466,369L1475,370L1479,367L1478,363L1480,361L1482,363L1486,363L1486,355L1491,356L1498,349L1500,351L1499,350L1502,346L1509,344L1521,334L1531,334L1536,330L1540,332L1548,330L1552,335L1564,333L1566,330L1577,333L1576,330L1578,328L1580,329L1580,332L1598,332L1598,313L1602,310L1600,305L1603,302L1603,299L1596,292L1599,289L1603,292L1605,289L1603,287L1602,278L1599,274L1600,267L1598,263L1598,259L1602,257L1601,247L1596,251L1595,248L1596,243L1602,237L1601,229L1597,224L1599,218L1603,217L1604,215L1601,211L1601,207L1604,203L1602,196L1599,195L1601,192L1604,194L1604,192L1601,190L1602,183L1597,183L1596,181L1601,179L1605,174L1599,164L1604,157L1601,155L1597,159L1595,158L1599,148L1589,147L1585,153L1580,153L1577,149L1570,152L1565,146L1558,149L1553,148L1549,152L1544,152L1537,149L1531,153L1529,152L1529,148L1522,152L1516,151L1512,147L1513,150L1507,154L1506,149L1509,146L1508,145L1506,148L1496,148L1491,153L1488,153L1481,147L1474,150L1466,148L1463,155L1456,148L1450,149L1449,152L1442,148L1438,148L1438,153L1435,154L1433,149L1418,148L1416,151L1403,148L1400,151L1395,146L1393,148L1388,148L1387,151L1380,156L1376,154L1375,148L1371,150L1366,149L1363,153L1360,153L1352,147L1344,150L1337,150L1337,146L1334,146L1331,150L1323,147L1321,151L1310,150L1307,153L1302,153L1295,147L1288,147L1286,153L1279,148L1277,151L1270,151L1267,148L1263,148L1260,152L1252,152L1248,150L1241,152L1237,147L1230,151L1222,149L1218,153L1215,150L1210,151L1199,145L1200,151L1198,153L1188,152L1186,149L1190,145L1183,149L1170,146L1163,147L1160,150L1145,150L1142,152L1139,152L1131,147L1126,151L1118,149L1115,152L1113,148L1109,147L1105,153L1102,151L1091,151L1087,148L1084,150L1079,149L1075,152L1067,153L1065,151L1066,147L1068,146L1067,145L1060,149L1054,148L1051,152L1041,151L1038,153L1034,153L1031,149L1024,149L1022,147L1019,153L1016,153L1013,149L1005,149L1000,151L997,148L991,151L975,152L972,150L967,153L962,150L948,152L939,149L935,153L927,148L924,151L918,151L911,148L905,153L901,150L896,151L894,146L891,145L888,147L891,151L890,154L888,154L884,148L879,152L876,149L871,148L867,153L863,148L857,150L856,147L854,147L851,152L846,152L843,146L841,146L835,150L833,148L827,148L827,150L822,154L817,150L813,151L813,147L810,149L804,148L800,153L796,153L792,150L790,152L781,153L774,151L772,148L762,148L752,151L757,155L756,157L752,157L745,148L738,147L737,153L733,153L728,150L723,152L718,149L719,152L717,154L709,146L707,146L704,149L705,153L702,154L702,148L699,147L695,149L692,148L689,152L682,151L679,148L668,151L663,144L660,144L653,151L649,150L648,148L634,149L630,146L627,152L618,152L617,147L614,147L612,149L600,150L593,154L586,153L584,155L578,151L584,148L588,150L590,147L586,144L578,147L571,145L570,147L566,148L567,150L565,153L562,152L561,147L551,151L535,153L534,151L537,148L533,144L530,150L524,148L521,153L518,152L518,149L513,153L508,150L500,152L499,149L495,149L488,155L485,152L486,147L478,150L472,146L463,148L462,153L459,151L457,152L454,148L442,151L433,151L430,149L420,151L415,148L406,152L401,148L396,148L393,150L384,150L375,154L372,152L371,147L367,147L361,150L361,155L346,149L341,149L338,154L327,155L325,150L320,148L310,148L308,152L299,152L297,150L292,152L283,147L276,146L273,148L268,147L266,150L261,150L258,153L252,147L253,151L248,152L250,169L248,172L251,174L251,177L246,184L247,189L244,191L246,195L244,200L250,202L247,207L253,217L251,220L253,231L250,233L252,236L252,242L248,249L249,271L247,274L247,278L250,281L248,284L252,287L249,306L252,306L253,308L245,316L248,320L249,313L252,315L251,321L254,326L249,335L249,358L252,361L251,366L253,372L250,375L247,375L244,372L246,378L245,382L249,385L251,397L246,399L253,409L251,410L252,413L249,417L245,414ZM409,541L412,543L410,546L407,545ZM674,537L675,540L673,541L672,539ZM537,504L538,503L545,507L543,509L540,508ZM522,478L525,477L526,480L523,482ZM427,471L430,469L432,472L429,473ZM480,463L482,466L478,471L475,471L473,468ZM439,450L441,455L435,464L434,460L436,453L434,452ZM427,452L429,450L432,451L430,455ZM475,449L477,447L479,448L477,450ZM495,435L497,441L495,447L497,452L494,459L492,455L489,455L488,453L486,455L485,450L483,448L485,447L483,446L483,443L485,441L492,441ZM490,432L493,431L494,434L492,435ZM436,429L439,436L433,436L431,438L430,436L435,434ZM489,423L491,427L490,430L487,428ZM466,421L470,424L470,428L464,428L463,431L462,426ZM279,422L281,421L282,424L281,425ZM372,420L376,419L377,422L374,423ZM600,421L603,417L606,418L605,420ZM581,418L594,418L601,422L596,423L592,420L583,421ZM683,416L686,422L685,423L681,420ZM638,420L642,417L643,419L642,417L644,416L646,422L644,423ZM283,416L284,419L280,420L279,419ZM610,420L611,417L609,415L614,414L616,416L612,421ZM576,405L578,403L582,407L579,408ZM301,403L302,404L300,407L299,404ZM506,403L508,402L510,406L507,406ZM522,395L524,394L526,396L524,397ZM492,394L493,399L497,397L500,399L495,405L496,409L500,412L499,418L504,422L500,425L493,421L493,416L495,413L493,403L490,399ZM472,393L474,396L471,398L469,395ZM474,389L485,391L494,390L496,392L493,395L493,392L487,395L490,406L485,409L491,415L490,424L488,420L484,420L478,414L482,400L478,395L478,392L472,392L475,391L473,390ZM321,387L323,386L325,388L323,389ZM543,361L547,360L549,363L547,365ZM648,345L649,347L647,350L653,357L650,361L652,363L651,366L647,367L644,365L641,368L636,367L633,369L631,366L633,359L629,353L632,350L640,352ZM1484,343L1487,346L1486,349L1479,356L1478,354L1483,350L1483,348L1479,346ZM1421,344L1425,343L1426,345L1422,346ZM382,318L398,318L399,320L396,322L390,321L389,322L391,325L387,326L383,322L384,321ZM431,336L432,333L440,327L440,324L439,326L437,322L444,318L445,313L448,315L460,315L460,323L457,327L467,336L465,340L467,343L467,352L477,355L483,361L487,361L488,367L493,364L492,362L494,359L500,363L507,360L512,365L516,364L518,368L520,368L526,360L533,366L539,362L543,363L547,369L549,368L550,370L548,373L538,372L535,374L533,379L530,379L524,385L519,383L514,388L510,388L507,384L504,384L500,380L493,381L492,377L490,379L490,383L486,385L478,382L475,379L475,376L465,374L461,369L461,366L455,366L449,356L449,353L447,354L437,350L435,348L436,342ZM736,314L739,312L741,316L737,316ZM646,310L648,314L657,317L654,324L660,328L658,335L661,342L653,348L647,345L642,350L639,348L640,342L626,329L626,324L629,313L633,315L640,314L642,310ZM403,306L404,308L399,314L400,308ZM352,301L352,306L355,310L352,313L351,321L353,325L358,328L357,329L353,328L349,322L349,304ZM371,293L373,295L373,315L374,317L381,318L378,320L374,320L371,317L372,311L370,308L369,299ZM353,288L355,290L355,300L353,302L351,293ZM863,283L866,282L867,286L864,287ZM455,282L456,288L444,299L443,303L437,310L438,316L433,321L431,319L427,321L425,319L425,315L421,312L422,309L415,306L408,307L406,305L413,304L416,300L419,300L421,306L425,309L428,316L430,316L429,310L436,307L437,304L438,305L440,298L447,291L453,288L452,281L453,280ZM795,247L799,249L803,248L808,251L814,250L816,252L817,258L825,265L820,271L821,277L818,280L815,279L813,275L800,275L792,262L797,258L794,253ZM725,244L724,247L722,246L726,249L721,255L702,254L704,252L713,252L715,250L718,252L720,251L720,243L723,242ZM726,244L728,241L731,242L728,245ZM334,228L334,232L339,238L337,240L335,238L331,240L333,245L332,250L329,253L325,253L321,247L323,242L317,242L315,239L317,236L320,236L322,231L325,231L326,233ZM633,223L620,229L610,228L605,232L602,230L602,227L598,233L593,232L585,239L581,235L577,239L578,242L576,244L574,243L577,234L583,231L586,235L590,230L596,229L598,225L604,221L612,226L618,226L615,221L616,219L623,219ZM416,219L421,230L418,232L421,232L424,229L429,229L437,238L436,242L439,246L438,255L435,257L437,261L433,264L425,277L422,278L418,273L416,274L418,279L414,279L412,285L418,284L421,288L418,291L418,294L414,296L406,295L403,296L404,297L401,300L396,299L392,302L386,298L383,300L379,293L378,298L374,299L372,296L375,290L373,285L367,281L362,283L355,275L354,265L356,263L365,266L365,261L370,259L371,255L379,250L375,243L377,239L387,241L386,233L388,232L392,235L397,232L400,227L402,227L405,232L409,232L410,229L415,226ZM371,217L373,227L377,229L375,231L368,224ZM414,219L415,216L417,218L415,220ZM360,216L366,216L364,219ZM1595,216L1597,214L1599,217L1596,218ZM365,215L368,214L370,216L368,217ZM641,206L647,206L649,209L656,206L666,206L668,208L674,207L676,211L689,211L692,208L695,216L703,215L706,212L715,213L717,215L722,215L729,221L726,225L728,228L728,232L726,234L726,230L714,229L709,225L705,225L702,229L696,232L691,229L690,225L687,225L684,229L696,240L694,248L697,251L695,254L698,256L699,253L702,254L703,261L708,258L705,255L706,254L722,256L725,258L717,267L718,270L713,281L711,293L706,299L702,299L702,303L700,305L695,302L684,303L684,299L688,296L688,289L686,285L688,274L685,273L680,275L676,269L673,274L663,276L662,281L657,283L662,287L661,295L667,299L664,303L661,301L662,298L660,297L660,299L653,304L650,301L653,296L650,295L647,299L633,303L630,307L627,304L631,295L638,290L636,288L637,284L644,283L644,280L639,277L640,275L651,269L655,270L653,266L648,263L649,259L645,253L638,250L639,247L632,236L634,233L624,229L635,225L645,231L641,227L642,224L639,220L643,214L643,212L638,209ZM421,202L424,208L416,217L416,213L421,209L419,203ZM388,194L396,198L394,201L391,201L390,204L395,204L397,207L394,210L390,209L393,214L390,216L391,221L386,224L384,233L386,239L382,240L381,231L385,220L385,212L387,209L387,205L385,203L388,199ZM1150,155L1155,153L1157,156L1152,157ZM606,153L609,150L612,151L610,154Z"/>
<path fill="#CC0000" fill-rule="evenodd" d="M698,630L695,635L698,637L699,641L694,641L692,644L696,649L694,654L701,653L702,655L704,653L702,650L705,648L699,636ZM701,628L704,632L705,628ZM637,627L633,628L630,632L627,629L626,631L629,634L629,636L625,638L627,640L630,640L636,636L634,630L636,630ZM455,616L454,618L457,620L457,616ZM444,607L448,613L453,613L453,609L450,610ZM605,606L603,612L604,614L610,615L608,619L610,624L615,626L621,625L623,628L623,621L618,612L615,613L610,607L607,608ZM401,588L394,590L397,592L397,600L400,600L400,598L404,595L405,591ZM677,581L674,583L675,585L678,582ZM405,576L406,580L403,583L404,587L405,586L408,591L414,589L412,590L408,585L408,581ZM657,563L664,568L664,573L667,579L672,578L672,576L677,573L668,568L669,566L672,566L667,563L667,567L664,568ZM553,560L554,564L551,568L550,574L552,582L566,594L565,599L570,600L577,597L579,592L575,589L571,589L569,585L570,583L567,578L569,572L565,572L557,560ZM474,544L473,546L482,550L480,553L483,549L482,545L475,546ZM549,532L549,534L552,534L552,549L549,550L552,553L552,556L555,557L561,553L555,544L557,540L552,537L555,533ZM604,498L603,504L600,506L601,509L604,511L606,509L613,511L612,507L616,506L617,503L611,501L609,498ZM627,492L630,496L626,499L635,501L636,498ZM622,478L630,479L635,484L638,482L641,488L646,489L650,483L655,483L659,479L653,481L643,477L639,480L635,475L630,477L623,476ZM300,467L304,472L308,469L305,471L303,467ZM306,455L303,457L301,462L305,459ZM443,450L444,453L448,452L450,454L451,459L452,457L450,452L445,452ZM712,443L709,444L708,449L712,447ZM294,442L294,444L303,444L297,441ZM287,439L290,445L289,440ZM400,425L401,433L402,429L408,433ZM458,421L454,422L456,425L454,428L450,427L450,433L455,436L452,441L454,445L456,445L455,440L458,437L456,432ZM552,419L549,417L546,420L549,417ZM299,417L298,424L302,427L302,431L304,433L305,431L308,432L308,428L299,423ZM449,415L444,418L446,421L445,419ZM397,410L394,411L395,418L395,413ZM734,409L735,414L732,416L732,419L737,423L733,419L736,414ZM390,405L384,411L388,418L388,424L386,427L388,428L389,433L393,431L393,427L391,429L389,428L392,419L390,414L386,415L384,411ZM388,419L390,418L391,421L390,422ZM292,400L287,401L284,406L281,404L276,405L281,405L283,408L288,406L291,409ZM324,399L320,400L321,406L315,409L315,411L306,412L302,406L304,409L299,411L306,416L303,419L316,425L318,430L314,431L319,433L316,421L311,421L305,414L307,411L314,412L318,408L324,407L322,404ZM302,399L297,400L296,398L297,408L293,410L299,408L299,403ZM308,395L305,398L306,402L308,400L306,399ZM444,394L442,395L444,397L444,411L445,412L444,411L447,409L452,415L453,412L451,410L453,408L455,410L454,406L450,404L452,401L447,401L446,399L448,396L447,397ZM389,392L391,403L392,397ZM310,375L305,376L301,380L302,384L299,391L304,389L303,385L306,382L306,377ZM300,368L303,373L307,373L302,371L304,367ZM737,361L733,364L738,375L736,377L738,387L735,390L737,393L733,407L733,404L736,402L735,396L738,388L738,373L733,365ZM291,354L297,364L302,365L301,364L305,362L305,359L302,359L296,353ZM291,343L289,346L285,345L287,347L291,346ZM735,319L736,325L734,327L734,332L736,333L735,335L737,340L734,342L735,350L732,355L735,355L738,359L735,354L735,348L742,345L747,340L754,339L746,335L750,331L752,325L747,326L743,321ZM735,341L737,344L736,346L734,345ZM1225,319L1218,319L1217,322L1224,322ZM736,261L735,268L740,273L739,275L737,274L734,279L738,280L737,286L739,279L736,277L738,275L746,278L749,277L751,279L755,277L759,278L757,276L757,272L750,270L748,267L743,268L741,264L739,265L738,270ZM842,262L837,262L835,264L831,259L829,263L831,267L829,269L827,267L825,268L831,270L831,273L827,276L830,278L834,277L834,268ZM747,238L752,249L752,252L747,258L748,260L758,259L760,257L766,258L768,253L764,249L764,239L757,238L751,241ZM880,235L884,244L889,242L889,237ZM777,234L776,241L778,242L781,240L785,242L786,245L783,247L784,248L789,244L789,241L781,234ZM818,195L821,198L824,207L829,209L845,208L855,199L855,197L851,199L845,197L840,199L830,197L825,200ZM951,153L952,156L957,155L959,157L960,164L959,167L956,166L953,170L958,177L958,180L952,185L951,190L956,197L955,205L958,209L953,213L953,215L955,217L955,222L963,222L959,225L955,238L957,240L961,238L965,242L965,244L959,248L963,252L961,257L965,257L973,264L972,266L979,270L978,274L983,275L977,280L983,284L985,289L990,288L994,281L997,284L995,285L1000,289L999,292L1002,296L1010,292L1017,294L1025,293L1030,299L1037,299L1039,301L1043,301L1051,307L1056,307L1057,312L1062,310L1069,312L1077,319L1082,321L1089,320L1093,325L1101,325L1108,322L1112,327L1122,326L1124,328L1126,327L1127,329L1128,327L1134,327L1137,330L1144,330L1147,326L1153,326L1156,329L1162,327L1169,329L1166,325L1169,322L1174,324L1173,327L1176,327L1179,324L1183,326L1187,322L1196,327L1201,322L1204,326L1208,327L1208,322L1222,313L1224,316L1226,311L1238,308L1241,310L1241,314L1243,311L1243,305L1246,302L1250,302L1255,306L1263,301L1266,302L1269,307L1274,307L1276,309L1289,307L1289,310L1292,312L1296,310L1298,314L1297,316L1298,312L1301,311L1307,317L1305,320L1306,323L1320,319L1329,327L1336,324L1338,329L1352,332L1355,335L1350,338L1356,340L1360,345L1362,345L1363,351L1366,354L1371,350L1374,352L1374,357L1379,359L1388,357L1395,362L1399,358L1406,361L1407,365L1410,367L1408,358L1413,349L1417,346L1420,346L1422,349L1428,346L1428,343L1423,343L1419,340L1419,338L1423,335L1421,328L1422,321L1417,318L1421,314L1418,309L1420,306L1424,310L1429,309L1431,311L1430,313L1426,312L1429,326L1433,329L1433,331L1428,335L1428,338L1436,345L1441,345L1446,349L1449,347L1464,347L1468,342L1479,342L1481,336L1494,336L1497,333L1496,327L1499,325L1502,327L1499,330L1501,333L1507,332L1503,329L1510,328L1515,324L1519,325L1525,316L1528,319L1527,320L1535,319L1539,314L1543,314L1548,310L1555,318L1551,323L1549,323L1564,321L1566,323L1571,322L1574,324L1576,322L1584,322L1584,318L1587,316L1590,316L1598,324L1598,313L1602,310L1600,305L1603,302L1603,299L1596,292L1599,289L1603,292L1605,291L1602,278L1599,274L1600,267L1598,263L1598,259L1602,257L1601,247L1596,251L1595,248L1596,243L1602,237L1601,229L1597,224L1599,218L1603,217L1604,215L1601,211L1601,207L1604,203L1602,196L1599,195L1601,192L1604,194L1604,192L1601,190L1602,183L1597,183L1596,181L1601,179L1605,172L1599,164L1604,157L1601,155L1597,159L1595,158L1599,148L1595,147L1587,148L1585,153L1580,153L1577,149L1570,152L1565,146L1558,149L1553,148L1549,152L1544,152L1537,149L1531,153L1529,152L1529,148L1522,152L1516,151L1512,147L1513,150L1507,154L1506,149L1509,146L1507,145L1506,148L1496,148L1491,153L1488,153L1481,147L1474,150L1466,148L1464,150L1465,153L1462,155L1456,148L1450,149L1449,152L1442,148L1438,148L1438,153L1435,154L1433,149L1418,148L1416,151L1403,148L1400,151L1395,146L1393,148L1388,148L1387,151L1380,156L1376,154L1375,148L1371,150L1366,149L1363,153L1360,153L1352,147L1344,150L1337,150L1337,146L1334,146L1331,150L1323,147L1321,151L1310,150L1307,153L1302,153L1295,147L1288,147L1288,150L1285,153L1279,148L1277,151L1270,151L1267,148L1263,148L1260,152L1252,152L1248,150L1241,152L1239,148L1235,147L1230,151L1222,149L1218,153L1215,150L1210,151L1199,145L1200,151L1198,153L1188,152L1186,149L1190,145L1183,149L1170,146L1163,147L1160,150L1145,150L1142,152L1139,152L1131,147L1126,151L1118,149L1115,152L1113,148L1109,147L1105,153L1102,151L1091,151L1087,148L1084,150L1079,149L1075,152L1067,153L1065,151L1066,147L1068,146L1067,145L1060,149L1054,148L1051,152L1041,151L1038,153L1034,153L1031,149L1024,149L1022,147L1019,153L1016,153L1013,149L1005,149L1000,151L997,148L991,151L975,152L972,150L965,153L962,150L956,150ZM1421,344L1425,343L1426,345L1422,346ZM1595,216L1597,214L1599,217L1596,218ZM1150,155L1155,153L1157,156L1152,157ZM252,147L253,151L248,152L250,169L248,172L251,174L251,177L246,184L247,189L244,191L246,195L244,200L250,202L247,207L253,217L251,220L253,231L250,233L252,236L252,242L248,249L249,271L247,274L247,278L250,281L248,284L252,287L249,306L252,306L253,308L245,316L248,320L249,313L252,315L251,321L254,326L249,335L249,358L252,361L251,366L253,372L250,375L247,375L244,372L246,378L245,382L249,385L251,397L246,399L253,409L251,410L252,413L249,417L245,414L243,416L245,419L249,418L253,422L260,419L277,419L279,421L278,426L282,430L287,427L286,418L284,415L284,419L281,421L282,424L281,425L278,420L282,417L282,412L274,406L274,404L279,400L279,397L284,393L279,391L279,384L283,376L286,375L284,375L282,370L276,365L280,362L277,354L280,350L280,337L281,336L285,340L290,336L300,338L296,336L297,331L302,328L300,322L304,319L304,317L300,314L300,309L297,303L301,299L299,296L301,287L303,289L303,292L310,293L318,288L318,292L324,296L324,299L322,301L319,301L318,299L317,301L320,304L319,306L326,309L328,316L325,322L327,326L320,332L317,339L321,343L322,355L324,357L322,360L325,363L327,362L328,367L330,368L328,375L331,373L333,376L330,376L331,380L324,383L323,386L327,387L329,391L331,391L327,396L326,410L332,412L335,419L335,428L338,425L341,426L338,435L343,440L342,442L345,442L353,451L355,460L361,465L361,468L358,470L361,474L360,478L367,488L374,486L377,489L376,491L372,491L370,494L373,495L377,501L379,500L384,504L385,509L388,510L390,515L389,521L401,529L404,537L403,539L408,542L406,546L409,548L405,552L405,554L408,555L406,556L413,556L415,558L413,562L412,560L414,563L416,561L419,562L421,561L420,558L423,555L423,550L429,557L426,560L423,558L424,560L420,565L418,564L416,566L411,563L407,564L407,573L411,570L413,575L413,568L419,570L418,580L419,573L426,567L423,563L429,558L427,547L431,545L432,538L425,530L423,519L417,518L413,513L410,516L419,520L420,524L418,530L422,541L420,542L416,537L411,537L412,535L417,534L415,534L414,530L409,526L411,521L405,516L405,511L409,510L408,502L402,504L400,501L404,499L397,496L391,490L390,485L386,485L381,482L373,471L375,468L372,465L373,463L376,463L378,466L382,463L375,453L377,451L374,446L376,441L373,438L374,425L385,422L377,420L380,416L379,413L372,407L371,395L374,394L376,387L381,392L387,390L393,391L394,389L395,392L399,389L406,391L411,396L413,393L418,391L418,389L423,391L425,387L430,396L434,394L432,394L428,382L423,379L425,371L421,365L420,359L416,362L412,360L413,353L411,353L412,347L413,349L413,346L409,338L405,337L406,335L414,336L416,338L423,338L426,342L425,346L429,350L428,355L432,364L437,367L436,369L439,377L443,380L447,387L452,387L454,389L467,389L468,391L466,393L469,397L466,399L466,404L473,402L478,406L476,411L479,420L477,422L473,421L478,423L481,427L479,431L476,432L472,442L479,449L473,453L476,456L474,458L468,452L474,449L469,442L472,434L470,430L465,429L463,434L461,432L463,421L467,421L468,423L468,417L464,415L466,412L462,413L464,418L460,429L462,437L457,443L459,446L457,451L458,454L456,455L459,460L455,462L459,465L455,473L450,476L448,481L443,473L445,471L443,465L438,462L442,456L441,455L436,461L435,467L435,453L433,452L430,455L427,454L432,445L431,441L433,438L436,442L436,446L433,450L441,450L446,435L445,423L442,427L439,426L438,433L440,436L438,438L433,437L432,439L429,437L435,430L435,425L431,425L430,433L426,435L424,439L428,445L428,447L422,451L426,464L433,460L434,470L436,468L439,470L436,476L429,474L427,476L424,475L422,478L427,480L426,484L428,487L430,487L438,495L441,495L443,489L454,489L452,485L454,483L459,484L461,482L460,475L463,473L462,469L464,466L462,463L464,460L469,464L476,464L480,462L482,464L480,472L478,474L474,473L471,475L471,479L475,484L476,480L480,479L481,477L483,482L485,479L484,478L489,472L488,469L494,463L492,456L487,459L485,458L485,451L481,447L485,441L490,441L492,439L489,436L490,432L486,428L487,420L483,420L477,412L482,400L478,396L478,393L474,393L472,398L469,395L473,390L478,390L477,388L479,387L481,389L494,390L497,393L496,394L501,390L503,391L500,395L501,400L496,403L496,409L501,412L499,418L504,422L499,426L501,431L497,435L496,434L497,423L492,421L493,413L495,413L493,411L493,403L490,396L493,392L488,396L491,407L487,408L487,411L492,415L491,424L493,425L491,430L495,431L497,441L495,447L498,451L495,456L501,463L499,474L500,476L503,474L505,475L505,478L502,481L501,479L497,478L496,482L507,489L507,485L510,482L508,479L508,473L511,470L502,458L506,458L506,454L509,453L512,460L510,458L512,453L509,451L506,444L508,441L504,441L503,443L501,442L505,423L504,415L508,414L503,399L504,398L506,401L509,401L513,406L513,409L510,398L505,395L506,393L508,394L511,391L514,391L515,393L513,397L517,394L523,399L528,393L532,393L534,395L535,390L538,389L542,392L546,391L550,395L553,394L555,397L552,401L554,408L557,410L554,417L562,430L561,433L563,433L563,440L560,443L560,446L567,450L563,455L564,457L561,458L563,466L558,470L553,467L558,471L556,476L552,476L553,479L551,484L553,488L547,491L547,496L545,498L539,497L538,503L545,507L541,511L535,513L535,517L538,521L545,521L550,527L564,523L564,519L571,519L574,517L576,507L570,502L570,497L576,492L572,487L572,483L578,476L578,470L574,466L575,458L582,458L590,453L588,446L591,440L599,442L605,434L608,435L620,430L623,433L624,439L619,444L619,447L623,449L621,457L618,459L619,464L622,460L629,460L631,462L638,463L636,459L638,457L648,455L658,460L660,463L664,459L665,467L662,469L666,469L669,473L669,478L664,482L662,490L656,494L648,504L641,508L638,513L630,515L625,512L621,512L624,519L622,524L625,527L625,533L629,531L639,531L644,527L648,531L652,528L658,528L660,526L662,528L660,531L662,536L659,537L660,542L666,545L667,543L662,532L664,531L663,526L667,524L658,517L660,515L663,518L666,517L671,525L668,529L668,537L671,542L669,547L675,549L671,552L668,558L671,558L675,562L680,560L683,563L680,567L688,570L691,563L696,564L699,561L704,564L710,562L709,558L712,553L722,549L721,542L723,540L723,531L719,530L722,526L722,521L727,517L725,519L721,519L718,515L717,509L714,507L712,500L712,488L714,484L711,486L708,484L710,477L707,470L711,463L706,460L705,441L712,437L712,428L705,420L708,419L711,421L712,419L709,417L711,415L718,417L716,414L712,414L715,410L712,403L715,402L716,399L707,392L707,390L712,386L712,381L709,377L714,371L707,368L706,364L708,360L703,358L699,353L695,352L692,344L695,336L688,330L690,325L688,322L695,322L696,321L694,318L696,313L701,311L701,309L706,305L711,309L712,304L715,302L718,303L718,308L720,308L721,305L724,305L733,310L734,313L740,310L738,306L739,304L735,299L737,289L735,299L739,305L737,307L733,307L732,310L718,302L713,303L710,307L706,305L701,309L697,309L693,306L686,306L680,310L678,308L679,307L675,305L669,311L654,309L654,313L661,317L657,323L664,329L670,339L663,342L660,353L658,350L654,350L655,355L652,355L653,357L650,361L652,364L650,367L644,365L641,368L636,367L633,369L631,366L633,359L629,353L632,350L638,351L633,349L635,339L625,330L625,323L623,322L626,317L625,313L633,311L639,312L642,308L650,308L647,307L648,303L646,302L643,304L644,306L642,308L639,307L639,304L636,304L633,311L629,310L626,312L624,308L625,301L622,302L619,298L621,296L627,297L629,295L625,276L635,267L634,262L636,257L631,257L627,253L621,252L617,246L613,247L607,240L601,239L600,242L597,243L590,239L591,235L585,239L581,235L579,236L576,244L570,243L571,236L568,237L567,241L564,240L560,242L558,239L562,236L558,224L565,223L566,221L559,221L558,217L560,212L564,209L562,205L564,202L569,202L572,200L583,201L583,196L586,196L590,201L607,200L608,195L612,194L615,196L615,200L621,198L627,202L630,197L636,199L639,195L641,195L646,202L649,197L654,197L659,193L662,195L662,200L666,195L668,195L669,201L687,200L688,198L686,196L691,194L692,197L700,197L706,193L710,199L713,199L717,195L723,199L727,196L733,195L736,198L734,203L737,206L734,209L736,218L733,222L736,228L733,230L732,235L735,235L737,238L736,245L737,234L736,227L733,222L735,219L738,219L744,215L746,216L747,221L752,219L758,221L760,219L762,221L759,225L761,226L762,223L769,222L772,227L779,230L783,230L785,226L798,228L798,219L794,222L791,218L793,214L793,207L795,205L793,202L793,197L791,196L788,198L784,195L778,200L773,197L770,201L766,197L762,198L757,196L756,199L751,200L745,193L737,196L735,194L738,188L736,185L737,172L733,166L735,161L734,157L728,150L723,152L718,149L719,152L717,154L709,146L704,149L704,154L701,153L702,148L699,147L695,149L692,148L689,152L682,151L679,148L668,151L665,148L665,145L660,144L653,151L649,150L648,148L634,149L630,146L627,152L618,152L617,147L614,147L612,149L600,150L593,154L586,153L584,155L578,151L584,148L588,150L590,147L586,144L578,147L571,145L570,147L566,148L567,150L565,153L562,152L561,147L551,151L535,153L534,151L537,148L533,144L530,150L524,148L521,153L518,152L518,149L513,153L508,150L500,152L499,149L495,149L488,155L485,152L486,147L478,150L472,146L463,148L462,153L459,151L457,152L454,148L442,151L433,151L430,149L420,151L415,148L406,152L401,148L396,148L393,150L384,150L375,154L372,152L371,147L367,147L361,150L361,155L346,149L341,149L338,154L327,155L325,150L320,148L310,148L308,152L299,152L297,150L292,152L283,147L276,146L273,148L268,147L266,150L261,150L258,153ZM409,541L412,543L410,546L407,545ZM674,537L675,540L673,541L672,539ZM456,475L457,477L454,480L453,477ZM437,466L441,464L443,469L442,470L439,468L441,467L439,468ZM460,449L464,448L465,453L462,454ZM463,434L465,433L466,436L464,437ZM372,420L376,419L377,422L374,425ZM600,421L603,417L606,418L605,420ZM581,418L594,418L601,422L596,423L592,420L583,421ZM683,416L686,422L685,423L681,420ZM638,420L642,417L643,419L642,417L644,416L646,422L644,423ZM371,416L373,415L375,418L372,419ZM610,420L611,417L609,415L614,414L616,416L612,421ZM576,405L578,403L582,407L579,408ZM522,395L524,394L526,396L524,397ZM347,392L354,397L354,394L356,394L355,402L357,404L359,400L365,401L371,409L370,412L365,414L370,420L369,421L364,418L358,423L358,429L355,431L355,425L345,416L346,409L341,412L339,410L341,405L340,396ZM382,318L398,318L399,320L396,322L390,321L389,322L391,325L387,326L383,322L384,321ZM431,336L432,333L438,328L435,324L437,320L442,318L443,313L447,311L449,313L453,312L462,316L460,328L469,335L467,351L478,355L484,360L488,359L491,361L495,354L497,355L499,361L501,360L502,356L507,356L509,358L515,357L519,354L522,357L527,358L529,362L532,362L534,360L534,351L532,350L536,347L530,343L539,337L546,337L547,333L550,331L553,332L552,337L559,341L555,343L555,346L561,346L566,354L557,363L553,361L550,362L550,371L547,375L543,377L541,373L536,374L535,380L530,379L524,385L519,383L514,388L510,388L508,385L502,384L498,381L486,387L483,384L477,383L472,378L470,380L469,375L463,374L460,369L453,365L448,354L446,355L438,352L435,349L436,342ZM403,306L404,308L399,314L400,308ZM636,304L638,305L637,310L635,309ZM352,301L352,306L355,310L352,313L351,321L353,325L358,328L357,329L353,328L349,322L349,304ZM371,293L373,295L373,315L374,317L381,318L378,320L374,320L371,317L372,311L370,308L369,299ZM353,288L355,290L355,300L353,302L351,293ZM441,281L444,283L441,287L439,285ZM455,282L456,288L444,299L443,303L437,310L438,316L433,321L431,319L427,321L425,319L425,315L421,312L422,309L415,306L408,307L406,305L413,304L416,300L419,300L421,306L425,309L428,316L430,316L429,310L436,307L437,304L438,305L440,298L447,291L453,288L452,281L453,280ZM335,228L339,238L337,240L332,239L333,255L336,258L337,263L332,268L334,271L325,283L326,285L324,287L322,285L311,285L308,281L295,279L293,274L299,268L295,255L299,252L296,251L293,255L291,248L293,247L303,251L306,254L311,254L314,248L323,243L322,241L317,242L315,240L316,237L320,236L322,231L325,231L326,233ZM371,217L373,227L377,229L375,231L368,224ZM414,219L415,216L417,218L415,220ZM360,216L366,216L364,219ZM365,215L368,214L370,216L368,217ZM735,214L737,213L739,216L737,217ZM421,202L424,208L416,217L416,213L421,209L419,203ZM736,199L738,197L740,199L738,201ZM560,195L563,199L560,201L558,199ZM388,194L396,198L394,201L391,201L390,204L395,204L397,207L394,210L390,209L393,214L390,216L391,221L386,224L386,226L396,224L397,222L399,222L400,225L405,226L405,220L416,222L416,219L418,222L424,223L434,232L435,235L439,236L441,240L442,239L445,242L441,248L445,251L445,259L448,265L448,271L441,280L427,281L424,284L418,283L417,284L421,288L418,291L418,294L414,296L406,295L403,296L404,297L401,300L396,299L393,302L386,298L383,300L380,293L378,294L378,298L374,299L372,296L375,289L373,287L371,288L367,283L365,283L361,288L357,287L356,285L358,282L354,277L352,265L357,260L359,262L361,261L356,259L357,256L361,255L362,253L365,255L368,254L367,250L369,247L372,250L376,250L373,242L381,236L381,231L383,229L382,226L385,220L385,212L387,209L387,205L385,203L388,199ZM606,153L609,150L612,151L610,154Z"/>
</g>
<path d="M1121,283 L1093,322 L1100,321 L1126,288 Z" fill="#fff" stroke="#000" stroke-width="3.5" stroke-linejoin="round"/>
<path d="M1066,224 L1080,218 L1086,215 L1084,219 L1070,227 Z" fill="#CC0000" stroke="#CC0000" stroke-width="2"/>
<path d="M1408,431 L1422,425 L1440,418 L1456,411 L1459,416 L1443,425 L1425,433 L1410,437 Z" fill="#B3CD47" stroke="#000" stroke-width="3" stroke-linejoin="round"/>
<path d="M309,203 L315,199 L323,203 L325,212 L330,220 L331,232 L327,246 L318,252 L311,248 L314,238 L320,228 L316,220 L309,214 Z" fill="#000" stroke="#000" stroke-width="2" stroke-linejoin="round"/>
<path d="M319,222 L323,226 L322,234 L318,232 Z" fill="#CC0000"/>
<path d="M320,500 L326,496 L333,498 L333,506 L331,512 L337,519 L334,523 L327,517 L324,511 L322,505 Z" fill="#000" stroke="#000" stroke-width="2"/>
<ellipse cx="386" cy="613" rx="5" ry="2" fill="#1A72CF"/>
<ellipse cx="397" cy="614" rx="4" ry="2" fill="#1A72CF"/>
<ellipse cx="390" cy="627" rx="2" ry="2" fill="#1A72CF"/>
<ellipse cx="413" cy="631" rx="2" ry="3" fill="#1A72CF"/>
<ellipse cx="416" cy="643" rx="2" ry="3" fill="#1A72CF"/>
<ellipse cx="1212" cy="877" rx="3" ry="1.5" fill="#1A72CF"/>
<ellipse cx="1226" cy="874" rx="4" ry="2" fill="#1A72CF"/>
<ellipse cx="1240" cy="870" rx="4" ry="2" fill="#1A72CF"/>
<ellipse cx="1252" cy="866" rx="3" ry="2" fill="#1A72CF"/>
<ellipse cx="1261" cy="860" rx="3" ry="2" fill="#1A72CF"/>
<ellipse cx="1266" cy="856" rx="2" ry="2" fill="#1A72CF"/>
<ellipse cx="1489" cy="413" rx="4" ry="2" fill="#000"/><ellipse cx="1500" cy="411" rx="3" ry="2" fill="#000"/>
<g fill="none" stroke="#000" stroke-width="4.3" stroke-linejoin="round" stroke-linecap="round">
<path d="M273.4,212.8 L290.2,217.8 L310.0,220.3 L312.0,210.0 L314.0,200.0 L317.1,195.5 L934.4,195.2 L934.4,184.0 L941.0,184.0 L941.8,190.0 L946.7,201.1 L968.9,207.3 L988.6,207.3 L998.5,214.7 L1018.2,219.6 L1030.5,217.1 L1042.9,220.8 L1060.1,223.3 L1037.9,234.4 L1020.7,246.7 L1005.9,256.6 L998.5,261.5 L1029.9,252.6 L1035.3,260.7 L1056.8,258.0 L1073.0,260.7 L1078.3,255.3 L1089.1,244.6 L1099.9,239.2 L1097.2,243.2 L1089.1,249.9 L1083.7,258.0 L1091.8,255.3 L1110.6,260.7 L1124.1,266.1 L1137.5,260.7 L1161.7,258.0 L1164.4,263.4 L1180.5,266.1 L1185.9,279.5 L1164.0,281.8 L1150.6,278.5 L1130.4,280.2 L1122.0,285.0 L1122.0,293.6 L1111.9,308.7 L1106.9,322.2 L1101.8,332.3 L1099.3,352.4 L1098.5,369.2 L1101.8,387.7 L1108.6,399.5 L1118.7,399.5 L1128.7,387.7 L1135.5,372.6 L1132.1,354.1 L1128.7,337.3 L1130.4,323.9 L1135.5,312.1 L1145.5,302.0 L1154.0,293.6 L1162.4,285.2 L1167.4,285.2 L1180.8,291.9 L1196.0,300.3 L1199.3,310.4 L1197.6,323.9 L1189.2,334.0 L1185.9,340.7 L1190.9,344.0 L1197.6,337.3 L1207.7,334.0 L1214.5,339.0 L1217.8,354.1 L1216.1,369.2 L1211.1,377.6 L1204.4,387.7 L1197.6,397.8 L1194.3,399.0 L1208.4,405.1 L1218.5,408.1 L1232.6,405.1 L1244.7,399.0 L1260.9,393.0 L1277.0,386.9 L1293.2,372.8 L1297.2,364.7 L1294.2,354.7 L1311.3,353.6 L1327.5,356.7 L1341.6,354.7 L1353.7,346.6 L1356.7,336.5 L1355.7,332.5 L1365.8,322.4 L1377.9,312.3 L1388.0,307.2 L1464.0,306.5 L1466.3,299.5 L1475.2,298.4 L1479.7,295.0 L1488.7,283.8 L1491.0,272.6 L1495.4,261.4 L1513.4,239.0 L1517.9,240.1 L1520.1,245.7 L1535.8,241.2 L1545.9,250.2 L1547.0,286.1 L1556.0,290.6 L1556.0,299.5 L1562.7,306.3 L1563.8,313.0 L1547.0,317.5 L1524.6,322.0 L1511.1,335.4 L1495.4,342.2 L1484.2,355.6 L1479.7,364.6 L1482.0,373.6 L1475.2,382.5 L1482.0,391.5 L1488.7,400.5 L1493.2,391.5 L1497.7,396.0 L1495.4,405.0 L1486.5,409.5 L1475.2,407.2 L1466.3,402.7 L1446.1,411.7 L1419.2,416.2 L1410.2,420.7 L1403.5,430.5 L1408.9,432.3 L1407.1,444.8 L1401.7,461.0 L1389.1,475.3 L1394.0,470.2 L1388.0,476.0 L1380.0,470.0 L1374.0,464.0 L1378.0,472.0 L1384.6,481.2 L1384.6,492.2 L1378.4,506.3 L1370.5,520.5 L1364.2,529.9 L1365.8,539.3 L1368.9,550.3 L1372.1,560.0 L1373.8,571.6 L1372.6,582.8 L1357.0,587.3 L1348.0,594.0 L1334.5,598.5 L1325.6,607.4 L1318.8,616.4 L1309.9,618.7 L1300.9,625.4 L1291.9,636.6 L1278.5,647.8 L1265.0,656.8 L1253.8,668.0 L1244.8,681.4 L1240.4,699.4 L1242.1,711.9 L1255.2,762.1 L1270.5,808.0 L1272.7,821.1 L1266.1,853.9 L1253.0,862.7 L1246.4,856.1 L1235.5,840.8 L1231.1,825.5 L1218.0,808.0 L1213.7,790.5 L1211.5,777.4 L1213.7,760.0 L1207.1,749.0 L1196.2,738.1 L1183.1,725.0 L1176.5,728.3 L1163.4,733.7 L1152.5,733.7 L1143.7,720.6 L1130.6,714.0 L1113.1,715.1 L1100.0,720.6 L1094.0,719.6 L1084.2,715.1 L1075.2,714.2 L1064.4,716.9 L1067.1,723.2 L1068.0,729.5 L1058.2,738.4 L1064.4,756.4 L1070.7,751.0 L1057.3,745.6 L1049.2,742.0 L1043.8,751.9 L1037.5,747.4 L1031.3,752.8 L1025.9,749.2 L1020.5,742.0 L1013.3,734.4 L1006.1,732.2 L999.9,733.9 L990.0,738.4 L977.8,733.0 L961.4,734.2 L942.5,738.9 L933.1,750.7 L911.9,762.4 L895.4,774.2 L881.3,786.0 L883.7,800.1 L882.5,814.2 L888.4,837.8 L886.0,841.3 L864.8,836.6 L846.0,828.4 L834.2,795.4 L820.1,776.6 L808.3,750.7 L794.2,734.2 L773.0,731.8 L763.6,738.9 L754.2,756.6 L737.7,748.3 L725.9,738.9 L721.2,724.8 L714.1,708.3 L698.5,697.1 L685.0,683.6 L677.2,673.6 L642.4,676.9 L642.4,689.2 L578.5,689.2 L494.5,656.7 L498.6,650.3 L443.0,655.7 L437.6,640.4 L426.9,626.1 L416.1,622.5 L410.7,614.4 L398.2,610.9 L389.2,603.7 L371.3,602.8 L365.9,599.2 L365.0,584.8 L360.5,577.7 L351.5,568.7 L340.8,554.3 L335.4,543.6 L333.6,533.4 L323.5,521.3 L321.5,505.1 L313.4,501.1 L307.4,489.0 L297.3,476.9 L295.3,464.8 L291.2,452.7 L282.2,440.5 L281.1,432.5 L286.2,418.3 L287.2,404.2 L284.2,392.1 L281.0,389.7 L278.5,367.5 L281.0,360.0 L287.0,328.0 L290.8,286.0 L289.6,273.7 L288.4,251.5 L283.4,241.7 L281.8,235.5 L274.3,222.8 Z"/>
<path d="M289.6,273.7 L313.0,277.4 L319.0,289.8 L334.0,291.0 L358.7,288.5 L378.4,282.4 L400.6,278.7 L447.5,278.7"/>
<path d="M445.0,195.5 L445.0,278.7"/>
<path d="M445.4,279.6 L456.1,287.6 L450.8,309.2 L442.7,325.3 L445.4,330.7 L445.4,391.2"/>
<path d="M284.2,391.6 L578.6,391.6"/>
<path d="M466.9,195.5 L466.9,223.1 L475.0,236.5 L491.1,252.7 L504.6,260.7 L501.9,282.3 L504.6,293.0 L515.3,287.6 L526.1,306.5 L536.9,325.3 L553.0,319.9 L569.2,317.2 L577.2,319.9 L578.6,309.2"/>
<path d="M578.6,307.8 L735.0,307.8"/>
<path d="M578.6,307.8 L578.6,418.6 L780.2,418.6"/>
<path d="M378.6,391.6 L378.6,476.2 L498.2,584.6"/>
<path d="M511.8,391.6 L511.8,555.0 L503.1,555.0 L497.0,557.5 L498.2,584.6"/>
<path d="M498.2,584.6 L504.9,599.2 L509.4,608.2 L504.0,615.3 L500.4,624.3 L496.8,635.0 L499.5,647.6"/>
<path d="M511.8,531.0 L780.2,531.0"/>
<path d="M623.5,418.6 L623.5,689.2"/>
<path d="M735.0,195.2 L735.0,418.6"/>
<path d="M780.2,418.6 L780.2,531.0"/>
<path d="M757.2,531.0 L757.2,672.0 L677.2,672.0"/>
<path d="M757.2,545.9 L825.9,545.9"/>
<path d="M825.9,545.9 L825.9,598.9 L840.7,604.3 L846.1,608.3 L867.6,613.7 L875.7,619.1 L889.1,621.8 L908.0,623.1 L932.2,616.4 L948.3,625.8 L959.1,627.2"/>
<path d="M780.2,531.0 L945.6,531.0"/>
<path d="M945.6,471.1 L945.6,545.1"/>
<path d="M945.6,545.1 L951.0,576.0 L949.7,625.8"/>
<path d="M959.1,627.2 L959.1,670.6 L968.4,687.1 L968.4,701.2 L966.1,717.7 L961.4,733.0"/>
<path d="M959.1,642.8 L1022.3,642.8"/>
<path d="M780.2,446.9 L928.1,446.9 L937.6,455.0 L937.6,465.7 L945.6,471.1"/>
<path d="M735.4,363.2 L858.8,363.2 L871.1,370.0 L886.5,368.5 L903.5,373.1"/>
<path d="M735.0,281.0 L901.9,281.0"/>
<path d="M887.6,195.3 L891.5,204.3 L888.9,219.8 L896.7,236.6 L898.0,262.4 L903.1,275.3 L903.1,283.0 L896.7,289.4 L900.5,294.6 L905.0,299.1 L905.0,351.5 L903.5,370.0 L911.2,394.7 L918.7,420.0 L921.4,430.8 L928.1,446.9"/>
<path d="M905.0,350.3 L1023.1,350.3"/>
<path d="M998.5,261.5 L998.5,273.8 L986.2,283.7 L988.6,298.5 L986.2,313.3 L1003.4,323.1 L1018.2,335.5 L1023.1,352.7 L1028.1,372.4 L1042.9,387.2 L1042.9,402.0 L1035.0,412.0 L1027.4,420.0 L1025.2,424.5 L1020.7,433.5 L1016.2,435.7 L1016.2,451.4 L1029.7,464.8 L1034.2,478.3 L1045.4,480.5 L1040.9,496.2 L1056.6,509.7 L1061.1,520.9 L1065.6,532.1 L1068.9,536.6 L1061.1,545.6 L1049.9,550.0 L1040.9,559.0 L1054.3,559.0 L1049.9,572.5 L1045.4,585.9 L1036.4,597.1 L1027.4,617.3 L1023.6,629.8 L1022.3,642.8 L1025.1,652.6 L1028.3,663.5 L1020.4,676.1 L1015.7,684.0 L1012.6,699.7"/>
<path d="M921.4,430.8 L1016.2,430.8"/>
<path d="M948.3,545.1 L1046.5,545.1 L1047.9,551.8 L1039.8,559.9 L1053.2,559.9"/>
<path d="M1037.9,377.9 L1099.6,377.9"/>
<path d="M1033.0,261.5 L1045.0,269.0 L1087.0,283.7 L1097.0,293.6 L1099.6,306.0 L1094.6,318.2"/>
<path d="M1104.8,398.0 L1104.8,467.1 L1101.4,471.6 L1105.9,482.8 L1094.7,498.5 L1092.5,505.2"/>
<path d="M1104.8,398.0 L1197.6,398.0"/>
<path d="M1165.8,398.0 L1165.3,473.8"/>
<path d="M1068.9,536.6 L1070.0,527.6 L1083.5,527.6 L1090.2,514.2 L1092.5,505.2 L1103.7,505.2 L1114.9,509.7 L1126.1,505.2 L1135.1,503.0 L1144.0,494.0 L1153.0,482.8 L1164.2,478.3 L1165.3,473.8 L1173.2,473.8 L1182.2,482.8 L1193.4,485.0 L1208.8,482.8 L1215.1,492.2 L1221.4,489.1 L1226.1,478.1 L1232.4,473.4 L1241.8,465.5 L1252.8,457.7 L1257.5,438.8 L1259.1,429.4 L1262.1,429.0"/>
<path d="M1262.1,393.0 L1262.1,454.7"/>
<path d="M1279.0,386.0 L1279.0,391.0 L1377.9,391.0 L1384.0,401.1 L1390.0,409.1 L1412.2,419.2"/>
<path d="M1384.0,401.1 L1386.0,411.2 L1379.9,423.1 L1383.1,432.6 L1390.9,443.5 L1373.6,451.4 L1367.4,456.1 L1370.5,456.1 L1373.6,463.9 L1386.2,476.5"/>
<path d="M1262.1,454.7 L1367.6,454.7"/>
<path d="M1284.2,454.7 L1284.2,470.2 L1296.7,462.4 L1309.3,457.7 L1320.3,459.2 L1323.4,470.2 L1331.3,471.8 L1340.7,478.1 L1334.4,485.9 L1334.4,493.8 L1343.8,498.5 L1351.7,507.9"/>
<path d="M1215.1,495.3 L1216.7,503.2 L1224.5,514.2 L1229.2,518.9 L1235.5,525.2 L1244.9,523.6 L1255.9,520.5 L1266.9,514.2 L1271.6,504.8 L1279.5,493.8 L1282.6,487.5 L1288.9,490.6 L1295.2,482.8 L1299.9,478.1 L1306.2,470.2 L1309.3,462.4 L1314.0,459.2 L1320.3,465.5 L1323.4,470.2"/>
<path d="M1229.2,518.9 L1215.1,526.7 L1202.6,536.1 L1190.0,542.4"/>
<path d="M1348.5,467.1 L1356.4,460.8 L1362.7,459.2 L1354.8,474.9 L1351.7,490.6 L1347.0,501.6 L1353.3,514.2 L1347.0,523.6 L1356.4,533.0 L1362.7,529.9"/>
<path d="M1362.7,459.2 L1359.5,467.1 L1359.5,482.8 L1364.2,495.3 L1367.4,507.9 L1364.2,520.5 L1362.7,529.9"/>
<path d="M1068.9,541.1 L1094.7,542.2 L1186.6,542.2 L1240.0,542.2 L1362.6,543.5"/>
<path d="M1240.0,543.3 L1236.0,550.0 L1215.8,559.0 L1195.6,572.5 L1177.7,581.4 L1177.7,587.7"/>
<path d="M1045.4,587.7 L1200.0,587.5 L1220.2,581.7 L1251.6,582.8 L1256.0,591.7 L1280.7,592.2 L1305.4,618.7"/>
<path d="M1200.0,587.5 L1209.0,603.0 L1222.4,625.4 L1235.9,641.1 L1244.8,654.5 L1249.3,668.0"/>
<path d="M1092.5,587.7 L1088.0,620.0 L1084.6,699.0 L1084.2,715.0"/>
<path d="M1147.4,587.7 L1153.0,620.0 L1155.4,640.0 L1163.3,662.0 L1158.6,674.5 L1160.1,698.1 L1163.3,706.0"/>
<path d="M1102.2,698.7 L1159.0,699.8"/>
<path d="M1102.0,699.0 L1105.7,708.0 L1110.0,714.0"/>
<path d="M1163.3,706.0 L1222.4,711.9 L1225.7,716.2 L1229.0,705.3 L1240.0,707.5"/>
<path d="M1012.6,699.7 L1056.4,699.9 L1052.8,708.8 L1058.2,716.0"/>
<path d="M1421.4,306.5 L1420.3,335.4 L1423.6,346.6 L1423.6,370.2 L1421.4,390.4 L1416.9,416.2"/>
<path d="M1465.1,301.8 L1461.8,315.2 L1452.8,328.7 L1446.1,346.6 L1439.3,369.1"/>
<path d="M1473.0,298.4 L1477.5,360.1 L1479.7,364.6"/>
<path d="M1423.6,370.2 L1470.8,371.3 L1479.7,364.6"/>
<path d="M1421.4,390.4 L1465.0,390.4 L1466.3,402.7"/>
<path d="M1457.3,390.4 L1458.0,410.0"/>
<path d="M1389.1,407.2 L1412.5,418.0"/>
<path d="M1367.4,454.7 L1367.4,490.6 L1384.6,490.6"/>
<path d="M1345.0,549.0 L1352.0,556.0 L1348.0,565.0"/>
<path d="M1341.0,574.0 L1350.0,572.0 L1358.0,578.0"/>
<path d="M1338.0,585.0 L1347.0,583.0 L1355.0,592.0"/>
<path d="M1356.0,536.0 L1362.0,545.0"/>
<path d="M936.0,745.0 L940.0,733.0 L945.0,738.0"/>
<path d="M893.0,770.0 L900.0,763.0 L905.0,768.0"/>
<path d="M880.0,792.0 L885.0,786.0"/>
<path d="M876.0,800.0 L882.0,803.0"/>

</g>
</svg></body></html>
